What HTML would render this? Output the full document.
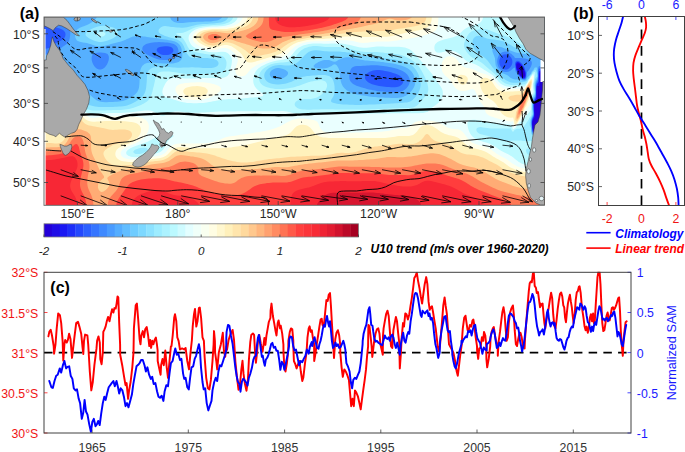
<!DOCTYPE html>
<html><head><meta charset="utf-8"><title>figure</title>
<style>html,body{margin:0;padding:0;background:#fff}svg{display:block}text{font-family:'Liberation Sans', sans-serif}</style></head><body>
<svg width="685" height="452" viewBox="0 0 685 452">
<rect width="685" height="452" fill="#fff"/>
<clipPath id="mc"><rect x="44" y="17" width="500.5" height="188"/></clipPath>
<g clip-path="url(#mc)">
<rect x="44" y="17" width="500.5" height="188" fill="#2400d8"/>
<path fill="#2400d8" d="M43 16L45 16L47 16L49 16L51 16L53 16L55 16L57 16L59 16L61 16L63 16L65 16L67 16L69 16L71 16L73 16L75 16L77 16L79 16L81 16L83 16L85 16L87 16L89 16L91 16L93 16L95 16L97 16L99 16L101 16L103 16L105 16L107 16L109 16L111 16L113 16L115 16L117 16L119 16L121 16L123 16L125 16L127 16L129 16L131 16L133 16L135 16L137 16L139 16L141 16L143 16L145 16L147 16L149 16L151 16L153 16L155 16L157 16L159 16L161 16L163 16L165 16L167 16L169 16L171 16L173 16L175 16L177 16L179 16L181 16L183 16L185 16L187 16L189 16L191 16L193 16L195 16L197 16L199 16L201 16L203 16L205 16L207 16L209 16L211 16L213 16L215 16L217 16L219 16L221 16L223 16L225 16L227 16L229 16L231 16L233 16L235 16L237 16L239 16L241 16L243 16L245 16L247 16L249 16L251 16L253 16L255 16L257 16L259 16L261 16L263 16L265 16L267 16L269 16L271 16L273 16L275 16L277 16L279 16L281 16L283 16L285 16L287 16L289 16L291 16L293 16L295 16L297 16L299 16L301 16L303 16L305 16L307 16L309 16L311 16L313 16L315 16L317 16L319 16L321 16L323 16L325 16L327 16L329 16L331 16L333 16L335 16L337 16L339 16L341 16L343 16L345 16L347 16L349 16L351 16L353 16L355 16L357 16L359 16L361 16L363 16L365 16L367 16L369 16L371 16L373 16L375 16L377 16L379 16L381 16L383 16L385 16L387 16L389 16L391 16L393 16L395 16L397 16L399 16L401 16L403 16L405 16L407 16L409 16L411 16L413 16L415 16L417 16L419 16L421 16L423 16L425 16L427 16L429 16L431 16L433 16L435 16L437 16L439 16L441 16L443 16L445 16L447 16L449 16L451 16L453 16L455 16L457 16L459 16L461 16L463 16L465 16L467 16L469 16L471 16L473 16L475 16L477 16L479 16L481 16L483 16L485 16L487 16L489 16L491 16L493 16L495 16L497 16L499 16L501 16L503 16L505 16L507 16L509 16L511 16L513 16L515 16L517 16L519 16L521 16L523 16L525 16L527 16L529 16L531 16L533 16L535 16L537 16L539 16L541 16L543 16L545 16L545 18L545 20L545 22L545 24L545 26L545 28L545 30L545 32L545 34L545 36L545 38L545 40L545 42L545 44L545 46L545 48L545 50L545 52L545 54L545 56L545 58L545 60L545 62L545 64L545 66L545 68L545 70L545 72L545 74L545 76L545 78L545 80L545 82L545 84L545 86L545 88L545 90L545 92L545 94L545 96L545 98L545 100L545 102L545 104L545 106L545 108L545 110L545 112L545 114L545 116L545 118L545 120L545 122L545 124L545 126L545 128L545 130L545 132L545 134L545 136L545 138L545 140L545 142L545 144L545 146L545 148L545 150L545 152L545 154L545 156L545 158L545 160L545 162L545 164L545 166L545 168L545 170L545 172L545 174L545 176L545 178L545 180L545 182L545 184L545 186L545 188L545 190L545 192L545 194L545 196L545 198L545 200L545 202L545 204L545 206L543 206L541 206L539 206L537 206L535 206L533 206L531 206L529 206L527 206L525 206L523 206L521 206L519 206L517 206L515 206L513 206L511 206L509 206L507 206L505 206L503 206L501 206L499 206L497 206L495 206L493 206L491 206L489 206L487 206L485 206L483 206L481 206L479 206L477 206L475 206L473 206L471 206L469 206L467 206L465 206L463 206L461 206L459 206L457 206L455 206L453 206L451 206L449 206L447 206L445 206L443 206L441 206L439 206L437 206L435 206L433 206L431 206L429 206L427 206L425 206L423 206L421 206L419 206L417 206L415 206L413 206L411 206L409 206L407 206L405 206L403 206L401 206L399 206L397 206L395 206L393 206L391 206L389 206L387 206L385 206L383 206L381 206L379 206L377 206L375 206L373 206L371 206L369 206L367 206L365 206L363 206L361 206L359 206L357 206L355 206L353 206L351 206L349 206L347 206L345 206L343 206L341 206L339 206L337 206L335 206L333 206L331 206L329 206L327 206L325 206L323 206L321 206L319 206L317 206L315 206L313 206L311 206L309 206L307 206L305 206L303 206L301 206L299 206L297 206L295 206L293 206L291 206L289 206L287 206L285 206L283 206L281 206L279 206L277 206L275 206L273 206L271 206L269 206L267 206L265 206L263 206L261 206L259 206L257 206L255 206L253 206L251 206L249 206L247 206L245 206L243 206L241 206L239 206L237 206L235 206L233 206L231 206L229 206L227 206L225 206L223 206L221 206L219 206L217 206L215 206L213 206L211 206L209 206L207 206L205 206L203 206L201 206L199 206L197 206L195 206L193 206L191 206L189 206L187 206L185 206L183 206L181 206L179 206L177 206L175 206L173 206L171 206L169 206L167 206L165 206L163 206L161 206L159 206L157 206L155 206L153 206L151 206L149 206L147 206L145 206L143 206L141 206L139 206L137 206L135 206L133 206L131 206L129 206L127 206L125 206L123 206L121 206L119 206L117 206L115 206L113 206L111 206L109 206L107 206L105 206L103 206L101 206L99 206L97 206L95 206L93 206L91 206L89 206L87 206L85 206L83 206L81 206L79 206L77 206L75 206L73 206L71 206L69 206L67 206L65 206L63 206L61 206L59 206L57 206L55 206L53 206L51 206L49 206L47 206L45 206L43 206L43 204L43 202L43 200L43 198L43 196L43 194L43 192L43 190L43 188L43 186L43 184L43 182L43 180L43 178L43 176L43 174L43 172L43 170L43 168L43 166L43 164L43 162L43 160L43 158L43 156L43 154L43 152L43 150L43 148L43 146L43 144L43 142L43 140L43 138L43 136L43 134L43 132L43 130L43 128L43 126L43 124L43 122L43 120L43 118L43 116L43 114L43 112L43 110L43 108L43 106L43 104L43 102L43 100L43 98L43 96L43 94L43 92L43 90L43 88L43 86L43 84L43 82L43 80L43 78L43 76L43 74L43 72L43 70L43 68L43 66L43 64L43 62L43 60L43 58L43 56L43 54L43 52L43 50L43 48L43 46L43 44L43 42L43 40L43 38L43 36L43 34L43 32L43 30L43 28L43 26L43 24L43 22L43 20L43 18ZM519 64.3L517 66L517.5 68L518.2 70L518.6 72L519 72.7L520.2 74L521 75.2L521.9 76L523 76.7L524 76L524.1 74L523.8 72L523.5 70L523 68.9L522.1 68L521.2 66L521 65.8ZM541 72.9L540.2 74L540 76L540.1 78L540.2 80L540.3 82L540.2 84L540 86L539.3 88L539 88L538.5 88L537 87.9L537 88L536.8 90L536.8 92L536.8 94L537 96L537 96.2L537.7 98L538 100L537.9 102L537.6 104L537 104.8L536.3 104L535 102.8L534.7 104L534.6 106L534.6 108L534.7 110L534.7 112L534.7 114L534.9 116L535 116.6L535.5 118L535.1 120L535 120.2L533 120.7L532.7 122L532.7 124L532.7 126L532.8 128L533 128.8L533.9 130L534.4 132L535 133.6L536.1 132L536.5 130L536.8 128L537 126L537 126L539 125.4L539.3 124L539.4 122L539.4 120L539.4 118L539.3 116L539 114.3L538.8 114L538.3 112L538.2 110L538.5 108L539 107.1L539.6 108L541 109.5L541.5 108L541.5 106L541.5 104L541.4 102L541.4 100L541.4 98L541.2 96L541 95.3L540.3 94L540 92L540.2 90L541 88.3L541.9 90L543 91.1L543.5 90L543.6 88L543.5 86L543.5 84L543.4 82L543.3 80L543.1 78L543 77.4L541.9 76L541.5 74Z"/>
<path fill="#181cf7" d="M43 16L45 16L47 16L49 16L51 16L53 16L55 16L57 16L59 16L61 16L63 16L65 16L67 16L69 16L71 16L73 16L75 16L77 16L79 16L81 16L83 16L85 16L87 16L89 16L91 16L93 16L95 16L97 16L99 16L101 16L103 16L105 16L107 16L109 16L111 16L113 16L115 16L117 16L119 16L121 16L123 16L125 16L127 16L129 16L131 16L133 16L135 16L137 16L139 16L141 16L143 16L145 16L147 16L149 16L151 16L153 16L155 16L157 16L159 16L161 16L163 16L165 16L167 16L169 16L171 16L173 16L175 16L177 16L179 16L181 16L183 16L185 16L187 16L189 16L191 16L193 16L195 16L197 16L199 16L201 16L203 16L205 16L207 16L209 16L211 16L213 16L215 16L217 16L219 16L221 16L223 16L225 16L227 16L229 16L231 16L233 16L235 16L237 16L239 16L241 16L243 16L245 16L247 16L249 16L251 16L253 16L255 16L257 16L259 16L261 16L263 16L265 16L267 16L269 16L271 16L273 16L275 16L277 16L279 16L281 16L283 16L285 16L287 16L289 16L291 16L293 16L295 16L297 16L299 16L301 16L303 16L305 16L307 16L309 16L311 16L313 16L315 16L317 16L319 16L321 16L323 16L325 16L327 16L329 16L331 16L333 16L335 16L337 16L339 16L341 16L343 16L345 16L347 16L349 16L351 16L353 16L355 16L357 16L359 16L361 16L363 16L365 16L367 16L369 16L371 16L373 16L375 16L377 16L379 16L381 16L383 16L385 16L387 16L389 16L391 16L393 16L395 16L397 16L399 16L401 16L403 16L405 16L407 16L409 16L411 16L413 16L415 16L417 16L419 16L421 16L423 16L425 16L427 16L429 16L431 16L433 16L435 16L437 16L439 16L441 16L443 16L445 16L447 16L449 16L451 16L453 16L455 16L457 16L459 16L461 16L463 16L465 16L467 16L469 16L471 16L473 16L475 16L477 16L479 16L481 16L483 16L485 16L487 16L489 16L491 16L493 16L495 16L497 16L499 16L501 16L503 16L505 16L507 16L509 16L511 16L513 16L515 16L517 16L519 16L521 16L523 16L525 16L527 16L529 16L531 16L533 16L535 16L537 16L539 16L541 16L543 16L545 16L545 18L545 20L545 22L545 24L545 26L545 28L545 30L545 32L545 34L545 36L545 38L545 40L545 42L545 44L545 46L545 48L545 50L545 52L545 54L545 56L545 58L545 60L545 62L545 64L545 66L545 68L545 70L545 72L545 74L545 76L545 78L545 80L545 82L545 84L545 86L545 88L545 90L545 92L545 94L545 96L545 98L545 100L545 102L545 104L545 106L545 108L545 110L545 112L545 114L545 116L545 118L545 120L545 122L545 124L545 126L545 128L545 130L545 132L545 134L545 136L545 138L545 140L545 142L545 144L545 146L545 148L545 150L545 152L545 154L545 156L545 158L545 160L545 162L545 164L545 166L545 168L545 170L545 172L545 174L545 176L545 178L545 180L545 182L545 184L545 186L545 188L545 190L545 192L545 194L545 196L545 198L545 200L545 202L545 204L545 206L543 206L541 206L539 206L537 206L535 206L533 206L531 206L529 206L527 206L525 206L523 206L521 206L519 206L517 206L515 206L513 206L511 206L509 206L507 206L505 206L503 206L501 206L499 206L497 206L495 206L493 206L491 206L489 206L487 206L485 206L483 206L481 206L479 206L477 206L475 206L473 206L471 206L469 206L467 206L465 206L463 206L461 206L459 206L457 206L455 206L453 206L451 206L449 206L447 206L445 206L443 206L441 206L439 206L437 206L435 206L433 206L431 206L429 206L427 206L425 206L423 206L421 206L419 206L417 206L415 206L413 206L411 206L409 206L407 206L405 206L403 206L401 206L399 206L397 206L395 206L393 206L391 206L389 206L387 206L385 206L383 206L381 206L379 206L377 206L375 206L373 206L371 206L369 206L367 206L365 206L363 206L361 206L359 206L357 206L355 206L353 206L351 206L349 206L347 206L345 206L343 206L341 206L339 206L337 206L335 206L333 206L331 206L329 206L327 206L325 206L323 206L321 206L319 206L317 206L315 206L313 206L311 206L309 206L307 206L305 206L303 206L301 206L299 206L297 206L295 206L293 206L291 206L289 206L287 206L285 206L283 206L281 206L279 206L277 206L275 206L273 206L271 206L269 206L267 206L265 206L263 206L261 206L259 206L257 206L255 206L253 206L251 206L249 206L247 206L245 206L243 206L241 206L239 206L237 206L235 206L233 206L231 206L229 206L227 206L225 206L223 206L221 206L219 206L217 206L215 206L213 206L211 206L209 206L207 206L205 206L203 206L201 206L199 206L197 206L195 206L193 206L191 206L189 206L187 206L185 206L183 206L181 206L179 206L177 206L175 206L173 206L171 206L169 206L167 206L165 206L163 206L161 206L159 206L157 206L155 206L153 206L151 206L149 206L147 206L145 206L143 206L141 206L139 206L137 206L135 206L133 206L131 206L129 206L127 206L125 206L123 206L121 206L119 206L117 206L115 206L113 206L111 206L109 206L107 206L105 206L103 206L101 206L99 206L97 206L95 206L93 206L91 206L89 206L87 206L85 206L83 206L81 206L79 206L77 206L75 206L73 206L71 206L69 206L67 206L65 206L63 206L61 206L59 206L57 206L55 206L53 206L51 206L49 206L47 206L45 206L43 206L43 204L43 202L43 200L43 198L43 196L43 194L43 192L43 190L43 188L43 186L43 184L43 182L43 180L43 178L43 176L43 174L43 172L43 170L43 168L43 166L43 164L43 162L43 160L43 158L43 156L43 154L43 152L43 150L43 148L43 146L43 144L43 142L43 140L43 138L43 136L43 134L43 132L43 130L43 128L43 126L43 124L43 122L43 120L43 118L43 116L43 114L43 112L43 110L43 108L43 106L43 104L43 102L43 100L43 98L43 96L43 94L43 92L43 90L43 88L43 86L43 84L43 82L43 80L43 78L43 76L43 74L43 72L43 70L43 68L43 66L43 64L43 62L43 60L43 58L43 56L43 54L43 52L43 50L43 48L43 46L43 44L43 42L43 40L43 38L43 36L43 34L43 32L43 30L43 28L43 26L43 24L43 22L43 20L43 18ZM517 63.4L516.7 64L516.4 66L516.7 68L517 69L517.5 70L518.1 72L519 73.6L519.4 74L520.8 76L521 76.2L523 77.6L525 76.2L525.1 76L525.1 74L525 73.6L524.5 72L524 70L523.1 68L523 67.8L521.8 66L521 64.9L519.9 64L519 63.2ZM541 71.6L540.4 72L539.3 74L539.1 76L539.2 78L539.5 80L539.5 82L539.5 84L539.1 86L539 86.1L538.3 86L537 85.7L536.9 86L536.6 88L536.5 90L536.5 92L536.5 94L536.6 96L536.7 98L536.8 100L535 101.3L534.7 102L534.3 104L534.2 106L534.2 108L534.3 110L534.4 112L534.4 114L534.5 116L534.3 118L533 119.4L532.8 120L532.4 122L532.3 124L532.4 126L532.5 128L532.9 130L533 130.2L533.9 132L534.6 134L535 134.7L536 134L537 132.3L537.1 132L537.8 130L539 128L539 128L539.6 126L539.8 124L539.9 122L539.8 120L539.8 118L539.8 116L539.7 114L540.1 112L541 111.3L541.6 110L542 108L542 106L541.9 104L541.8 102L541.7 100L541.7 98L541.6 96L541.5 94L543 92.3L543.2 92L544.1 90L544.1 88L544 86L543.9 84L543.8 82L543.6 80L543.4 78L543 76.2L542.9 76L542.1 74L541.2 72Z"/>
<path fill="#2857ff" d="M43 16L45 16L47 16L49 16L51 16L53 16L55 16L57 16L59 16L61 16L63 16L65 16L67 16L69 16L71 16L73 16L75 16L77 16L79 16L81 16L83 16L85 16L87 16L89 16L91 16L93 16L95 16L97 16L99 16L101 16L103 16L105 16L107 16L109 16L111 16L113 16L115 16L117 16L119 16L121 16L123 16L125 16L127 16L129 16L131 16L133 16L135 16L137 16L139 16L141 16L143 16L145 16L147 16L149 16L151 16L153 16L155 16L157 16L159 16L161 16L163 16L165 16L167 16L169 16L171 16L173 16L175 16L177 16L179 16L181 16L183 16L185 16L187 16L189 16L191 16L193 16L195 16L197 16L199 16L201 16L203 16L205 16L207 16L209 16L211 16L213 16L215 16L217 16L219 16L221 16L223 16L225 16L227 16L229 16L231 16L233 16L235 16L237 16L239 16L241 16L243 16L245 16L247 16L249 16L251 16L253 16L255 16L257 16L259 16L261 16L263 16L265 16L267 16L269 16L271 16L273 16L275 16L277 16L279 16L281 16L283 16L285 16L287 16L289 16L291 16L293 16L295 16L297 16L299 16L301 16L303 16L305 16L307 16L309 16L311 16L313 16L315 16L317 16L319 16L321 16L323 16L325 16L327 16L329 16L331 16L333 16L335 16L337 16L339 16L341 16L343 16L345 16L347 16L349 16L351 16L353 16L355 16L357 16L359 16L361 16L363 16L365 16L367 16L369 16L371 16L373 16L375 16L377 16L379 16L381 16L383 16L385 16L387 16L389 16L391 16L393 16L395 16L397 16L399 16L401 16L403 16L405 16L407 16L409 16L411 16L413 16L415 16L417 16L419 16L421 16L423 16L425 16L427 16L429 16L431 16L433 16L435 16L437 16L439 16L441 16L443 16L445 16L447 16L449 16L451 16L453 16L455 16L457 16L459 16L461 16L463 16L465 16L467 16L469 16L471 16L473 16L475 16L477 16L479 16L481 16L483 16L485 16L487 16L489 16L491 16L493 16L495 16L497 16L499 16L501 16L503 16L505 16L507 16L509 16L511 16L513 16L515 16L517 16L519 16L521 16L523 16L525 16L527 16L529 16L531 16L533 16L535 16L537 16L539 16L541 16L543 16L545 16L545 18L545 20L545 22L545 24L545 26L545 28L545 30L545 32L545 34L545 36L545 38L545 40L545 42L545 44L545 46L545 48L545 50L545 52L545 54L545 56L545 58L545 60L545 62L545 64L545 66L545 68L545 70L545 72L545 74L545 76L545 78L545 80L545 82L545 84L545 86L545 88L545 90L545 92L545 94L545 96L545 98L545 100L545 102L545 104L545 106L545 108L545 110L545 112L545 114L545 116L545 118L545 120L545 122L545 124L545 126L545 128L545 130L545 132L545 134L545 136L545 138L545 140L545 142L545 144L545 146L545 148L545 150L545 152L545 154L545 156L545 158L545 160L545 162L545 164L545 166L545 168L545 170L545 172L545 174L545 176L545 178L545 180L545 182L545 184L545 186L545 188L545 190L545 192L545 194L545 196L545 198L545 200L545 202L545 204L545 206L543 206L541 206L539 206L537 206L535 206L533 206L531 206L529 206L527 206L525 206L523 206L521 206L519 206L517 206L515 206L513 206L511 206L509 206L507 206L505 206L503 206L501 206L499 206L497 206L495 206L493 206L491 206L489 206L487 206L485 206L483 206L481 206L479 206L477 206L475 206L473 206L471 206L469 206L467 206L465 206L463 206L461 206L459 206L457 206L455 206L453 206L451 206L449 206L447 206L445 206L443 206L441 206L439 206L437 206L435 206L433 206L431 206L429 206L427 206L425 206L423 206L421 206L419 206L417 206L415 206L413 206L411 206L409 206L407 206L405 206L403 206L401 206L399 206L397 206L395 206L393 206L391 206L389 206L387 206L385 206L383 206L381 206L379 206L377 206L375 206L373 206L371 206L369 206L367 206L365 206L363 206L361 206L359 206L357 206L355 206L353 206L351 206L349 206L347 206L345 206L343 206L341 206L339 206L337 206L335 206L333 206L331 206L329 206L327 206L325 206L323 206L321 206L319 206L317 206L315 206L313 206L311 206L309 206L307 206L305 206L303 206L301 206L299 206L297 206L295 206L293 206L291 206L289 206L287 206L285 206L283 206L281 206L279 206L277 206L275 206L273 206L271 206L269 206L267 206L265 206L263 206L261 206L259 206L257 206L255 206L253 206L251 206L249 206L247 206L245 206L243 206L241 206L239 206L237 206L235 206L233 206L231 206L229 206L227 206L225 206L223 206L221 206L219 206L217 206L215 206L213 206L211 206L209 206L207 206L205 206L203 206L201 206L199 206L197 206L195 206L193 206L191 206L189 206L187 206L185 206L183 206L181 206L179 206L177 206L175 206L173 206L171 206L169 206L167 206L165 206L163 206L161 206L159 206L157 206L155 206L153 206L151 206L149 206L147 206L145 206L143 206L141 206L139 206L137 206L135 206L133 206L131 206L129 206L127 206L125 206L123 206L121 206L119 206L117 206L115 206L113 206L111 206L109 206L107 206L105 206L103 206L101 206L99 206L97 206L95 206L93 206L91 206L89 206L87 206L85 206L83 206L81 206L79 206L77 206L75 206L73 206L71 206L69 206L67 206L65 206L63 206L61 206L59 206L57 206L55 206L53 206L51 206L49 206L47 206L45 206L43 206L43 204L43 202L43 200L43 198L43 196L43 194L43 192L43 190L43 188L43 186L43 184L43 182L43 180L43 178L43 176L43 174L43 172L43 170L43 168L43 166L43 164L43 162L43 160L43 158L43 156L43 154L43 152L43 150L43 148L43 146L43 144L43 142L43 140L43 138L43 136L43 134L43 132L43 130L43 128L43 126L43 124L43 122L43 120L43 118L43 116L43 114L43 112L43 110L43 108L43 106L43 104L43 102L43 100L43 98L43 96L43 94L43 92L43 90L43 88L43 86L43 84L43 82L43 80L43 78L43 76L43 74L43 72L43 70L43 68L43 66L43 64L43 62L43 60L43 58L43 56L43 54L43 52L43 50L43 48L43 46L43 44L43 42L43 40L43 38L43 36L43 34L43 32L43 30L43 28L43 26L43 24L43 22L43 20L43 18ZM517 61.9L516.9 62L515.8 64L515.9 66L516.1 68L516.7 70L517 70.4L517.7 72L518.6 74L519 74.4L520.2 76L521 76.9L522.5 78L523 78.3L525 78L525 78L525.6 76L525.7 74L525.3 72L525 71.4L524.5 70L523.9 68L523 66.8L522.5 66L521 64L521 64L519 62.3L517.5 62ZM539 71.4L538.9 72L538.7 74L538.7 76L538.6 78L538.7 80L538.6 82L537 83.9L537 84L536.5 86L536.3 88L536.2 90L536.2 92L536.2 94L536.2 96L536 98L535 99.9L535 100L534.2 102L533.8 104L533.8 106L533.9 108L533.9 110L534 112L534.1 114L534 116L533.2 118L533 118.2L532.4 120L532 122L532 124L532.1 126L532.2 128L532.5 130L533 131.4L533.3 132L534.2 134L535 135.6L537 134.4L537.2 134L538 132L539 130L539 130L539.9 128L540.3 126L540.4 124L540.3 122L540.2 120L540.2 118L540.3 116L540.5 114L541 113L541.7 112L542.3 110L542.6 108L542.5 106L542.4 104L542.2 102L542.1 100L542.1 98L542.1 96L542.6 94L543 93.5L544.1 92L544.6 90L544.7 88L544.6 86L544.4 84L544.1 82L543.9 80L543.7 78L543.3 76L543 74.9L542.6 74L541.8 72L541 70.2Z"/>
<path fill="#3d87ff" d="M51.6 16L53 16L55 16L57 16L59 16L61 16L63 16L65 16L67 16L69 16L71 16L73 16L75 16L77 16L79 16L81 16L83 16L85 16L87 16L89 16L91 16L93 16L95 16L97 16L99 16L101 16L103 16L105 16L107 16L109 16L111 16L113 16L115 16L117 16L119 16L121 16L123 16L125 16L127 16L129 16L131 16L133 16L135 16L137 16L139 16L141 16L143 16L145 16L147 16L149 16L151 16L153 16L155 16L157 16L159 16L161 16L163 16L165 16L167 16L169 16L171 16L173 16L175 16L177 16L179 16L181 16L183 16L185 16L187 16L189 16L191 16L193 16L195 16L197 16L199 16L201 16L203 16L205 16L207 16L209 16L211 16L213 16L215 16L217 16L219 16L221 16L223 16L225 16L227 16L229 16L231 16L233 16L235 16L237 16L239 16L241 16L243 16L245 16L247 16L249 16L251 16L253 16L255 16L257 16L259 16L261 16L263 16L265 16L267 16L269 16L271 16L273 16L275 16L277 16L279 16L281 16L283 16L285 16L287 16L289 16L291 16L293 16L295 16L297 16L299 16L301 16L303 16L305 16L307 16L309 16L311 16L313 16L315 16L317 16L319 16L321 16L323 16L325 16L327 16L329 16L331 16L333 16L335 16L337 16L339 16L341 16L343 16L345 16L347 16L349 16L351 16L353 16L355 16L357 16L359 16L361 16L363 16L365 16L367 16L369 16L371 16L373 16L375 16L377 16L379 16L381 16L383 16L385 16L387 16L389 16L391 16L393 16L395 16L397 16L399 16L401 16L403 16L405 16L407 16L409 16L411 16L413 16L415 16L417 16L419 16L421 16L423 16L425 16L427 16L429 16L431 16L433 16L435 16L437 16L439 16L441 16L443 16L445 16L447 16L449 16L451 16L453 16L455 16L457 16L459 16L461 16L463 16L465 16L467 16L469 16L471 16L473 16L475 16L477 16L479 16L481 16L483 16L485 16L487 16L489 16L491 16L493 16L495 16L497 16L499 16L501 16L503 16L505 16L507 16L509 16L511 16L513 16L515 16L517 16L519 16L521 16L523 16L525 16L527 16L529 16L531 16L533 16L535 16L537 16L539 16L541 16L543 16L545 16L545 18L545 20L545 22L545 24L545 26L545 28L545 30L545 32L545 34L545 36L545 38L545 40L545 42L545 44L545 46L545 48L545 50L545 52L545 54L545 56L545 58L545 60L545 62L545 64L545 66L545 68L545 70L545 72L545 74L545 76L545 78L545 80L545 82L545 84L545 85.4L544.8 84L544.5 82L544.3 80L544 78L543.6 76L543.2 74L543 73.6L542.4 72L541.5 70L541 68.7L539 68.6L538.6 70L538.4 72L538.3 74L538.3 76L538.2 78L538 80L537.2 82L537 82.3L536.4 84L536 86L535.9 88L535.9 90L535.9 92L535.9 94L535.8 96L535.4 98L535 98.7L534.3 100L533.7 102L533.4 104L533.4 106L533.5 108L533.6 110L533.7 112L533.8 114L533.6 116L533 117.2L532.6 118L531.9 120L531.7 122L531.7 124L531.8 126L531.9 128L532.2 130L532.7 132L533 132.5L533.7 134L534.7 136L535 136.4L536.8 136L537 135.9L537.9 134L538.8 132L539 131.7L540.2 130L540.8 128L541 126L540.9 124L540.8 122L540.6 120L540.6 118L540.8 116L541 114.9L541.8 114L542.8 112L543 110.9L543.1 110L543.1 108L543.1 106L543 105.4L542.9 104L542.7 102L542.4 100L542.4 98L542.6 96L543 94.8L543.9 94L544.9 92L545 91.7L545 92L545 94L545 96L545 98L545 100L545 102L545 104L545 106L545 108L545 110L545 112L545 114L545 116L545 118L545 120L545 122L545 124L545 126L545 128L545 130L545 132L545 134L545 136L545 138L545 140L545 142L545 144L545 146L545 148L545 150L545 152L545 154L545 156L545 158L545 160L545 162L545 164L545 166L545 168L545 170L545 172L545 174L545 176L545 178L545 180L545 182L545 184L545 186L545 188L545 190L545 192L545 194L545 196L545 198L545 200L545 202L545 204L545 206L543 206L541 206L539 206L537 206L535 206L533 206L531 206L529 206L527 206L525 206L523 206L521 206L519 206L517 206L515 206L513 206L511 206L509 206L507 206L505 206L503 206L501 206L499 206L497 206L495 206L493 206L491 206L489 206L487 206L485 206L483 206L481 206L479 206L477 206L475 206L473 206L471 206L469 206L467 206L465 206L463 206L461 206L459 206L457 206L455 206L453 206L451 206L449 206L447 206L445 206L443 206L441 206L439 206L437 206L435 206L433 206L431 206L429 206L427 206L425 206L423 206L421 206L419 206L417 206L415 206L413 206L411 206L409 206L407 206L405 206L403 206L401 206L399 206L397 206L395 206L393 206L391 206L389 206L387 206L385 206L383 206L381 206L379 206L377 206L375 206L373 206L371 206L369 206L367 206L365 206L363 206L361 206L359 206L357 206L355 206L353 206L351 206L349 206L347 206L345 206L343 206L341 206L339 206L337 206L335 206L333 206L331 206L329 206L327 206L325 206L323 206L321 206L319 206L317 206L315 206L313 206L311 206L309 206L307 206L305 206L303 206L301 206L299 206L297 206L295 206L293 206L291 206L289 206L287 206L285 206L283 206L281 206L279 206L277 206L275 206L273 206L271 206L269 206L267 206L265 206L263 206L261 206L259 206L257 206L255 206L253 206L251 206L249 206L247 206L245 206L243 206L241 206L239 206L237 206L235 206L233 206L231 206L229 206L227 206L225 206L223 206L221 206L219 206L217 206L215 206L213 206L211 206L209 206L207 206L205 206L203 206L201 206L199 206L197 206L195 206L193 206L191 206L189 206L187 206L185 206L183 206L181 206L179 206L177 206L175 206L173 206L171 206L169 206L167 206L165 206L163 206L161 206L159 206L157 206L155 206L153 206L151 206L149 206L147 206L145 206L143 206L141 206L139 206L137 206L135 206L133 206L131 206L129 206L127 206L125 206L123 206L121 206L119 206L117 206L115 206L113 206L111 206L109 206L107 206L105 206L103 206L101 206L99 206L97 206L95 206L93 206L91 206L89 206L87 206L85 206L83 206L81 206L79 206L77 206L75 206L73 206L71 206L69 206L67 206L65 206L63 206L61 206L59 206L57 206L55 206L53 206L51 206L49 206L47 206L45 206L43 206L43 204L43 202L43 200L43 198L43 196L43 194L43 192L43 190L43 188L43 186L43 184L43 182L43 180L43 178L43 176L43 174L43 172L43 170L43 168L43 166L43 164L43 162L43 160L43 158L43 156L43 154L43 152L43 150L43 148L43 146L43 144L43 142L43 140L43 138L43 136L43 134L43 132L43 130L43 128L43 126L43 124L43 122L43 120L43 118L43 116L43 114L43 112L43 110L43 108L43 106L43 104L43 102L43 100L43 98L43 96L43 94L43 92L43 90L43 88L43 86L43 84L43 82L43 80L43 78L43 76L43 74L43 72L43 70L43 68L43 66L43 64L43 62L43 60L43 58L43 56L43 54L43 52L43 50L43 48.8L45 48.7L47 48.5L48.8 48L49 47.9L51 46.8L52.2 46L53 45.3L54.5 44L55 43.6L57 42.4L57.8 42L59 41.5L61 40.6L62.1 40L63 39.4L64.4 38L65 36.8L65.3 36L65.5 34L65 32.2L64.9 32L63.1 30L63 29.9L61 28.9L59 28.3L57.9 28L57 27.7L55 27L53.5 26L53 25.2L52.4 24L52 22L51.8 20L51.7 18ZM159 47.3L157.6 48L157 49.1L156.6 50L157 50.9L157.5 52L159 53.2L160.1 54L161 54.4L163 54.9L165 55.1L167 55.1L169 54.7L170.9 54L171 54L173 52.1L173.1 52L173.4 50L173 48.9L172.4 48L171 47.1L169 46.5L167 46.2L165 46.2L163 46.4L161 46.7ZM371 71.2L369.1 72L369 72.1L367 73.6L366.5 74L365.2 76L365 77.4L364.9 78L365 78.2L365.8 80L367 81.2L367.8 82L369 82.7L371 83.8L371.5 84L373 84.5L375 85.1L377 85.6L379 86L379.1 86L381 86.3L383 86.5L385 86.7L387 86.9L389 87.1L391 87.2L393 87.3L395 87.3L397 87L399 86.4L399.9 86L401 85.3L402.3 84L403 82.5L403.2 82L403.1 80L403 79.6L402.2 78L401 76.8L400.1 76L399 75.3L397 74.3L396.3 74L395 73.5L393 72.9L391 72.3L390 72L389 71.8L387 71.3L385 70.9L383 70.6L381 70.3L379 70.1L377 70.1L375 70.3L373 70.6ZM503 54.8L501.5 56L501 56.5L500.1 58L499.4 60L499.3 62L499.5 64L500.3 66L501 67.1L501.8 68L503 68.9L505 69.6L507 69.4L509 68.4L509.5 68L511 66.2L511.2 66L512.1 64L512.4 62L512.2 60L511.4 58L511 57.4L509.8 56L509 55.3L507 54.4L505 54.2ZM517 60.8L515.4 62L515 64L515.3 66L515.6 68L516 70L517 71.5L517.2 72L517.9 74L519 75.2L519.6 76L521 77.6L521.6 78L523 79L525 78.9L525.7 78L526.1 76L526.2 74L526.2 72L525.3 70L525 69.6L524.6 68L523.7 66L523 65.3L522.4 64L521 62.7L520.1 62L519 61.1Z"/>
<path fill="#56b0ff" d="M59.7 16L61 16L63 16L65 16L67 16L69 16L71 16L73 16L75 16L77 16L79 16L81 16L83 16L85 16L87 16L89 16L91 16L93 16L95 16L97 16L99 16L101 16L103 16L105 16L107 16L109 16L111 16L113 16L115 16L117 16L119 16L121 16L123 16L125 16L127 16L129 16L131 16L133 16L135 16L137 16L139 16L141 16L143 16L145 16L147 16L149 16L151 16L153 16L155 16L157 16L159 16L161 16L163 16L165 16L167 16L169 16L171 16L173 16L175 16L177 16L179 16L181 16L183 16L185 16L187 16L189 16L191 16L193 16L195 16L197 16L199 16L201 16L203 16L205 16L207 16L209 16L211 16L213 16L215 16L217 16L219 16L221 16L223 16L225 16L227 16L229 16L231 16L233 16L235 16L237 16L239 16L241 16L243 16L245 16L247 16L249 16L251 16L253 16L255 16L257 16L259 16L261 16L263 16L265 16L267 16L269 16L271 16L273 16L275 16L277 16L279 16L281 16L283 16L285 16L287 16L289 16L291 16L293 16L295 16L297 16L299 16L301 16L303 16L305 16L307 16L309 16L311 16L313 16L315 16L317 16L319 16L321 16L323 16L325 16L327 16L329 16L331 16L333 16L335 16L337 16L339 16L341 16L343 16L345 16L347 16L349 16L351 16L353 16L355 16L357 16L359 16L361 16L363 16L365 16L367 16L369 16L371 16L373 16L375 16L377 16L379 16L381 16L383 16L385 16L387 16L389 16L391 16L393 16L395 16L397 16L399 16L401 16L403 16L405 16L407 16L409 16L411 16L413 16L415 16L417 16L419 16L421 16L423 16L425 16L427 16L429 16L431 16L433 16L435 16L437 16L439 16L441 16L443 16L445 16L447 16L449 16L451 16L453 16L455 16L457 16L459 16L461 16L463 16L465 16L467 16L469 16L471 16L473 16L475 16L477 16L479 16L481 16L483 16L485 16L487 16L489 16L491 16L493 16L495 16L497 16L499 16L501 16L503 16L505 16L507 16L509 16L511 16L513 16L515 16L517 16L519 16L521 16L523 16L525 16L527 16L529 16L531 16L533 16L535 16L537 16L539 16L541 16L543 16L545 16L545 18L545 20L545 22L545 24L545 26L545 28L545 30L545 32L545 34L545 36L545 38L545 40L545 42L545 44L545 46L545 48L545 50L545 52L545 54L545 56L545 58L545 60L545 62L545 64L545 66L545 68L545 70L545 72L545 74L545 76L545 78L545 80L545 82L545 82.7L544.9 82L544.6 80L544.3 78L544 76L543.7 74L543 72.1L542.9 72L542.2 70L541.5 68L541 67L539 66.1L538.2 68L538 70L537.9 72L537.9 74L537.9 76L537.7 78L537.3 80L537 80.6L536.3 82L535.8 84L535.6 86L535.5 88L535.6 90L535.6 92L535.6 94L535.4 96L535 97.4L534.5 98L533.5 100L533.1 102L533 103.9L533 104L533 105.5L533 106L533.1 108L533.2 110L533.4 112L533.5 114L533.1 116L533 116.3L532.1 118L531.5 120L531.3 122L531.3 124L531.5 126L531.6 128L531.8 130L532.2 132L533 133.5L533.2 134L534.2 136L535 137.3L537 137.1L537.6 136L538.6 134L539 133.1L540.4 132L541 131.1L541.6 130L542 128L542.1 126L542 124L541.7 122L541.1 120L541.2 118L542.6 116L543 115.4L543.3 114L543.6 112L543.7 110L543.7 108L543.6 106L543.5 104L543.1 102L543 101.5L542.8 100L542.8 98L543 96.4L543.3 96L545 94.4L545 96L545 98L545 100L545 102L545 104L545 106L545 108L545 110L545 112L545 114L545 116L545 118L545 120L545 122L545 124L545 126L545 128L545 130L545 132L545 134L545 136L545 138L545 140L545 142L545 144L545 146L545 148L545 150L545 152L545 154L545 156L545 158L545 160L545 162L545 164L545 166L545 168L545 170L545 172L545 174L545 176L545 178L545 180L545 182L545 184L545 186L545 188L545 190L545 192L545 194L545 196L545 198L545 200L545 202L545 204L545 206L543 206L541 206L539 206L537 206L535 206L533 206L531 206L529 206L527 206L525 206L523 206L521 206L519 206L517 206L515 206L513 206L511 206L509 206L507 206L505 206L503 206L501 206L499 206L497 206L495 206L493 206L491 206L489 206L487 206L485 206L483 206L481 206L479 206L477 206L475 206L473 206L471 206L469 206L467 206L465 206L463 206L461 206L459 206L457 206L455 206L453 206L451 206L449 206L447 206L445 206L443 206L441 206L439 206L437 206L435 206L433 206L431 206L429 206L427 206L425 206L423 206L421 206L419 206L417 206L415 206L413 206L411 206L409 206L407 206L405 206L403 206L401 206L399 206L397 206L395 206L393 206L391 206L389 206L387 206L385 206L383 206L381 206L379 206L377 206L375 206L373 206L371 206L369 206L367 206L365 206L363 206L361 206L359 206L357 206L355 206L353 206L351 206L349 206L347 206L345 206L343 206L341 206L339 206L337 206L335 206L333 206L331 206L329 206L327 206L325 206L323 206L321 206L319 206L317 206L315 206L313 206L311 206L309 206L307 206L305 206L303 206L301 206L299 206L297 206L295 206L293 206L291 206L289 206L287 206L285 206L283 206L281 206L279 206L277 206L275 206L273 206L271 206L269 206L267 206L265 206L263 206L261 206L259 206L257 206L255 206L253 206L251 206L249 206L247 206L245 206L243 206L241 206L239 206L237 206L235 206L233 206L231 206L229 206L227 206L225 206L223 206L221 206L219 206L217 206L215 206L213 206L211 206L209 206L207 206L205 206L203 206L201 206L199 206L197 206L195 206L193 206L191 206L189 206L187 206L185 206L183 206L181 206L179 206L177 206L175 206L173 206L171 206L169 206L167 206L165 206L163 206L161 206L159 206L157 206L155 206L153 206L151 206L149 206L147 206L145 206L143 206L141 206L139 206L137 206L135 206L133 206L131 206L129 206L127 206L125 206L123 206L121 206L119 206L117 206L115 206L113 206L111 206L109 206L107 206L105 206L103 206L101 206L99 206L97 206L95 206L93 206L91 206L89 206L87 206L85 206L83 206L81 206L79 206L77 206L75 206L73 206L71 206L69 206L67 206L65 206L63 206L61 206L59 206L57 206L55 206L53 206L51 206L49 206L47 206L45 206L43 206L43 204L43 202L43 200L43 198L43 196L43 194L43 192L43 190L43 188L43 186L43 184L43 182L43 180L43 178L43 176L43 174L43 172L43 170L43 168L43 166L43 164L43 162L43 160L43 158L43 156L43 154L43 152L43 150L43 148L43 146L43 144L43 142L43 140L43 138L43 136L43 134L43 132L43 130L43 128L43 126L43 124L43 122L43 120L43 118L43 116L43 114L43 112L43 110L43 108L43 106L43 104L43 102L43 100L43 98L43 96L43 94L43 92L43 90L43 88L43 86L43 84L43 82L43 80L43 78L43 76L43 74L43 72L43 70L43 68L43 66L43 64L43 62L43 60L43 58L43 56L43 54.7L45 54.6L47 54.6L49 54.4L51 54L51.1 54L53 53.6L55 52.8L56.3 52L57 51.5L58.8 50L59 49.8L61 48.1L61.1 48L63 46.6L63.9 46L65 45.3L66.6 44L67 43.7L68.4 42L69 40.9L69.3 40L69.8 38L70.1 36L70.2 34L70.2 32L70 30L69.6 28L69 26.7L68.5 26L67 24.6L65.9 24L65 23.5L63 22.4L62.4 22L61 20.6L60.6 20L59.9 18ZM95 53.2L93.2 54L93 54.2L91.9 56L91.6 58L91.7 60L92.2 62L93 64L93 64.1L94.2 66L95 67.1L96 68L97 68.8L99 69.5L101 69.5L103 68.8L104 68L105 67.2L105.9 66L107 64.4L107.2 64L108.1 62L108.7 60L108.9 58L108.7 56L107.6 54L107 53.7L105 53L103 52.7L101 52.6L99 52.6L97 52.8ZM147 43.7L146.2 44L145 44.7L143.3 46L143 46.6L142.3 48L142.4 50L143 50.9L143.7 52L145 53.1L146.1 54L147 54.5L149 55.6L149.7 56L151 56.6L153 57.4L154.4 58L155 58.2L157 58.9L159 59.4L161 59.8L163 60L163.3 60L165 60.1L167 60L167.5 60L169 59.9L171 59.5L173 59L175 58L175 58L177 56.1L177.1 56L178 54L178.5 52L178.4 50L177.8 48L177 46.5L176.6 46L175 44.7L173.7 44L173 43.7L171 43.2L169 42.8L167 42.6L165 42.4L163 42.2L161 42.2L159 42.1L157 42.2L155 42.3L153 42.5L151 42.8L149 43.2ZM359 66L358.5 66L357 66L355 66.2L353 66.9L351.7 68L351 69L350.5 70L349.9 72L349.4 74L349.2 76L349.3 78L349.8 80L350.9 82L351 82.1L353 83.9L353.1 84L355 85L357 85.9L357.2 86L359 86.6L361 87.2L363 87.8L363.7 88L365 88.3L367 88.9L369 89.4L371 89.8L372 90L373 90.2L375 90.6L377 90.9L379 91.2L381 91.4L383 91.6L385 91.8L386.7 92L387 92L389 92.2L391 92.4L393 92.5L395 92.6L397 92.5L399 92.2L399.7 92L401 91.6L403 90.8L404.3 90L405 89.5L406.7 88L407 87.6L408.2 86L409 84.5L409.2 84L409.7 82L409.7 80L409.3 78L409 77.4L408.3 76L407 74.3L406.7 74L405 72.6L404.2 72L403 71.3L401 70.3L400.2 70L399 69.5L397 68.8L395 68.2L394.2 68L393 67.7L391 67.3L389 66.9L387 66.5L385 66.2L383.6 66L383 65.9L381 65.7L379 65.5L377 65.3L375 65.2L373 65.2L371 65.2L369 65.4L367 65.5L365 65.7L363 65.8L361 65.9ZM503 51.9L502.7 52L501 52.9L499.8 54L499 55L498.5 56L497.7 58L497.3 60L497.2 62L497.5 64L498.1 66L499 67.9L499.1 68L500.8 70L501 70.1L503 71.4L505 72L506 72L507 72L507 72L509 71.4L511 70.3L511.4 70L513 68.4L513.7 68L515 67.4L515.1 68L515.2 70L515.8 72L517 73.3L517.2 74L519 76L519 76L520.2 78L521 78.5L523 79.6L525 79.8L526.3 78L526.7 76L526.8 74L527 72.1L527.1 72L529 70L529 70L530.2 68L531 66.4L531.2 66L531.8 64L531.8 62L531 60.8L530.2 60L529 59.5L527 58.9L525 58.5L523 58.2L521 58.1L519 58.1L517 58.1L515 58.1L515 58L513.7 56L513 55.5L511.4 54L511 53.7L509 52.5L507.7 52L507 51.8L505 51.6Z"/>
<path fill="#75d3ff" d="M97 16L97 16L99 16L101 16L103 16L105 16L107 16L109 16L111 16L113 16L115 16L117 16L119 16L121 16L123 16L125 16L127 16L129 16L131 16L133 16L135 16L137 16L139 16L141 16L143 16L145 16L147 16L149 16L151 16L153 16L155 16L157 16L159 16L161 16L163 16L165 16L167 16L169 16L170.1 16L170.4 18L171 19.3L171.4 20L173 21.3L174.2 22L175 22.3L177 22.7L179 23L181 23L183 22.9L185 22.7L187 22.5L189 22.3L191 22.2L193 22L193.5 22L195 21.9L197 21.8L199 21.7L201 21.7L203 21.7L205 21.6L207 21.6L209 21.5L211 21.4L213 21.1L215 20.8L217 20.4L218.6 20L219 19.8L221 18.5L221.6 18L222.4 16L223 16L225 16L227 16L229 16L231 16L233 16L235 16L237 16L239 16L241 16L243 16L245 16L247 16L249 16L251 16L253 16L255 16L257 16L259 16L261 16L263 16L265 16L267 16L269 16L271 16L273 16L275 16L277 16L279 16L281 16L283 16L285 16L287 16L289 16L291 16L293 16L295 16L297 16L299 16L301 16L303 16L305 16L307 16L309 16L311 16L313 16L315 16L317 16L319 16L321 16L323 16L325 16L327 16L329 16L331 16L333 16L335 16L337 16L339 16L341 16L343 16L345 16L347 16L349 16L351 16L353 16L355 16L357 16L359 16L361 16L363 16L365 16L367 16L369 16L371 16L373 16L375 16L377 16L379 16L381 16L383 16L385 16L387 16L389 16L391 16L393 16L395 16L397 16L399 16L401 16L403 16L405 16L407 16L409 16L411 16L413 16L415 16L417 16L419 16L421 16L423 16L425 16L427 16L429 16L431 16L433 16L435 16L437 16L439 16L441 16L443 16L445 16L447 16L449 16L451 16L453 16L455 16L457 16L459 16L461 16L463 16L465 16L467 16L469 16L471 16L473 16L475 16L477 16L479 16L481 16L483 16L485 16L487 16L489 16L491 16L493 16L495 16L497 16L499 16L501 16L503 16L505 16L507 16L509 16L511 16L513 16L515 16L517 16L519 16L521 16L523 16L525 16L527 16L529 16L531 16L533 16L535 16L537 16L539 16L541 16L543 16L545 16L545 18L545 20L545 22L545 24L545 26L545 28L545 30L545 32L545 34L545 36L545 38L545 40L545 42L545 44L545 46L545 48L545 50L545 52L545 54L545 55.4L543 55.4L541 55.3L539 55.2L537 55.1L535 54.9L533 54.8L531 54.6L529 54.4L527 54.2L525 54L524.9 54L523 53.8L521 53.5L519 53.1L517 52.7L515 52.2L514.4 52L513 51.6L511 50.8L509 50.1L508.5 50L507 49.2L505 48.4L503.6 48L503 47.7L501 47.1L499 46.7L497 46.7L495 47.1L493.3 48L493 48.5L492.3 50L492.6 52L493 52.9L493.4 54L494.2 56L494.9 58L495 58.4L495.1 60L495.3 62L495.5 64L495.9 66L497 67.6L497.2 68L498.4 70L499 70.6L500.6 72L501 72.4L503 73.4L504.8 74L505 74.2L507 75L508.6 76L509 76.4L510.8 78L511 78.1L513 78.9L515 79.4L517 79.6L519 79.5L521 79.8L521.6 80L523 80.6L525 80.8L526.1 80L527 78L527 78L528.9 76L529 75.9L530.5 74L531 73.4L531.4 72L533 70.3L533.3 70L534.5 68L535 67.4L537 67.4L537.1 68L537.3 70L537.4 72L537.5 74L537.6 76L537.2 78L537 78.9L536.2 80L535.5 82L535.2 84L535.1 86L535.2 88L535.2 90L535.4 92L535.3 94L535 96L535 96.1L533.5 98L533 99.3L532.9 100L532.7 102L532.6 104L532.6 106L532.6 108L532.8 110L533 111.1L533.1 112L533.2 114L533 114.9L532.5 116L531.5 118L531.1 120L531 121.5L530.9 122L531 123.8L531 124L531.2 126L531.3 128L531.4 130L531.6 132L532.5 134L533 134.5L533.7 136L534.9 138L535 138.1L537 138.2L537.2 138L538.2 136L539 134.5L540 134L541 133.3L542.5 132L543 130.4L545 130.5L545 132L545 134L545 136L545 138L545 140L545 142L545 144L545 146L545 148L545 150L545 152L545 154L545 156L545 158L545 160L545 162L545 164L545 166L545 168L545 170L545 172L545 174L545 176L545 178L545 180L545 182L545 184L545 186L545 188L545 190L545 192L545 194L545 196L545 198L545 200L545 202L545 204L545 206L543 206L541 206L539 206L537 206L535 206L533 206L531 206L529 206L527 206L525 206L523 206L521 206L519 206L517 206L515 206L513 206L511 206L509 206L507 206L505 206L503 206L501 206L499 206L497 206L495 206L493 206L491 206L489 206L487 206L485 206L483 206L481 206L479 206L477 206L475 206L473 206L471 206L469 206L467 206L465 206L463 206L461 206L459 206L457 206L455 206L453 206L451 206L449 206L447 206L445 206L443 206L441 206L439 206L437 206L435 206L433 206L431 206L429 206L427 206L425 206L423 206L421 206L419 206L417 206L415 206L413 206L411 206L409 206L407 206L405 206L403 206L401 206L399 206L397 206L395 206L393 206L391 206L389 206L387 206L385 206L383 206L381 206L379 206L377 206L375 206L373 206L371 206L369 206L367 206L365 206L363 206L361 206L359 206L357 206L355 206L353 206L351 206L349 206L347 206L345 206L343 206L341 206L339 206L337 206L335 206L333 206L331 206L329 206L327 206L325 206L323 206L321 206L319 206L317 206L315 206L313 206L311 206L309 206L307 206L305 206L303 206L301 206L299 206L297 206L295 206L293 206L291 206L289 206L287 206L285 206L283 206L281 206L279 206L277 206L275 206L273 206L271 206L269 206L267 206L265 206L263 206L261 206L259 206L257 206L255 206L253 206L251 206L249 206L247 206L245 206L243 206L241 206L239 206L237 206L235 206L233 206L231 206L229 206L227 206L225 206L223 206L221 206L219 206L217 206L215 206L213 206L211 206L209 206L207 206L205 206L203 206L201 206L199 206L197 206L195 206L193 206L191 206L189 206L187 206L185 206L183 206L181 206L179 206L177 206L175 206L173 206L171 206L169 206L167 206L165 206L163 206L161 206L159 206L157 206L155 206L153 206L151 206L149 206L147 206L145 206L143 206L141 206L139 206L137 206L135 206L133 206L131 206L129 206L127 206L125 206L123 206L121 206L119 206L117 206L115 206L113 206L111 206L109 206L107 206L105 206L103 206L101 206L99 206L97 206L95 206L93 206L91 206L89 206L87 206L85 206L83 206L81 206L79 206L77 206L75 206L73 206L71 206L69 206L67 206L65 206L63 206L61 206L59 206L57 206L55 206L53 206L51 206L49 206L47 206L45 206L43 206L43 204L43 202L43 200L43 198L43 196L43 194L43 192L43 190L43 188L43 186L43 184L43 182L43 180L43 178L43 176L43 174L43 172L43 170L43 168L43 166L43 164L43 162L43 160L43 158L43 156L43 154L43 152L43 150L43 148L43 146L43 144L43 142L43 140L43 138L43 136L43 134L43 132L43 130L43 128L43 126L43 124L43 122L43 120L43 118L43 116L43 114L43 112L43 110L43 108L43 106L43 105.1L45 105.1L47 104.9L49 104.7L51 104.3L52.3 104L53 103.7L55 102.8L57 102L57 102L59 100.6L60.5 100L61 99.3L63 98.1L63.6 98L65 96.6L67 96.5L69 97.2L70.6 98L71 98L73 98L73 98L75 96L74.8 94L73 92.5L71 92.3L69 92.5L67 93L65 93.5L63 93.5L61 93.3L59 93.1L57 93L55 92.9L53 92.9L51 92.9L49 92.9L47 92.8L45 92.8L43 92.8L43 92L43 90L43 88L43 86L43 84L43 82L43 81.9L45 81.9L47 81.9L49 81.9L51 81.9L53 82L54.1 82L55 82L57 82.1L59 82.2L61 82.2L63 82.1L63.8 82L65 81.9L67 81.7L69 81.3L71 81.1L73 81.3L74.5 82L75 82.4L76.2 84L77 85.9L77 86L77.5 88L78.9 90L79 90.1L81 90.7L83 91.2L84.9 92L85 92L87 92.9L88.6 94L89 94.2L91 95.8L91.2 96L93 97.5L93.5 98L95 99.1L96.2 100L97 100.4L99 101.2L101 101.8L102 102L103 102.1L105 102.2L107 102.2L109 102.1L111 102L111.5 102L113 101.9L115 101.8L117 101.7L119 101.5L121 101.3L123 100.9L125 100.3L125.8 100L127 99.4L129 98.4L129.7 98L131 97.2L132.9 96L133 95.9L135 94.4L135.5 94L137 92.3L137.3 92L138.3 90L138.9 88L139 87.6L139.2 86L139.4 84L139.5 82L139.6 80L139.6 78L139.7 76L139.8 74L140 72L140.4 70L141 68.3L141.1 68L142.2 66L143 65.2L144.5 64L145 63.7L147 63L149 62.7L151 62.6L153 62.7L155 62.8L157 63L159 63.2L161 63.3L163 63.4L165 63.5L167 63.5L169 63.6L171 63.5L173 63.4L175 63.1L177 62.6L178.6 62L179 61.8L181 60L181 60L182 58L182.3 56L182.3 54L182.2 52L181.8 50L181.3 48L181 47.3L180.4 46L179 44.1L178.9 44L177 42.6L175.9 42L175 41.6L173 41L171 40.6L169 40.2L168 40L167 39.8L165 39.5L163 39.2L161 38.9L159 38.6L157 38.3L155 38.1L154.1 38L153 37.8L151 37.5L149 37.2L147 36.9L145 36.6L143 36.4L141 36.1L139 36L137 36L135 36.2L133 36.6L131 37.3L129.4 38L129 38.2L127 39.1L125.1 40L125 40L123 40.8L121 41.5L119 42L118.9 42L117 42.5L115 43L113 43.5L111 44L111 44L109 44.7L107 45.3L105 45.8L104.1 46L103 46.2L101 46.4L99 46.4L97 46.1L96.5 46L95 45.7L93 45L91 44.3L90.1 44L89 43.7L87 43.1L85 42.7L83 42.4L81 42.1L80.7 42L79 41.6L77 40.5L76.6 40L75.5 38L75.1 36L75.1 34L75.6 32L76.8 30L77 29.8L79 28.3L79.5 28L81 27.3L83 26.5L84.5 26L85 25.8L87 24.9L89 24L89 24L91 22.8L92.4 22L93 21.5L94.9 20L95 19.8L96.4 18ZM273 69.4L272 70L271 71L270.3 72L269.7 74L270.2 76L271 77.1L272.1 78L273 78.5L275 79.2L277 79.4L279 79.3L281 78.9L283 78.2L283.5 78L285 77.1L286.6 76L287 75.4L288 74L287.9 72L287 71.3L285.5 70L285 69.8L283 69L281 68.4L279 68L277 68.1L275 68.5ZM343 58L342.9 58L341 58.8L339 59.7L338.1 60L337 61L335 61.8L333 61.5L331 60.7L329 60.1L328.3 60L327 59.9L325 60L324.7 60L323 60.3L321 60.9L319 61.7L318.4 62L317 62.9L315.1 64L315 64.2L313.4 66L315 68L315 68L317 68.3L319 68.5L321 68.5L323 68.5L325 68.3L327 68L327 68L329 67.2L331 66.3L331.6 66L333 64.8L335 64.2L337 65.5L337.2 66L338.4 68L339 69.5L339.1 70L339.5 72L339.8 74L340 76L340.2 78L340.6 80L341 82L341 82L341.7 84L342.7 86L343 86.4L344.3 88L345 88.8L346.5 90L347 90.4L349 91.6L349.7 92L351 92.6L353 93.4L355 93.9L355.2 94L357 94.4L359 94.8L361 95.2L363 95.5L365 95.8L366.1 96L367 96.1L369 96.4L371 96.7L373 96.9L375 97.1L377 97.2L379 97.4L381 97.5L383 97.6L385 97.7L387 97.8L389 97.8L391 97.9L393 97.9L395 97.9L397 97.9L399 97.7L401 97.4L403 96.9L405 96.1L405.3 96L407 95L408.4 94L409 93.5L410.5 92L411 91.5L412.2 90L413 88.8L413.5 88L414.5 86L415 84.1L415 84L415.2 82L415.1 80L415 79.3L414.7 78L414.1 76L413.1 74L413 73.8L411.8 72L411 71.1L409.9 70L409 69.3L407.1 68L407 68L405 67L403 66.2L402.5 66L401 65.5L399 64.9L397 64.4L395.2 64L395 64L393 63.6L391 63.3L389 63L387 62.7L385 62.4L383 62.1L382 62L381 61.9L379 61.6L377 61.4L375 61.2L373 61L371 60.9L369 60.8L367 60.6L365 60.4L363 60.1L362.4 60L361 59.7L359 59.3L357 58.8L355 58.2L354.2 58L353 57.7L351 57.4L349 57.3L347 57.3L345 57.5ZM542.4 66L543 64.8L545 64.6L545 66L545 68L545 70L545 72L545 74L545 76L545 78L545 80L545 80.7L544.9 80L544.6 78L544.3 76L544.2 74L543.8 72L543 70.6L542.8 70L542.5 68ZM543.6 98L545 96.5L545 98L545 100L545 102L545 104L545 106L545 108L545 110L545 112L545 114L545 116L545 118L545 120L545 122L545 122.7L543 122.9L542.9 122L542.5 120L543 118.8L543.6 118L544 116L544.2 114L544.2 112L544.3 110L544.2 108L544.2 106L544.1 104L543.8 102L543.4 100Z"/>
<path fill="#99eaff" d="M228.4 16L229 16L231 16L233 16L235 16L237 16L239 16L241 16L243 16L245 16L247 16L249 16L251 16L253 16L255 16L257 16L259 16L261 16L263 16L265 16L267 16L269 16L271 16L273 16L275 16L277 16L279 16L281 16L283 16L285 16L287 16L289 16L291 16L293 16L295 16L297 16L299 16L301 16L303 16L305 16L307 16L309 16L311 16L313 16L315 16L317 16L319 16L321 16L323 16L325 16L327 16L329 16L331 16L333 16L335 16L337 16L339 16L341 16L343 16L345 16L347 16L349 16L351 16L353 16L355 16L357 16L359 16L361 16L363 16L365 16L367 16L369 16L371 16L373 16L375 16L377 16L379 16L381 16L383 16L385 16L387 16L389 16L391 16L393 16L395 16L397 16L399 16L401 16L403 16L405 16L407 16L409 16L411 16L413 16L415 16L417 16L419 16L421 16L423 16L425 16L427 16L429 16L431 16L433 16L435 16L437 16L439 16L441 16L443 16L445 16L447 16L449 16L451 16L453 16L455 16L457 16L459 16L461 16L463 16L465 16L467 16L469 16L471 16L473 16L475 16L477 16L479 16L481 16L483 16L485 16L487 16L489 16L491 16L493 16L495 16L497 16L499 16L501 16L503 16L505 16L507 16L509 16L511 16L513 16L515 16L517 16L519 16L521 16L523 16L525 16L527 16L529 16L531 16L533 16L535 16L537 16L539 16L541 16L543 16L545 16L545 18L545 20L545 22L545 24L545 26L545 28L545 30L545 32L545 34L545 36L545 38L545 40L545 42L545 44L545 46L545 48L545 50L545 50.8L543 50.8L541 50.8L539 50.8L537 50.9L535 50.9L533 50.9L531 50.9L529 50.8L527 50.7L525 50.4L523 50.1L522.4 50L521 49.6L519 49L517 48.3L516.3 48L515 47.4L513 46.4L512.3 46L511 45.3L509 44.1L508.8 44L507 43L505 42L505 42L503 41.2L501 40.7L499 40.2L497.6 40L497 39.9L495 39.7L493 39.5L491 39.3L489 38.9L487 38.5L485.6 38L485 37.8L483 37L481 36.2L480.2 36L479 35.8L477 35.9L476.7 36L475 36.9L473.9 38L473 39.5L472.8 40L472.5 42L472.5 44L472.8 46L473 46.5L473.6 48L474.8 50L475 50.3L476.5 52L477 52.4L479 54L479 54L481 55.2L482.2 56L483 56.5L485 58L485 58L487 59.9L487.1 60L488.7 62L489 62.4L490.1 64L491 65.3L491.5 66L493 67.9L493.1 68L494.8 70L495 70.1L496.8 72L497 72.2L498.9 74L499 74.1L501 76L501 76L503 77.9L503.1 78L505 79.6L505.6 80L507 80.8L509 81.8L509.6 82L511 82.4L513 82.7L515 82.8L517 82.8L519 82.6L521 82.3L522.9 82L523 82L525 81.8L527 80.8L527.2 80L529 78.4L529.2 78L529.8 76L531 74.7L531.6 74L532.4 72L533 71.4L534.6 70L535 69.4L535.7 70L536.6 72L537 73.3L537.1 74L537.2 76L537 77L535.7 78L535 79.4L534.9 80L534.7 82L534.5 84L534.4 86L534.6 88L534.8 90L535 90.8L535.1 92L535 93.7L534.9 94L533.6 96L533 96.9L532.7 98L532.4 100L532.2 102L532.2 104L532.1 106L532.1 108L532.2 110L532.4 112L532.6 114L531.8 116L531 118L531 118.2L530.1 120L529.8 122L529.7 124L529.9 126L531 128L531 128L531 130L531.1 132L531.4 134L533 135.5L533.2 136L533.8 138L535 139.1L537 139.2L538.3 138L538.9 136L539 135.7L541 135.6L543 135.3L545 135.4L545 136L545 138L545 140L545 142L545 144L545 146L545 148L545 150L545 152L545 154L545 156L545 158L545 160L545 162L545 164L545 166L545 168L545 170L545 172L545 174L545 176L545 178L545 180L545 182L545 184L545 186L545 188L545 190L545 192L545 194L545 196L545 198L545 200L545 202L545 204L545 206L543 206L541 206L539 206L537 206L535 206L533 206L531 206L529 206L527 206L525 206L523 206L521 206L519 206L517 206L515 206L513 206L511 206L509 206L507 206L505 206L503 206L501 206L499 206L497 206L495 206L493 206L491 206L489 206L487 206L485 206L483 206L481 206L479 206L477 206L475 206L473 206L471 206L469 206L467 206L465 206L463 206L461 206L459 206L457 206L455 206L453 206L451 206L449 206L447 206L445 206L443 206L441 206L439 206L437 206L435 206L433 206L431 206L429 206L427 206L425 206L423 206L421 206L419 206L417 206L415 206L413 206L411 206L409 206L407 206L405 206L403 206L401 206L399 206L397 206L395 206L393 206L391 206L389 206L387 206L385 206L383 206L381 206L379 206L377 206L375 206L373 206L371 206L369 206L367 206L365 206L363 206L361 206L359 206L357 206L355 206L353 206L351 206L349 206L347 206L345 206L343 206L341 206L339 206L337 206L335 206L333 206L331 206L329 206L327 206L325 206L323 206L321 206L319 206L317 206L315 206L313 206L311 206L309 206L307 206L305 206L303 206L301 206L299 206L297 206L295 206L293 206L291 206L289 206L287 206L285 206L283 206L281 206L279 206L277 206L275 206L273 206L271 206L269 206L267 206L265 206L263 206L261 206L259 206L257 206L255 206L253 206L251 206L249 206L247 206L245 206L243 206L241 206L239 206L237 206L235 206L233 206L231 206L229 206L227 206L225 206L223 206L221 206L219 206L217 206L215 206L213 206L211 206L209 206L207 206L205 206L203 206L201 206L199 206L197 206L195 206L193 206L191 206L189 206L187 206L185 206L183 206L181 206L179 206L177 206L175 206L173 206L171 206L169 206L167 206L165 206L163 206L161 206L159 206L157 206L155 206L153 206L151 206L149 206L147 206L145 206L143 206L141 206L139 206L137 206L135 206L133 206L131 206L129 206L127 206L125 206L123 206L121 206L119 206L117 206L115 206L113 206L111 206L109 206L107 206L105 206L103 206L101 206L99 206L97 206L95 206L93 206L91 206L89 206L87 206L85 206L83 206L81 206L79 206L77 206L75 206L73 206L71 206L69 206L67 206L65 206L63 206L61 206L59 206L57 206L55 206L53 206L51 206L49 206L47 206L45 206L43 206L43 204L43 202L43 200L43 198L43 196L43 194L43 192L43 190L43 188L43 186L43 184L43 182L43 180L43 178L43 176L43 174L43 172L43 170L43 168L43 166L43 164L43 162L43 160L43 158L43 156L43 154L43 152L43 150L43 148L43 146L43 144L43 142L43 140L43 138L43 136L43 134L43 132L43 130L43 128L43 126L43 124L43 122L43 120L43 118L43 116L43 114L43 112L43 110L43 108L43.2 108L45 108L47 107.9L49 107.7L51 107.4L53 107L55 106.5L57 106L57.2 106L59 105.5L61 105L63 104.7L65 104.5L67 104.5L69 104.5L71 104.6L73 104.6L75 104.7L77 104.7L79 104.7L81 104.7L83 104.6L85 104.7L87 104.8L89 105.1L91 105.5L92.9 106L93 106L95 106.4L97 106.7L99 106.9L101 107L103 107.1L105 107.1L107 107L109 107L111 106.9L113 106.9L115 106.8L117 106.7L119 106.6L121 106.5L123 106.3L125 106L125 106L127 105.5L129 104.8L131 104L131 104L133 103L134.9 102L135 102L137 100.8L138.3 100L139 99.5L141 98L141.1 98L142.9 96L143 95.9L144.2 94L145 92.2L145.1 92L145.7 90L146.1 88L146.3 86L146.5 84L146.7 82L146.8 80L146.9 78L147 76L147 75.9L147.3 74L147.9 72L149 70.1L149.1 70L151 68.5L152 68L153 67.6L155 67.2L157 67L159 66.8L161 66.8L163 66.8L165 66.9L167 67L169 67.1L171 67.3L173 67.4L175 67.6L177 67.7L179 67.7L181 67.7L183 67.6L185 67.5L187 67.4L189 67.4L191 67.3L193 67.3L195 67.4L197 67.5L199 67.6L201 67.7L203 67.9L204.9 68L205 68L207 68.1L209 68.1L211 68L211.3 68L213 67.7L215 67.2L217 66.3L217.4 66L218.6 64L218.3 62L217 60.5L216.4 60L215 59.4L213 58.8L211 58.4L209 58.2L207.4 58L207 58L205 57.9L203 57.9L201 57.9L199 57.9L197 58L196.4 58L195 58.1L193 58L192.8 58L191 57.6L189 56.2L188.9 56L187.3 54L187 53.7L186.2 52L185.3 50L185 49.4L184.5 48L183.7 46L183 44.7L182.6 44L181.1 42L181 41.9L179 40.5L177.9 40L177 39.6L175 38.9L173 38.3L171.6 38L171 37.8L169 37.2L167 36.6L165.1 36L165 36L163 35L161 34.1L160.7 34L159 32.4L158.6 32L158.6 30L159 29.3L160.1 28L161 27.2L163 26.3L165 26.1L167 26.3L169 26.6L171 26.9L173 27.1L175 27.3L177 27.4L179 27.6L181 27.7L183 27.8L185 27.6L187 27.3L189 26.8L191 26.2L191.8 26L193 25.7L195 25.2L197 24.8L199 24.5L201 24.3L203 24.1L205 24L205 24L207 23.9L209 23.7L211 23.6L213 23.4L215 23.2L217 23L219 22.7L221 22.4L222.5 22L223 21.8L225 20.9L226.4 20L227 19.3L228 18ZM309 51.8L308.6 52L307 53.2L306.1 54L305 55L304 56L303 57L302.1 58L301 59.1L300.2 60L299 61.1L298 62L297 62.8L295 63.9L294.9 64L293 64.8L291 65.2L289 65.4L287 65.5L285 65.4L283 65.3L281 65.1L279 65.1L277 65.3L275 65.6L273.2 66L273 66.1L271 66.9L269 68L269 68L267 69.7L266.7 70L265.3 72L265 72.6L264.4 74L264.2 76L264.6 78L265 78.9L265.6 80L267 81.4L267.8 82L269 82.7L271 83.5L273 84L273.1 84L275 84.3L277 84.4L279 84.4L281 84.3L283 84L283.2 84L285 83.7L287 83.2L289 82.6L290.8 82L291 81.9L293 81L295 80.1L295.2 80L297 79.1L299 78.2L299.4 78L301 77.3L303 76.8L305 76.4L307 76.1L308.4 76L309 75.9L311 75.8L313 75.6L315 75.4L317 75.3L319 75.1L321 75L323 75L325 75.1L327 75.5L328.8 76L329 76.1L331 77.3L331.8 78L333 79.9L333 80L333.7 82L334.2 84L334.5 86L334.6 88L334.7 90L334.6 92L334.3 94L333.6 96L333 97.1L332.4 98L331.1 100L331.3 102L333 102.7L335 103.3L337 103.7L338.6 104L339 104L341 104.2L343 104.4L345 104.5L347 104.6L349 104.7L351 104.8L353 104.8L355 104.9L357 104.9L359 104.9L361 104.9L363 104.8L365 104.8L367 104.7L369 104.6L371 104.6L373 104.5L375 104.4L377 104.3L379 104.2L381 104.1L383 104L383 104L385 103.9L387 103.8L389 103.7L391 103.5L393 103.4L395 103.3L397 103.2L399 103.1L401 103L403 102.8L405 102.6L407 102.4L408.6 102L409 101.9L411 101L412.5 100L413 99.6L414.5 98L415 97.4L416.1 96L417 94.7L417.5 94L418.7 92L419 91.3L419.6 90L420.2 88L420.6 86L420.7 84L420.5 82L420.2 80L419.7 78L419 76.1L419 76L418.2 74L417.2 72L417 71.7L416 70L415 68.7L414.4 68L413 66.6L412.3 66L411 65.1L409.1 64L409 63.9L407 63L405 62.2L404.4 62L403 61.5L401 60.9L399 60.4L397.2 60L397 60L395 59.6L393 59.3L391 59.1L389 58.8L387 58.6L385 58.3L383 58L382.9 58L381 57.7L379 57.4L377 57.1L375 56.9L373 56.7L371 56.5L369 56.4L367 56.2L365.3 56L365 56L363 55.7L361 55.3L359 54.9L357 54.4L355.7 54L355 53.8L353 53.4L351 53L349 52.6L347 52.4L345 52.1L344.1 52L343 51.9L341 51.7L339 51.6L337 51.5L335 51.4L333 51.4L331 51.4L329 51.4L327 51.3L325 51.2L323 51.1L321 50.8L319 50.5L317 50.3L315 50.2L313 50.4L311 51ZM100.3 26L101 25.9L103 25.7L105 25.8L106.7 26L107 26L109 26.4L111 26.9L113 27.5L114.3 28L115 28.4L117 29.8L117.2 30L118.1 32L117.8 34L117 35.2L116.4 36L115 37.1L113.6 38L113 38.3L111 39.2L109 40L109 40L107 40.7L105 41.3L103 41.8L101 41.9L99 41.9L97 41.5L95 40.9L93 40.2L92.6 40L91 39.2L89 38.2L88.6 38L87 36.7L86 36L85.4 34L86.7 32L87 31.8L89 30.4L89.5 30L91 29.3L93 28.3L93.6 28L95 27.4L97 26.7L99 26.2ZM544.8 72L545 70.5L545 72L545 74L545 76L545 78L545 78.8L544.9 78L544.7 76L544.7 74ZM544.3 100L545 98.4L545 100L545 102L545 104L545 106L545 108L545 110L545 112L545 113.8L544.9 112L544.8 110L544.8 108L544.7 106L544.7 104L544.6 102Z"/>
<path fill="#bcf9ff" d="M232.9 18L233 17.2L233.2 16L235 16L237 16L239 16L241 16L243 16L245 16L247 16L249 16L251 16L253 16L255 16L257 16L259 16L261 16L263 16L265 16L267 16L269 16L271 16L273 16L275 16L277 16L279 16L281 16L283 16L285 16L287 16L289 16L291 16L293 16L295 16L297 16L299 16L301 16L303 16L305 16L307 16L309 16L311 16L313 16L315 16L317 16L319 16L321 16L323 16L325 16L327 16L329 16L331 16L333 16L335 16L337 16L339 16L341 16L343 16L345 16L347 16L349 16L351 16L353 16L355 16L357 16L359 16L361 16L363 16L365 16L367 16L369 16L371 16L373 16L375 16L377 16L379 16L381 16L383 16L385 16L387 16L389 16L391 16L393 16L395 16L397 16L399 16L401 16L403 16L405 16L407 16L409 16L411 16L413 16L415 16L417 16L419 16L421 16L423 16L425 16L427 16L429 16L431 16L433 16L435 16L437 16L439 16L441 16L443 16L445 16L447 16L449 16L451 16L453 16L455 16L457 16L459 16L461 16L463 16L465 16L467 16L469 16L471 16L473 16L475 16L477 16L479 16L481 16L483 16L485 16L487 16L489 16L491 16L493 16L495 16L497 16L499 16L501 16L503 16L505 16L507 16L509 16L511 16L513 16L515 16L517 16L519 16L521 16L523 16L525 16L527 16L529 16L531 16L533 16L535 16L537 16L539 16L541 16L543 16L545 16L545 18L545 20L545 22L545 24L545 26L545 28L545 30L545 32L545 34L545 36L545 38L545 40L545 42L545 44L545 45.9L543 46L541 46L540.9 46L539 46L537 46.1L535 46.2L533 46.3L531 46.4L529 46.4L527 46.2L525.6 46L525 45.9L523 45.2L521 44.3L520.4 44L519 43.1L517.3 42L517 41.8L515 40.4L514.3 40L513 39.3L511 38.3L510.3 38L509 37.5L507 36.7L505.1 36L505 36L503 35.3L501 34.6L499 34L498.9 34L497 33.3L495 32.6L493.5 32L493 31.7L491 30.9L489 30.1L488.5 30L487 29.6L485 29.3L483 29.2L481 29.3L479 29.4L477 29.7L475.6 30L475 30.1L473 30.8L471 31.8L470.8 32L469 33.6L468.7 34L467.3 36L467 36.6L466.2 38L465.4 40L465 41L464.6 42L464 44L464 46L464.5 48L465 48.9L465.5 50L466.7 52L467 52.3L468.3 54L469 54.8L470.2 56L471 56.6L473 58L473.1 58L475 59L476.9 60L477 60.1L479 61.1L480.5 62L481 62.3L483 63.7L483.3 64L485 65.5L485.5 66L487 67.3L487.8 68L489 69L490.1 70L491 70.6L492.5 72L493 72.4L494.8 74L495 74.2L496.9 76L497 76.1L498.8 78L499 78.2L500.7 80L501 80.3L503 82L503 82L505 83.2L506.9 84L507 84L509 84.6L511 84.9L513 85.1L515 85.1L517 85L519 84.9L521 84.7L523 84.4L525 84.2L525.1 84L527 82.6L527.3 82L528.1 80L529 79.1L529.8 78L530.6 76L531 75.6L532.2 74L533 72.6L535 72L535 72L535 72L535.3 74L535 74.9L534.9 76L534.6 78L534.3 80L534.1 82L533.6 84L533.6 86L533.8 88L534 90L534.4 92L533.6 94L533 94.9L532.6 96L532.2 98L532 100L531.8 102L531.7 104L531.7 106L531.6 108L531.6 110L531.5 112L531.4 114L531 116L531 116.1L529.3 118L529 119.1L528.4 120L527.1 122L527 122.1L525.7 124L525 125.1L524.2 126L523 127.4L521.8 128L521 128.5L519 128.8L517 128.8L515 129.8L514.6 130L513 131.9L511.4 130L511 128.6L509 128.5L507 128.5L505 128.4L503 128.4L501 128.4L499 128.4L497 128.4L495 128.4L493 128.4L491 128.4L489 128.2L487.3 128L487 128L485 127.7L483 127.4L481 127.1L479 127.2L477 127.9L476.9 128L476.3 130L477 131.7L477.1 132L479 133.5L480 134L481 134.3L483 134.8L485 135.2L487 135.8L487.8 136L489 136.3L491 136.9L493 137.5L494.2 138L495 138.3L497 139L499 139.7L499.9 140L501 140.3L503 140.8L505 141L507 141L509 140.9L511 140.7L513 140.6L515 140.5L517 140.5L519 140.5L521 140.6L523 140.9L525 141.1L527 141.2L529 141.2L531 141.1L533 141.1L535 141.1L537 141.5L539 141.1L541 141L543 141L545 141L545 142L545 144L545 146L545 148L545 150L545 152L545 154L545 156L545 158L545 160L545 162L545 164L545 166L545 168L545 170L545 172L545 174L545 176L545 178L545 180L545 182L545 184L545 186L545 188L545 190L545 192L545 194L545 196L545 198L545 200L545 202L545 204L545 206L543 206L541 206L539 206L537 206L535 206L533 206L531 206L529 206L527 206L525 206L523 206L521 206L519 206L517 206L515 206L513 206L511 206L509 206L507 206L505 206L503 206L501 206L499 206L497 206L495 206L493 206L491 206L489 206L487 206L485 206L483 206L481 206L479 206L477 206L475 206L473 206L471 206L469 206L467 206L465 206L463 206L461 206L459 206L457 206L455 206L453 206L451 206L449 206L447 206L445 206L443 206L441 206L439 206L437 206L435 206L433 206L431 206L429 206L427 206L425 206L423 206L421 206L419 206L417 206L415 206L413 206L411 206L409 206L407 206L405 206L403 206L401 206L399 206L397 206L395 206L393 206L391 206L389 206L387 206L385 206L383 206L381 206L379 206L377 206L375 206L373 206L371 206L369 206L367 206L365 206L363 206L361 206L359 206L357 206L355 206L353 206L351 206L349 206L347 206L345 206L343 206L341 206L339 206L337 206L335 206L333 206L331 206L329 206L327 206L325 206L323 206L321 206L319 206L317 206L315 206L313 206L311 206L309 206L307 206L305 206L303 206L301 206L299 206L297 206L295 206L293 206L291 206L289 206L287 206L285 206L283 206L281 206L279 206L277 206L275 206L273 206L271 206L269 206L267 206L265 206L263 206L261 206L259 206L257 206L255 206L253 206L251 206L249 206L247 206L245 206L243 206L241 206L239 206L237 206L235 206L233 206L231 206L229 206L227 206L225 206L223 206L221 206L219 206L217 206L215 206L213 206L211 206L209 206L207 206L205 206L203 206L201 206L199 206L197 206L195 206L193 206L191 206L189 206L187 206L185 206L183 206L181 206L179 206L177 206L175 206L173 206L171 206L169 206L167 206L165 206L163 206L161 206L159 206L157 206L155 206L153 206L151 206L149 206L147 206L145 206L143 206L141 206L139 206L137 206L135 206L133 206L131 206L129 206L127 206L125 206L123 206L121 206L119 206L117 206L115 206L113 206L111 206L109 206L107 206L105 206L103 206L101 206L99 206L97 206L95 206L93 206L91 206L89 206L87 206L85 206L83 206L81 206L79 206L77 206L75 206L73 206L71 206L69 206L67 206L65 206L63 206L61 206L59 206L57 206L55 206L53 206L51 206L49 206L47 206L45 206L43 206L43 204L43 202L43 200L43 198L43 196L43 194L43 192L43 190L43 188L43 186L43 184L43 182L43 180L43 178L43 176L43 174L43 172L43 170L43 168L43 166L43 164L43 162L43 160L43 158L43 156L43 154L43 152L43 150L43 148L43 146L43 144L43 142L43 140L43 138L43 136L43 134L43 132L43 130L43 128L43 126L43 124L43 122L43 120L43 118L43 116L43 114L43 112L43 110L44 110L45 110L47 109.9L49 109.7L51 109.5L53 109.1L55 108.7L57 108.3L58.5 108L59 107.9L61 107.5L63 107.2L65 107L67 107L69 107L71 107L73 107.1L75 107.2L77 107.4L79 107.6L81 107.9L81.4 108L83 108.3L85 108.7L87 109.3L89 109.8L90.1 110L91 110.2L93 110.4L95 110.5L97 110.5L99 110.5L101 110.4L103 110.4L105 110.4L107 110.3L109 110.2L111 110.2L113 110.1L115 110.1L117 110L117.5 110L119 110L121 109.9L123 109.7L125 109.6L127 109.3L129 108.9L131 108.5L132.7 108L133 107.9L135 107.2L137 106.5L138.3 106L139 105.7L141 104.9L142.8 104L143 103.9L145 102.8L146.2 102L147 101.4L148.6 100L149 99.5L150.1 98L151 96.1L151 96L151.7 94L152.3 92L152.8 90L153 89L153.2 88L153.8 86L154.2 84L154.7 82L155 80.3L155.1 80L155.4 78L155.9 76L156.9 74L157 73.9L159 72.5L160 72L161 71.8L163 71.5L165 71.4L167 71.4L169 71.6L171 71.8L172.7 72L173 72L175 72.3L177 72.6L179 72.9L181 73.2L183 73.5L185 73.8L186.8 74L187 74L189 74.1L191 74.2L193 74.2L195 74.1L196.9 74L197 74L199 73.9L201 73.9L203 73.8L205 73.8L207 73.8L209 73.8L211 73.7L213 73.6L215 73.5L217 73.4L219 73.1L221 72.6L222.5 72L223 71.7L224.7 70L225 69.5L225.7 68L226.3 66L226.5 64L226.5 62L225.9 60L225 58.4L224.7 58L223 56.6L221.7 56L221 55.8L219 55.4L217 55.2L215 55.1L213 54.9L211 54.7L209 54.5L207 54.2L205.8 54L205 53.9L203 53.5L201 53.2L199 52.8L197 52.5L195 52.1L194.5 52L193 51.6L191 50.6L190.2 50L189 48.7L188.5 48L187.3 46L187 45.3L186.4 44L185.3 42L185 41.4L184 40L183 38.5L182.3 38L181 36.7L179.4 36L179 35.6L177 34.5L175.7 34L177 33.2L179 32.9L181 32.9L183 32.7L185 32L185 32L187 31.2L189 30.2L189.4 30L191 29.2L193 28.3L193.8 28L195 27.6L197 27L199 26.5L201 26.2L202.6 26L203 25.9L205 25.7L207 25.5L209 25.4L211 25.2L213 25.1L215 25L217 24.8L219 24.7L221 24.5L223 24.2L224.1 24L225 23.8L227 23.1L229 22.2L229.4 22L231 20.7L231.8 20ZM315 46L315 46L313 46.1L311 46.4L309 46.8L307 47.4L305.2 48L305 48.1L303 49.2L301.8 50L301 50.6L299.5 52L299 52.6L297.9 54L297 55.1L296.3 56L295 57.5L294.6 58L293 59.4L292.2 60L291 60.7L289 61.5L287.2 62L287 62L285 62.3L283 62.5L281 62.6L279 62.7L277 62.9L275 63.3L273 63.7L272.1 64L271 64.3L269 65.2L267.3 66L267 66.2L265 67.4L264.2 68L263 69L261.9 70L261 71.2L260.4 72L259.5 74L259 76L259 76.2L258.9 78L259 78.7L259.2 80L259.9 82L261 83.7L261.3 84L263 85.4L264.1 86L265 86.4L267 87.2L269 87.8L269.9 88L271 88.3L273 88.6L275 88.9L277 89L279 89.1L281 89L283 88.9L285 88.7L287 88.5L289 88.2L290 88L291 87.8L293 87.4L295 86.9L297 86.3L298 86L299 85.7L301 85L303 84.2L303.6 84L305 83.5L307 82.8L309 82.1L309.4 82L311 81.6L313 81.2L315 80.8L317 80.4L319 80.2L321 80.1L323 80.5L325 81.3L325.9 82L327 83.9L327 84L327.1 86L327 86.6L326.6 88L325.5 90L325 90.7L324 92L323 93.1L322.1 94L321 94.9L319.5 96L319 96.3L317 97.4L315.4 98L315 98.1L313 98.6L311 98.9L309 99.1L307 99.1L305 99.1L303 99.2L301 99.4L299 99.9L298.7 100L297 100.8L295.5 102L295 103L294.6 104L295 105.8L295.1 106L297 107.8L297.3 108L299 108.7L301 109.2L303 109.5L305 109.6L307 109.7L309 109.7L311 109.7L313 109.6L315 109.5L317 109.5L319 109.4L321 109.3L323 109.3L325 109.3L327 109.3L329 109.3L331 109.3L333 109.3L335 109.4L337 109.4L339 109.4L341 109.5L343 109.5L345 109.5L347 109.5L349 109.5L351 109.6L353 109.6L355 109.6L357 109.6L359 109.6L361 109.5L363 109.5L365 109.5L367 109.4L369 109.4L371 109.3L373 109.2L375 109.2L377 109.1L379 109L381 108.9L383 108.8L385 108.7L387 108.7L389 108.6L391 108.5L393 108.3L395 108.2L397 108.2L399 108.1L401 108.1L403 108.1L405 108.1L407 108.1L409 108L409.1 108L411 107.8L413 107.4L415 106.7L416.3 106L417 105.5L418.7 104L419 103.6L420.4 102L421 101.3L422.1 100L423 99L423.9 98L425 96.7L425.7 96L427 94.1L427.1 94L427.9 92L428.3 90L428.2 88L427.9 86L427.5 84L427 82.6L426.8 82L426.1 80L425.2 78L425 77.5L424.3 76L423.2 74L423 73.6L422.2 72L421.1 70L421 69.9L419.9 68L419 66.8L418.4 66L417 64.3L416.7 64L415 62.4L414.4 62L413 60.9L411.6 60L411 59.6L409 58.4L408.1 58L407 57.4L405 56.5L403.8 56L403 55.7L401 55L399 54.5L397 54.2L395.8 54L395 53.9L393 53.7L391 53.5L389 53.3L387 53.1L385 52.9L383 52.6L381 52.4L379 52.2L377 52L376.1 52L375 52L373 52L371 52L370.7 52L369 52L367 52L365.8 52L365 52L363 51.8L361 51.5L359 51.1L357 50.7L355 50.2L354.2 50L353 49.7L351 49.2L349 48.8L347 48.4L345.2 48L345 48L343 47.6L341 47.3L339 47.1L337 46.9L335 46.9L333 46.9L331 46.9L329 47L327 47L325 46.9L323 46.7L321 46.5L319 46.3L317 46.1L315 46ZM527 148.4L525.9 150L526.3 152L527 153.5L527.3 154L529 155.3L531 155.7L533 155L535 154.1L535.1 154L535.2 152L535 151.9L533 150.7L532.1 150L531 149.5L529 148.6ZM141 147.9L140.2 148L139 148.3L137 149L135 149.8L134.6 150L133.1 152L135 153.7L135.8 154L137 154.1L139 154.1L140 154L141 153.8L143 153L145 152.2L145.6 152L147 150.7L148.2 150L147 148.4L146.3 148L145 147.8L143 147.8ZM99.5 32L101 31.7L103 31.8L103.7 32L105 33L105.7 34L105 35L104 36L103 36.4L101 36.6L99 36.4L98.1 36L97 34.2L96.9 34L97 33.9L99 32.2ZM545 76L545 75.9L545 76L545 76.1Z"/>
<path fill="#eaffff" d="M237.9 16L239 16L241 16L243 16L245 16L247 16L249 16L251 16L253 16L255 16L257 16L259 16L261 16L263 16L265 16L267 16L269 16L271 16L273 16L275 16L277 16L279 16L281 16L283 16L285 16L287 16L289 16L291 16L293 16L295 16L297 16L299 16L301 16L303 16L305 16L307 16L309 16L311 16L313 16L315 16L317 16L319 16L321 16L323 16L325 16L327 16L329 16L331 16L333 16L335 16L337 16L339 16L341 16L343 16L345 16L347 16L349 16L351 16L353 16L355 16L357 16L359 16L361 16L363 16L365 16L367 16L369 16L371 16L373 16L375 16L377 16L379 16L381 16L383 16L385 16L387 16L389 16L391 16L393 16L395 16L397 16L399 16L401 16L403 16L405 16L407 16L409 16L411 16L413 16L415 16L417 16L419 16L421 16L423 16L425 16L427 16L429 16L431 16L433 16L435 16L437 16L439 16L441 16L443 16L445 16L447 16L449 16L451 16L453 16L455 16L457 16L459 16L461 16L463 16L465 16L467 16L469 16L471 16L473 16L475 16L477 16L479 16L481 16L483 16L483.1 16L483 16.8L482.9 18L482.3 20L481 21.8L480.8 22L479 23.4L477.8 24L477 24.3L475 25L473 25.6L471.5 26L471 26.1L469 26.8L467 27.7L466.4 28L465 28.9L463.5 30L463 30.5L461.4 32L461 32.5L459.4 34L459 34.4L457 35.7L456.5 36L455 36.6L453 37.2L451 37.8L450.2 38L449 38.3L447 38.8L445 39.3L443 39.8L442.5 40L441 40.5L439 41.3L437.6 42L437 42.4L435.4 44L435 44.7L434.5 46L434.3 48L434.7 50L435 50.7L436.1 52L437 52.6L439 52.8L441 52.5L442.8 52L443 51.9L445 51.4L447 51L449 50.8L451 50.9L453 51.1L455 51.6L455.9 52L457 52.5L459 53.8L459.3 54L461 55.6L461.3 56L463 57.8L463.2 58L465 59.8L465.2 60L467 61.2L468.6 62L469 62.1L471 62.8L473 63.5L474.3 64L475 64.3L477 65.2L478.5 66L479 66.3L481 67.7L481.5 68L483 69L484.4 70L485 70.3L487 71.5L487.7 72L489 72.7L491 74L491 74L493 75.5L493.5 76L495 77.5L495.5 78L497 79.8L497.2 80L499 82L499 82.1L501 83.9L501.2 84L503 85.1L505 85.9L505.3 86L507 86.5L509 86.8L511 87L513 87.1L515 87.1L517 87L519 86.9L521 86.7L523 86.6L525 86.3L525.1 86L526.3 84L527 83.5L527.8 82L528.9 80L529 79.9L530.3 78L531 76.5L531.6 76L532.9 74L533 73.8L533.3 74L534 76L533.9 78L533.8 80L533.4 82L533 83.5L532.9 84L532.8 86L533 87.7L533 88L533.2 90L533.4 92L533 93L532.4 94L531.9 96L531.7 98L531.5 100L531.4 102L531.3 104L531.2 106L531.1 108L531 109.6L530.7 110L529.3 112L529 112.3L527.6 114L527 114.8L526 116L525 117.3L524.5 118L523 119.8L522.8 120L521 121.8L520.7 122L519 123L518.7 124L517 125.5L516.6 126L515.4 128L515 128.3L513 129.3L512.5 128L511.9 126L511 124.4L509 124.4L507 124.3L505 124L504.9 124L503 123.8L501 123.5L499 123.2L497 123L495 122.8L493 122.6L491 122.4L489 122.1L488.2 122L487 121.8L485 121.4L483 121L481 120.6L479 120.3L477 120L476.7 120L475 119.8L473 119.7L471 119.9L470.4 120L469 120.5L467.7 122L467.4 124L467.6 126L468 128L468.6 130L469 130.9L469.4 132L470.5 134L471 134.7L472 136L473 137L474.2 138L475 138.6L477 139.7L477.7 140L479 140.5L481 141.1L483 141.7L484 142L485 142.2L487 142.8L489 143.5L490.1 144L491 144.4L493 145.4L494 146L495 146.6L497 148L497 148L499 149.4L499.9 150L501 150.7L503 151.8L503.4 152L505 152.7L507 153.7L507.7 154L509 154.7L511 155.9L511.2 156L513 157.3L513.9 158L515 158.9L516.2 160L517 160.6L518.8 162L519 162.1L521 163.2L522.7 164L523 164.1L525 164.6L527 165L529 165.1L531 165.1L533 165.1L535 164.9L537 164.8L539 164.7L541 164.7L543 164.7L545 164.7L545 166L545 168L545 170L545 172L545 174L545 176L545 178L545 180L545 182L545 184L545 186L545 188L545 190L545 192L545 194L545 196L545 198L545 200L545 202L545 204L545 206L543 206L541 206L539 206L537 206L535 206L533 206L531 206L529 206L527 206L525 206L523 206L521 206L519 206L517 206L515 206L513 206L511 206L509 206L507 206L505 206L503 206L501 206L499 206L497 206L495 206L493 206L491 206L489 206L487 206L485 206L483 206L481 206L479 206L477 206L475 206L473 206L471 206L469 206L467 206L465 206L463 206L461 206L459 206L457 206L455 206L453 206L451 206L449 206L447 206L445 206L443 206L441 206L439 206L437 206L435 206L433 206L431 206L429 206L427 206L425 206L423 206L421 206L419 206L417 206L415 206L413 206L411 206L409 206L407 206L405 206L403 206L401 206L399 206L397 206L395 206L393 206L391 206L389 206L387 206L385 206L383 206L381 206L379 206L377 206L375 206L373 206L371 206L369 206L367 206L365 206L363 206L361 206L359 206L357 206L355 206L353 206L351 206L349 206L347 206L345 206L343 206L341 206L339 206L337 206L335 206L333 206L331 206L329 206L327 206L325 206L323 206L321 206L319 206L317 206L315 206L313 206L311 206L309 206L307 206L305 206L303 206L301 206L299 206L297 206L295 206L293 206L291 206L289 206L287 206L285 206L283 206L281 206L279 206L277 206L275 206L273 206L271 206L269 206L267 206L265 206L263 206L261 206L259 206L257 206L255 206L253 206L251 206L249 206L247 206L245 206L243 206L241 206L239 206L237 206L235 206L233 206L231 206L229 206L227 206L225 206L223 206L221 206L219 206L217 206L215 206L213 206L211 206L209 206L207 206L205 206L203 206L201 206L199 206L197 206L195 206L193 206L191 206L189 206L187 206L185 206L183 206L181 206L179 206L177 206L175 206L173 206L171 206L169 206L167 206L165 206L163 206L161 206L159 206L157 206L155 206L153 206L151 206L149 206L147 206L145 206L143 206L141 206L139 206L137 206L135 206L133 206L131 206L129 206L127 206L125 206L123 206L121 206L119 206L117 206L115 206L113 206L111 206L109 206L107 206L105 206L103 206L101 206L99 206L97 206L95 206L93 206L91 206L89 206L87 206L85 206L83 206L81 206L79 206L77 206L75 206L73 206L71 206L69 206L67 206L65 206L63 206L61 206L59 206L57 206L55 206L53 206L51 206L49 206L47 206L45 206L43 206L43 204L43 202L43 200L43 198L43 196L43 194L43 192L43 190L43 188L43 186L43 184L43 182L43 180L43 178L43 176L43 174L43 172L43 170L43 168L43 166L43 164L43 162L43 160L43 158L43 156L43 154L43 152L43 150L43 148L43 146L43 144L43 142L43 140L43 138L43 136L43 134L43 132L43 130L43 128L43 126L43 124L43 122L43 120L43 118L43 116L43 114L43 112L43 111.8L45 111.8L47 111.7L49 111.6L51 111.3L53 111L55 110.6L57 110.2L57.8 110L59 109.8L61 109.4L63 109.1L65 109L67 108.9L69 108.9L71 108.9L73 109L75 109.2L77 109.5L79 109.8L79.6 110L81 110.4L83 111.1L85 111.9L85.2 112L87 112.8L89 113.5L91 114L91.3 114L93 114.1L95 114L95.2 114L97 113.8L99 113.7L101 113.5L103 113.4L105 113.3L107 113.2L109 113.1L111 113.1L113 113L115 113L117 112.9L119 112.9L121 112.9L123 112.8L125 112.7L127 112.6L129 112.5L131 112.3L133 112.1L133.5 112L135 111.8L137 111.6L139 111.3L141 111L143 110.8L145 110.6L147 110.5L149 110.5L151 110.8L153 111.3L154.5 112L155 112.3L157 113.5L157.9 114L159 114.7L161 115.5L163 115.7L165 115.3L167 114.3L167.5 114L169 113.3L171 112.4L172.5 112L173 111.9L175 111.6L177 111.5L179 111.6L181 111.8L182.8 112L183 112L185 112.3L187 112.5L189 112.6L191 112.7L193 112.8L195 112.8L197 112.7L199 112.7L201 112.6L203 112.6L205 112.5L207 112.3L209 112.2L211 112.1L211.8 112L213 111.9L215 111.8L217 111.7L219 111.6L221 111.6L223 111.5L225 111.4L227 111.4L229 111.4L231 111.4L233 111.4L235 111.4L237 111.3L239 111.3L241 111.3L243 111.3L245 111.3L247 111.3L249 111.3L251 111.3L253 111.3L255 111.3L257 111.3L259 111.3L261 111.3L263 111.3L265 111.3L267 111.3L269 111.3L271 111.3L273 111.3L275 111.3L277 111.2L279 111.2L281 111.1L283 111.1L285 111.3L287 111.6L288.7 112L289 112L291 112.5L293 112.9L295 113.2L297 113.5L299 113.7L301 113.8L303 113.9L304.5 114L305 114L307 114.1L309 114.2L311 114.2L313 114.2L315 114.2L317 114.1L319 114L319 114L321 113.9L323 113.8L325 113.7L327 113.7L329 113.6L331 113.6L333 113.7L335 113.7L337 113.7L339 113.7L341 113.7L343 113.7L345 113.7L347 113.7L349 113.7L351 113.7L353 113.7L355 113.7L357 113.7L359 113.7L361 113.7L363 113.7L365 113.7L367 113.7L369 113.7L371 113.7L373 113.6L375 113.6L377 113.6L379 113.5L381 113.5L383 113.5L385 113.4L387 113.4L389 113.4L391 113.3L393 113.3L395 113.3L397 113.2L399 113.2L401 113.2L403 113.2L405 113.2L407 113.2L409 113.2L411 113.2L413 113.2L415 113.2L417 113.2L419 113.2L421 113.1L423 112.9L425 112.6L427 112.1L427.5 112L429 110.8L429.9 110L431 108.5L431.5 108L433 106.9L434.2 106L435 105.6L437 104.1L437.1 104L439 102.2L439.2 102L440.7 100L441 99.6L441.9 98L442.6 96L442.9 94L442.8 92L442.4 90L441.5 88L441 87.2L440.3 86L439 84.3L438.8 84L437.4 82L437 81.5L436.1 80L435 78.3L434.8 78L433.5 76L433 75.3L432.1 74L431 72.7L430.5 72L429 70.3L428.8 70L427 68L427 68L425.4 66L425 65.6L423.7 64L423 63.3L421.9 62L421 61L420.2 60L419 58.7L418.4 58L417 56.4L416.7 56L415 54.1L414.9 54L413 52L413 52L411 50.3L410.6 50L409 49.1L407 48.2L406.4 48L405 47.6L403 47.2L401 46.9L399 46.8L397 46.7L395 46.7L393 46.7L391 46.8L389 46.8L387 46.7L385 46.7L383 46.6L381 46.6L379 46.5L377 46.6L375 46.7L373 46.9L371 47.2L369 47.5L367 47.7L365 47.8L363 47.8L361 47.6L359 47.2L357 46.8L355 46.3L353.9 46L353 45.8L351 45.3L349 44.8L347 44.4L345 44L344.8 44L343 43.7L341 43.5L339 43.4L337 43.4L335 43.4L333 43.5L331 43.6L329 43.7L327 43.8L325 43.8L323 43.7L321 43.6L319 43.5L317 43.4L315 43.4L313 43.5L311 43.7L309 44L308.8 44L307 44.4L305 45L303 45.6L302 46L301 46.5L299 47.6L298.3 48L297 49.1L295.9 50L295 51.1L294.2 52L293 53.5L292.6 54L291 55.8L290.8 56L289 57.4L288 58L287 58.5L285 59.2L283 59.7L281.3 60L281 60L279 60.3L277 60.6L275 61L273 61.5L271.2 62L271 62.1L269 62.7L267 63.5L265.9 64L265 64.4L263 65.4L261.9 66L261 66.6L259 67.9L258.9 68L257 69.8L256.8 70L255.3 72L255 72.7L254.3 74L253.7 76L253.4 78L253.2 80L253.3 82L253.7 84L254.6 86L255 86.7L256 88L257 89.2L258 90L259 90.9L260.7 92L261 92.3L263 93.9L263.2 94L263 95.9L263 96L261 96.6L259 96.9L257 97.2L255 97.3L253 97.5L251 97.6L249 97.8L247.3 98L247 98L245 98.2L243 98.5L241 98.6L239 98.8L237 98.9L235 99L233 99L231 99L229 99.1L227 99.2L225 99.4L223 99.6L221 99.9L220.3 100L219 100.2L217 100.6L215 101L213 101.3L211 101.7L209 102L209 102L207 102.4L205 102.7L203 102.9L201 103L199 103.1L197 103.2L195 103.2L193 103.2L191 103.1L189 103L187 102.9L185 102.6L183 102.2L182 102L181 101.8L179 101.3L177 100.6L175.3 100L175 99.9L173 99.3L171 98.7L169 98.1L168.4 98L167 97.6L165 96.7L164.1 96L163 94.6L162.7 94L162.3 92L162.6 90L163 88.6L163.2 88L164.1 86L165 84.2L165.1 84L166.4 82L167 81.2L168.2 80L169 79.4L171 78.5L173 78L173.2 78L175 77.9L177 77.8L179 77.9L179.5 78L181 78.1L183 78.3L185 78.5L187 78.6L189 78.6L191 78.6L193 78.5L195 78.4L197 78.3L199 78.2L201 78.2L203 78.1L205 78.1L207 78.1L209 78.1L211 78.1L213 78.1L215 78.1L217 78.1L219 78.1L221 78L221.1 78L223 77.8L225 77.3L227 76.3L227.4 76L229 74L229 74L229.8 72L230.3 70L230.7 68L231 66.7L231.2 66L231.6 64L231.9 62L232 60L231.5 58L231 56.9L230.5 56L229 54.2L228.8 54L227 52.7L225.3 52L225 51.9L223 51.7L221 51.7L219 51.9L218.4 52L217 52.2L215 52.3L213 52.3L211 52.1L209.9 52L209 51.9L207 51.5L205 51L203 50.5L201.4 50L201 49.9L199 49.2L197 48.5L195.7 48L195 47.7L193 46.5L192.4 46L191 44.4L190.7 44L189.6 42L189 40.4L188.8 40L188.5 38L188.8 36L189 35.6L189.8 34L191 32.8L191.7 32L193 31.1L194.6 30L195 29.8L197 29L199 28.3L200.4 28L201 27.9L203 27.5L205 27.2L207 27L209 26.8L211 26.6L213 26.5L215 26.4L217 26.4L219 26.3L221 26.2L223 26L223.1 26L225 25.7L227 25.3L229 24.8L231 24.1L231.3 24L233 23.1L234.7 22L235 21.7L236.6 20L237 19.2L237.5 18ZM163 135.8L161.7 136L161 136.1L159 136.5L157 137L155 137.8L154.6 138L153 138.8L151 140L150.9 140L149 141L147.1 142L147 142L145 142.8L143 143.5L141.6 144L141 144.2L139 144.8L137 145.4L135.5 146L135 146.2L133 147L131 147.9L130.8 148L129 149.2L127.7 150L127 150.9L126.2 152L126.3 154L127 154.7L128.7 156L129 156.1L131 156.7L133 157L135 157.2L137 157.2L139 157.1L141 156.8L143 156.4L144.8 156L145 156L147 155.4L149 154.8L151 154.4L153 154L153.2 154L155 153.6L157 153.2L159 152.6L160.3 152L161 151.5L162.8 150L163 149.8L164.2 148L165 146.5L165.3 146L166.2 144L167 142.4L167.3 142L168.9 140L169 139.8L171 138.1L171.4 138L173 136.5L174.4 136L173 135.4L171 135.1L169 135.1L167 135.3L165 135.5ZM503.7 16L505 16L507 16L509 16L511 16L513 16L515 16L517 16L519 16L521 16L523 16L525 16L527 16L529 16L531 16L532.6 16L532.5 18L532.4 20L532.1 22L531.5 24L531 25.1L530.5 26L529 27.5L528.3 28L527 28.7L525 29.2L523 29.6L521 29.7L519 29.7L517 29.6L515 29.2L513 28.7L511 28L510.9 28L509 26.9L507.8 26L507 25.1L506 24L505 22.2L504.9 22L504.2 20L503.8 18Z"/>
<path fill="#ffffea" d="M242.7 16L243 16L245 16L247 16L249 16L251 16L253 16L255 16L257 16L259 16L261 16L263 16L265 16L267 16L269 16L271 16L273 16L275 16L277 16L279 16L281 16L283 16L285 16L287 16L289 16L291 16L293 16L295 16L297 16L299 16L301 16L303 16L305 16L307 16L309 16L311 16L313 16L315 16L317 16L319 16L321 16L323 16L325 16L327 16L329 16L331 16L333 16L335 16L337 16L339 16L341 16L343 16L345 16L347 16L349 16L351 16L353 16L355 16L357 16L359 16L361 16L363 16L365 16L367 16L369 16L371 16L373 16L375 16L377 16L379 16L381 16L383 16L385 16L387 16L389 16L391 16L393 16L395 16L397 16L399 16L401 16L403 16L405 16L407 16L409 16L411 16L413 16L415 16L417 16L419 16L421 16L423 16L425 16L427 16L429 16L431 16L433 16L435 16L437 16L438.4 16L438.4 18L438.3 20L438.2 22L438 24L437.8 26L437.2 28L437 28.3L436.1 30L435 31L433.6 32L433 32.3L431 33.2L429 33.9L428.6 34L427 34.5L425 35.1L423 35.7L421.5 36L421 36.2L419 36.7L417 37.2L415 37.5L413 37.9L412.3 38L411 38.2L409 38.6L407 38.9L405 39.3L403 39.6L401 39.9L400.4 40L399 40.2L397 40.5L395 40.8L393 41.1L391 41.3L389 41.5L387 41.6L385 41.6L383 41.6L381 41.6L379 41.6L377 41.6L375 41.7L373 41.9L372.1 42L371 42.1L369 42.4L367 42.7L365 42.8L363 42.9L361 42.7L359 42.4L357 42L357 42L355 41.5L353 41.1L351 40.8L349 40.5L347 40.3L345 40.2L343 40.2L341 40.2L339 40.2L337 40.3L335 40.5L333 40.6L331 40.8L329 41L327 41.1L325 41.2L323 41.2L321 41.2L319 41.2L317 41.2L315 41.2L313 41.4L311 41.5L309 41.8L307.7 42L307 42.1L305 42.6L303 43.1L301 43.7L300 44L299 44.4L297 45.4L295.9 46L295 46.6L293.2 48L293 48.2L291.1 50L291 50.1L289.3 52L289 52.3L287.2 54L287 54.1L285 55.5L284 56L283 56.4L281 57.1L279 57.6L277.6 58L277 58.1L275 58.6L273 59.1L271 59.6L269.9 60L269 60.3L267 61L265 61.7L264.2 62L263 62.5L261 63.3L259.3 64L259 64.1L257 65.1L255.2 66L255 66.2L253 67.5L252.2 68L251 69.1L250.1 70L249 71.3L248.4 72L247 73.8L246.7 74L245 75.5L243.7 76L243 76.3L241 76.4L239 76.1L238.8 76L237 74.9L236.3 74L235.5 72L235.4 70L235.6 68L236.2 66L236.9 64L237 63.7L237.6 62L237.8 60L237.5 58L237 57L236.6 56L235.1 54L235 53.9L233.2 52L233 51.9L231 50.2L230.8 50L229 49L227 48.2L225.1 48L225 48L224.8 48L223 48.1L221 48.6L219 49.1L217 49.6L215 49.9L213 50L211 49.9L209 49.6L207 49.1L205 48.4L203.9 48L203 47.6L201 46.8L199.4 46L199 45.8L197 44.6L196.1 44L195 43.1L194 42L193 40.2L192.9 40L192.5 38L192.7 36L193 35.4L193.7 34L195 32.5L195.5 32L197 31.1L199 30.1L199.3 30L201 29.5L203 29L205 28.6L207 28.3L209 28.1L210.2 28L211 27.9L213 27.8L215 27.7L217 27.7L219 27.7L221 27.6L223 27.5L225 27.4L227 27.2L229 26.8L231 26.4L232.4 26L233 25.8L235 25L237 24.1L237.2 24L239 22.8L240 22L241 20.8L241.6 20L242.4 18ZM445 58L445 58L447 56.7L449 56.2L451 56.1L453 56.7L455 57.8L455.3 58L457 59.8L457.2 60L458.6 62L459 62.6L460.1 64L461 65L462.2 66L463 66.5L465 67.4L467 67.9L467.5 68L469 68.3L471 68.7L473 69.3L474.6 70L475 70.2L477 71.3L478.4 72L479 72.3L481 73L483 73.5L484.6 74L485 74.1L487 74.8L489 75.7L489.5 76L491 77L492.3 78L493 78.7L494.1 80L495 81.2L495.7 82L497 83.8L497.2 84L499 85.8L499.2 86L501 87.1L503 87.9L503.2 88L505 88.5L507 88.8L509 89L511 89.1L513 89.1L515 89L517 89L519 88.8L521 88.7L523 88.7L524.1 88L525 87.7L525.8 86L527 84.4L527.3 84L528.3 82L529 80.8L529.6 80L530.8 78L531 77.5L532.8 76L533 75.7L533.1 76L533.3 78L533.2 80L533 80.9L532.8 82L532.3 84L532.2 86L532.1 88L531.5 90L531 91.7L531 92L531 92.4L531.2 94L531.2 96L531.1 98L531 100L531 101.3L530.8 102L530 104L529.1 106L529 106.1L527.7 108L527 108.9L526.1 110L525 111.2L524.7 112L523 113.9L523 114L522.5 116L521 117.6L520.8 118L520.2 120L519 121.2L518.4 122L517.5 124L517 124.4L515.5 126L515 126.8L513.9 126L513.5 124L513.2 122L513 121.2L511 121.4L509 121.3L507 121L505 120.6L503 120.1L502.6 120L501 119.5L499 118.9L497 118.3L495.7 118L495 117.8L493 117.1L491 116.4L490 116L489 115.4L487 114.1L486.9 114L485.5 112L485.1 110L485 109.5L484.6 108L483.6 106L483 105.3L482.1 104L481 102.7L480.5 102L479.2 100L479 99.5L478.2 98L477.4 96L477 94.9L476.6 94L475.7 92L475 90.7L474.3 90L473 89.1L471 89.2L469 89.9L468.7 90L467 90.6L465 91L463 91.1L461 90.9L459 90.4L458.3 90L457 89.3L455.4 88L455 87.6L453.8 86L453 84.7L452.6 84L451.4 82L451 81.3L450 80L449 78.9L448.1 78L447 77.1L445.7 76L445 75.4L443.8 74L443 72.8L442.5 72L441.9 70L441.5 68L441.5 66L441.8 64L442.3 62L443 60.6L443.3 60ZM180.3 84L181 83.8L183 83.4L185 83.1L187 82.9L189 82.8L191 82.6L193 82.5L195 82.4L197 82.3L199 82.2L201 82.3L203 82.3L205 82.5L207 82.8L209 83.1L211 83.4L213 83.9L213.6 84L215 84.4L217 85.2L219 86L219 86L220.9 88L220.8 90L219.2 92L219 92.1L217 93.6L216.6 94L215 94.9L213.1 96L213 96L211 96.9L209 97.8L208.4 98L207 98.4L205 99L203 99.4L201 99.7L199 99.8L197 99.9L195 100L193 99.9L191 99.8L189 99.6L187 99.3L185 98.9L183 98.2L182.5 98L181 97.2L179.2 96L179 95.8L177.2 94L177 93.7L176 92L175.4 90L175.6 88L176.8 86L177 85.8L179 84.5ZM56.7 112L57 111.9L59 111.5L61 111.2L63 110.9L65 110.7L67 110.6L69 110.6L71 110.6L73 110.7L75 111L77 111.3L79 111.9L79.4 112L81 112.7L83 113.8L83.4 114L85 115.1L86.5 116L87 116.3L89 117.2L91 117.7L93 117.8L95 117.7L97 117.4L99 117.2L101 117L103 116.8L105 116.6L107 116.5L109 116.4L111 116.4L113 116.3L115 116.3L117 116.2L119 116.2L121 116.2L123 116.2L125 116.2L127 116.3L129 116.3L131 116.4L133 116.5L135 116.7L137 116.9L139 117.2L141 117.6L142.2 118L143 118.3L145 119.4L145.8 120L147 121.2L147.6 122L148.5 124L148.9 126L148.8 128L148.5 130L147.8 132L147 133.6L146.8 134L145.6 136L145 136.7L143.9 138L143 138.7L141.4 140L141 140.2L139 141.4L138 142L137 142.4L135 143.4L133.7 144L133 144.3L131 145.2L129.2 146L129 146.1L127 147L125 147.9L124.9 148L123 149.3L122.1 150L121 151.7L120.8 152L120.7 154L121 154.8L121.6 156L123 157.2L124.4 158L125 158.2L127 158.8L129 159.2L131 159.4L133 159.6L135 159.6L137 159.5L139 159.3L141 159L143 158.7L145 158.3L146.2 158L147 157.8L149 157.4L151 157L153 156.7L155 156.5L157 156.2L158.1 156L159 155.8L161 155.2L163 154.3L163.6 154L165 152.9L166 152L167 150.8L167.7 150L169 148.3L169.3 148L171 146.3L171.4 146L173 145L175 144.2L176 144L177 143.7L179 143.5L181 143.4L183 143.4L185 143.5L187 143.6L189 143.6L191 143.6L193 143.6L195 143.6L197 143.6L199 143.5L201 143.4L203 143.3L205 143.2L207 143L209 142.8L211 142.5L213 142.1L213.6 142L215 141.6L217 140.9L219 140.1L219.3 140L221 139.2L223 138.3L223.8 138L225 137.5L227 136.9L229 136.5L231 136.2L232.4 136L233 135.9L235 135.7L237 135.4L239 135.1L241 134.8L243 134.5L245 134.2L246.5 134L247 133.9L249 133.6L251 133.3L253 132.9L255 132.6L257 132.3L259 132L259.3 132L261 131.7L263 131.3L265 130.9L267 130.5L269 130.1L269.3 130L271 129.5L273 128.9L275 128.3L276 128L277 127.6L279 126.7L280.6 126L281 125.8L283 124.7L284.3 124L285 123.6L287 122.5L287.8 122L289 121.4L291 120.5L292.2 120L293 119.8L295 119.2L297 118.8L299 118.6L301 118.5L303 118.6L305 118.7L307 118.9L309 119.2L311 119.5L313 119.9L313.5 120L315 120.5L317 121.6L317.5 122L318.6 124L319 125L319.3 126L320.2 128L321 129.2L321.7 130L323 131L324.8 132L325 132.1L327 132.6L329 132.8L331 132.9L333 132.9L335 132.8L337 132.8L339 132.7L341 132.7L343 132.7L345 132.7L347 132.7L349 132.7L351 132.7L353 132.7L355 132.6L357 132.6L359 132.5L361 132.5L363 132.4L365 132.3L367 132.3L369 132.2L371 132.1L373 132.1L374.8 132L375 132L377 131.9L379 131.8L381 131.7L383 131.5L385 131.3L387 131L389 130.7L391 130.3L392.4 130L393 129.8L395 129.2L397 128.7L399 128.4L401 128.1L403 128L403.4 128L405 127.9L407 127.7L409 127L410.6 126L411 125.6L412.5 124L413 123.6L415 122.2L415.4 122L417 121.4L419 120.9L421 120.6L423 120.5L425 120.4L427 120.5L429 120.5L431 120.7L433 121L435 121.4L437 122L437 122L439 122.7L441 123.7L441.5 124L443 124.9L444.9 126L445 126.1L447 127.2L449 128L449 128L451 128.6L453 128.9L455 129.1L457 129.2L459 129.6L459.8 130L461 130.6L462.7 132L463 132.3L464.4 134L465 134.7L465.9 136L467 137.4L467.4 138L469 139.8L469.2 140L471 141.6L471.5 142L473 142.9L475 143.8L475.4 144L477 144.6L479 145.2L481 145.7L482.2 146L483 146.2L485 146.8L487 147.5L488.1 148L489 148.4L491 149.6L491.7 150L493 150.9L494.4 152L495 152.5L497 153.9L497.1 154L499 155.1L500.6 156L501 156.2L503 157.2L504.4 158L505 158.3L507 159.6L507.7 160L509 161L510.4 162L511 162.5L513 163.9L513.2 164L515 165.1L516.6 166L517 166.2L519 167L521 167.7L522.1 168L523 168.2L525 168.6L527 168.8L529 168.9L531 168.9L533 168.8L535 168.7L537 168.7L539 168.6L541 168.6L543 168.6L545 168.6L545 170L545 172L545 174L545 176L545 178L545 180L545 182L545 184L545 186L545 188L545 190L545 192L545 194L545 196L545 198L545 200L545 202L545 204L545 206L543 206L541 206L539 206L537 206L535 206L533 206L531 206L529 206L527 206L525 206L523 206L521 206L519 206L517 206L515 206L513 206L511 206L509 206L507 206L505 206L503 206L501 206L499 206L497 206L495 206L493 206L491 206L489 206L487 206L485 206L483 206L481 206L479 206L477 206L475 206L473 206L471 206L469 206L467 206L465 206L463 206L461 206L459 206L457 206L455 206L453 206L451 206L449 206L447 206L445 206L443 206L441 206L439 206L437 206L435 206L433 206L431 206L429 206L427 206L425 206L423 206L421 206L419 206L417 206L415 206L413 206L411 206L409 206L407 206L405 206L403 206L401 206L399 206L397 206L395 206L393 206L391 206L389 206L387 206L385 206L383 206L381 206L379 206L377 206L375 206L373 206L371 206L369 206L367 206L365 206L363 206L361 206L359 206L357 206L355 206L353 206L351 206L349 206L347 206L345 206L343 206L341 206L339 206L337 206L335 206L333 206L331 206L329 206L327 206L325 206L323 206L321 206L319 206L317 206L315 206L313 206L311 206L309 206L307 206L305 206L303 206L301 206L299 206L297 206L295 206L293 206L291 206L289 206L287 206L285 206L283 206L281 206L279 206L277 206L275 206L273 206L271 206L269 206L267 206L265 206L263 206L261 206L259 206L257 206L255 206L253 206L251 206L249 206L247 206L245 206L243 206L241 206L239 206L237 206L235 206L233 206L231 206L229 206L227 206L225 206L223 206L221 206L219 206L217 206L215 206L213 206L211 206L209 206L207 206L205 206L203 206L201 206L199 206L197 206L195 206L193 206L191 206L189 206L187 206L185 206L183 206L181 206L179 206L177 206L175 206L173 206L171 206L169 206L167 206L165 206L163 206L161 206L159 206L157 206L155 206L153 206L151 206L149 206L147 206L145 206L143 206L141 206L139 206L137 206L135 206L133 206L131 206L129 206L127 206L125 206L123 206L121 206L119 206L117 206L115 206L113 206L111 206L109 206L107 206L105 206L103 206L101 206L99 206L97 206L95 206L93 206L91 206L89 206L87 206L85 206L83 206L81 206L79 206L77 206L75 206L73 206L71 206L69 206L67 206L65 206L63 206L61 206L59 206L57 206L55 206L53 206L51 206L49 206L47 206L45 206L43 206L43 204L43 202L43 200L43 198L43 196L43 194L43 192L43 190L43 188L43 186L43 184L43 182L43 180L43 178L43 176L43 174L43 172L43 170L43 168L43 166L43 164L43 162L43 160L43 158L43 156L43 154L43 152L43 150L43 148L43 146L43 144L43 142L43 140L43 138L43 136L43 134L43 132L43 130L43 128L43 126L43 124L43 122L43 120L43 118L43 116L43 114L43 113.8L45 113.8L47 113.7L49 113.5L51 113.2L53 112.9L55 112.4Z"/>
<path fill="#fff1bc" d="M247.8 16L249 16L251 16L253 16L255 16L257 16L259 16L261 16L263 16L265 16L267 16L269 16L271 16L273 16L275 16L277 16L279 16L281 16L283 16L285 16L287 16L289 16L291 16L293 16L295 16L297 16L299 16L301 16L303 16L305 16L307 16L309 16L311 16L313 16L315 16L317 16L319 16L321 16L323 16L325 16L327 16L329 16L331 16L333 16L335 16L337 16L339 16L341 16L343 16L345 16L347 16L349 16L351 16L353 16L355 16L357 16L359 16L361 16L363 16L365 16L367 16L369 16L371 16L373 16L375 16L377 16L379 16L381 16L383 16L385 16L387 16L389 16L391 16L393 16L395 16L397 16L399 16L401 16L403 16L405 16L407 16L409 16L411 16L413 16L415 16L417 16L419 16L421 16L423 16L425 16L427 16L429 16L431 16L431.9 16L431.8 18L431.6 20L431.2 22L431 22.5L430.4 24L429 26L429 26L427 27.5L426.2 28L425 28.5L423 29.2L421 29.7L419.8 30L419 30.2L417 30.6L415 31L413 31.4L411 31.8L409.9 32L409 32.2L407 32.6L405 33L403 33.5L401 33.9L400.7 34L399 34.4L397 34.9L395 35.4L393 35.8L392.2 36L391 36.2L389 36.5L387 36.7L385 36.8L383 36.8L381 36.8L379 36.7L377 36.7L375 36.7L373 36.7L371 36.8L369 36.9L367 36.9L365 37L363 36.9L361 36.9L359 36.7L357 36.6L355 36.4L353 36.3L351 36.3L349 36.4L347 36.5L345 36.6L343 36.8L341 37L339 37.2L337 37.4L335 37.6L333 37.9L332.3 38L331 38.2L329 38.4L327 38.6L325 38.8L323 38.9L321 39L319 39.1L317 39.1L315 39.2L313 39.4L311 39.6L309 39.8L307.8 40L307 40.1L305 40.5L303 40.9L301 41.4L299 41.9L298.6 42L297 42.6L295 43.4L293.7 44L293 44.4L291 45.7L290.5 46L289 47.2L288 48L287 49L285.8 50L285 50.7L283.4 52L283 52.3L281 53.5L279.9 54L279 54.4L277 55.1L275 55.7L274 56L273 56.3L271 56.8L269 57.4L267.2 58L267 58.1L265 58.7L263 59.3L261 59.9L260.8 60L259 60.5L257 61.1L255 61.7L253.8 62L253 62.2L251 62.5L249 62.5L247.1 62L247 61.9L245.1 60L245 59.8L244 58L243 56.3L242.8 56L241.4 54L241 53.6L239.4 52L239 51.7L237 50.1L236.9 50L235 48.6L234.1 48L233 47.3L231 46.1L230.7 46L229 45.4L227 45L225 45L223 45.3L221 45.8L220.4 46L219 46.5L217 47.1L215 47.5L213 47.7L211 47.6L209 47.2L207 46.6L205.4 46L205 45.8L203 44.8L201.5 44L201 43.7L199 42.4L198.5 42L197 40.4L196.7 40L195.9 38L196 36L197 34L197 34L199 32.3L199.4 32L201 31.3L203 30.6L205 30L205.1 30L207 29.7L209 29.4L211 29.2L213 29.1L215 29L217 29L219 29L221 29.1L223 29.1L225 29L227 28.9L229 28.6L231 28.3L232.5 28L233 27.9L235 27.4L237 26.8L239 26.1L239.3 26L241 25.2L243 24.1L243.2 24L245 22.5L245.5 22L246.9 20L247 19.7L247.6 18ZM458.1 76L459 75.2L461 74.8L463 75L465 75.5L465.9 76L467 77.1L467.6 78L467.8 80L467.3 82L467 82.5L465.5 84L465 84.3L463 84.7L461 84.3L460.4 84L459 82.6L458.6 82L457.8 80L457.5 78ZM483 78L485 77.7L486.8 78L487 78L489 78.9L490.5 80L491 80.4L492.3 82L493 83L493.6 84L494.8 86L495 86.3L496.3 88L497 88.8L498.8 90L499 90.2L501 90.9L503 91.3L505 91.5L507 91.5L509 91.5L511 91.5L513 91.4L515 91.3L517 91.2L519 91.1L521 91.1L523 91.3L523.5 90L525 88.8L525.4 88L526.5 86L527 85.3L527.8 84L528.8 82L529 81.7L530.4 80L531 78.7L532.1 80L532.1 82L531.8 84L531.6 86L531.1 88L531 88.3L530.6 90L530.3 92L530.2 94L529.6 96L529 97.3L528.9 98L528.7 100L527.7 102L527 103L526.8 104L526.3 106L525 107.3L524.7 108L524.3 110L523 111.7L522.9 112L522.2 114L521.1 116L521 116.1L520.1 118L519.1 120L519 120.1L517.7 122L517 123.2L515.8 124L515 125L514.5 124L514.2 122L513.8 120L513.3 118L513 117.4L511 117.8L509 117.6L507 117L505 116.1L504.9 116L503 114.5L502.3 114L501 112.5L500.6 112L499.5 110L499 108.9L498.6 108L497.4 106L497 105.4L496 104L495 102.9L494.1 102L493 101.1L491.5 100L491 99.7L489 98.4L488.5 98L487 97L485.9 96L485 95.2L484.1 94L483 92.5L482.7 92L481.7 90L481 88.4L480.9 88L480.3 86L480 84L480.1 82L480.7 80L481 79.6L483 78ZM185.7 88L187 87.5L189 86.9L191 86.6L193 86.3L195 86.2L197 86.1L199 86.2L201 86.5L203 86.9L205 87.6L205.7 88L207 89.2L207.6 90L207.7 92L207 93.1L206.4 94L205 94.9L203.1 96L203 96L201 96.5L199 96.9L197 97.1L195 97.1L193 97L191 96.8L189 96.5L187.4 96L187 95.8L185 94.6L184.3 94L183.2 92L183.5 90L185 88.5ZM56.6 114L57 113.9L59 113.4L61 113L63 112.7L65 112.4L67 112.3L69 112.2L71 112.3L73 112.5L75 112.8L77 113.3L78.8 114L79 114.1L81 115.4L81.9 116L83 117.1L84.1 118L85 118.9L86.7 120L87 120.2L89 121L91 121.5L93 121.7L95 121.7L97 121.5L99 121.4L101 121.3L103 121.2L105 121.1L107 121.1L109 121L111 121L113 121L115 121L117 121L119 121L121 121.1L123 121.2L125 121.3L127 121.5L129 121.7L131 121.9L131.5 122L133 122.3L135 122.8L137 123.6L137.7 124L139 125L139.9 126L140.8 128L141 129.5L141 130L141 130.4L140.8 132L140.1 134L139 135.9L138.9 136L137.2 138L137 138.2L135 139.8L134.8 140L133 141.2L131.8 142L131 142.4L129 143.4L127.7 144L127 144.3L125 145.1L123 145.8L122.5 146L121 146.7L119 147.7L118.6 148L117 149.5L116.5 150L115.6 152L115.3 154L115.6 156L116.8 158L117 158.2L119 159.8L119.3 160L121 160.7L123 161.3L125 161.6L127 161.8L129 162L130 162L131 162L133 162L133.5 162L135 161.9L137 161.8L139 161.6L141 161.2L143 160.9L145 160.4L146.9 160L147 160L149 159.6L151 159.3L153 159L155 158.8L157 158.5L159 158.3L160.3 158L161 157.8L163 157.2L165 156.3L165.6 156L167 155L168.1 154L169 153L170 152L171 150.9L172 150L173 149.2L175 148.1L175.2 148L177 147.4L179 147.2L181 147.1L183 147.3L185 147.4L187 147.6L189 147.8L191 147.9L193 148L193.6 148L195 148L197 148.1L199 148.1L201 148.2L203 148.2L205 148.2L207 148.2L209 148.2L211 148.2L213 148.2L215 148.2L217 148.2L219 148.2L221 148.2L223 148.1L225 148L225.1 148L227 147.8L229 147.6L231 147.4L233 147.1L235 146.8L237 146.5L239 146.2L239.9 146L241 145.8L243 145.5L245 145.1L247 144.7L249 144.2L250 144L251 143.8L253 143.3L255 142.8L257 142.3L257.8 142L259 141.7L261 141.2L263 140.7L265 140.1L265.3 140L267 139.6L269 139.1L271 138.6L273 138.1L273.4 138L275 137.7L277 137.3L279 136.9L281 136.5L283 136L283 136L285 135.5L287 134.8L288.6 134L289 133.8L291 132.2L291.2 132L293 130L293 130L294.7 128L295 127.7L297 126.1L297.2 126L299 125.2L301 124.8L303 124.7L305 125L307 125.6L307.9 126L309 126.7L310.7 128L311 128.4L312.3 130L313 130.9L313.8 132L315 133.4L315.6 134L317 135.1L318.5 136L319 136.2L321 136.9L323 137.4L325 137.6L327 137.8L329 137.9L331 137.9L333 137.9L335 137.9L337 137.9L339 137.9L341 137.9L343 137.9L345 137.9L347 137.9L349 137.9L351 137.9L353 137.9L355 137.9L357 137.9L359 137.9L361 137.9L363 137.9L365 137.9L367 137.9L369 137.9L371 137.9L373 137.9L375 137.9L377 137.9L379 137.9L381 138L383 138L385 137.9L387 137.8L389 137.6L391 137.3L393 137L395 136.7L397 136.3L399 136.1L400.6 136L401 136L403 135.9L405 136L407 136L409 135.9L411 135.6L413 134.9L414.4 134L415 133.6L416.5 132L417 131.4L418 130L419 128.7L419.6 128L421 126.7L422.3 126L423 125.7L425 125.2L427 125.1L429 125.3L431 125.8L431.7 126L433 126.6L435 127.7L435.5 128L437 129.1L438.3 130L439 130.6L441 132L441 132L443 133.1L445 134L445.1 134L447 134.6L449 135.2L451 135.6L452.8 136L453 136.1L455 136.6L457 137.2L458.5 138L459 138.3L461 139.9L461.1 140L463 141.9L463.1 142L465 143.8L465.2 144L467 145.3L468.1 146L469 146.5L471 147.3L473 148L473.1 148L475 148.6L477 149.1L479 149.6L480.6 150L481 150.1L483 150.8L485 151.5L486 152L487 152.5L489 153.7L489.5 154L491 155L492.4 156L493 156.4L495 157.6L495.6 158L497 158.8L499 159.8L499.3 160L501 160.9L502.8 162L503 162.1L505 163.6L505.6 164L507 165.1L508.3 166L509 166.5L511 167.7L511.6 168L513 168.6L515 169.4L516.6 170L517 170.1L519 170.8L521 171.3L523 171.7L525 171.9L525.6 172L527 172.1L529 172.2L531 172.2L533 172.2L535 172.1L537 172L538.7 172L539 172L541 172L543 171.9L545 171.9L545 172L545 174L545 176L545 178L545 180L545 182L545 184L545 186L545 188L545 190L545 192L545 194L545 196L545 198L545 200L545 202L545 204L545 206L543 206L541 206L539 206L537 206L535 206L533 206L531 206L529 206L527 206L525 206L523 206L521 206L519 206L517 206L515 206L513 206L511 206L509 206L507 206L505 206L503 206L501 206L499 206L497 206L495 206L493 206L491 206L489 206L487 206L485 206L483 206L481 206L479 206L477 206L475 206L473 206L471 206L469 206L467 206L465 206L463 206L461 206L459 206L457 206L455 206L453 206L451 206L449 206L447 206L445 206L443 206L441 206L439 206L437 206L435 206L433 206L431 206L429 206L427 206L425 206L423 206L421 206L419 206L417 206L415 206L413 206L411 206L409 206L407 206L405 206L403 206L401 206L399 206L397 206L395 206L393 206L391 206L389 206L387 206L385 206L383 206L381 206L379 206L377 206L375 206L373 206L371 206L369 206L367 206L365 206L363 206L361 206L359 206L357 206L355 206L353 206L351 206L349 206L347 206L345 206L343 206L341 206L339 206L337 206L335 206L333 206L331 206L329 206L327 206L325 206L323 206L321 206L319 206L317 206L315 206L313 206L311 206L309 206L307 206L305 206L303 206L301 206L299 206L297 206L295 206L293 206L291 206L289 206L287 206L285 206L283 206L281 206L279 206L277 206L275 206L273 206L271 206L269 206L267 206L265 206L263 206L261 206L259 206L257 206L255 206L253 206L251 206L249 206L247 206L245 206L243 206L241 206L239 206L237 206L235 206L233 206L231 206L229 206L227 206L225 206L223 206L221 206L219 206L217 206L215 206L213 206L211 206L209 206L207 206L205 206L203 206L201 206L199 206L197 206L195 206L193 206L191 206L189 206L187 206L185 206L183 206L181 206L179 206L177 206L175 206L173 206L171 206L169 206L167 206L165 206L163 206L161 206L159 206L157 206L155 206L153 206L151 206L149 206L147 206L145 206L143 206L141 206L139 206L137 206L135 206L133 206L131 206L129 206L127 206L125 206L123 206L121 206L119 206L117 206L115 206L113 206L111 206L109 206L107 206L105 206L103 206L101 206L99 206L97 206L95 206L93 206L91 206L89 206L87 206L85 206L83 206L81 206L79 206L77 206L75 206L73 206L71 206L69 206L67 206L65 206L63 206L61 206L59 206L57 206L55 206L53 206L51 206L49 206L47 206L45 206L43 206L43 204L43 202L43 200L43 198L43 196L43 194L43 192L43 190L43 188L43 186L43 184L43 182L43 180L43 178L43 176L43 174L43 172L43 170L43 168L43 166L43 164L43 162L43 160L43 158L43 156L43 154L43 152L43 150L43 148L43 146L43 144L43 142L43 140L43 138L43 136L43 134L43 132L43 130L43 128L43 126L43 124L43 122L43 120L43 118L43 116.4L45 116.3L47 116.1L47.9 116L49 115.9L51 115.5L53 115.1L55 114.5Z"/>
<path fill="#ffd699" d="M252.9 18L253 16.6L253.1 16L255 16L257 16L259 16L261 16L263 16L265 16L267 16L269 16L271 16L273 16L275 16L277 16L279 16L281 16L283 16L285 16L287 16L289 16L291 16L293 16L295 16L297 16L299 16L301 16L303 16L305 16L307 16L309 16L311 16L313 16L315 16L317 16L319 16L321 16L323 16L325 16L327 16L329 16L331 16L333 16L335 16L337 16L339 16L341 16L343 16L345 16L347 16L349 16L351 16L353 16L355 16L357 16L359 16L361 16L363 16L365 16L367 16L369 16L371 16L373 16L375 16L377 16L379 16L381 16L383 16L385 16L387 16L389 16L391 16L393 16L395 16L397 16L399 16L401 16L403 16L405 16L407 16L409 16L411 16L413 16L415 16L417 16L419 16L421 16L423 16L425 16L426.4 16L426.3 18L425.7 20L425 21.4L424.6 22L423 23.4L422.1 24L421 24.5L419 25.2L417 25.8L416.1 26L415 26.2L413 26.6L411 26.9L409 27.3L407 27.6L405 27.9L404.3 28L403 28.2L401 28.5L399 28.8L397 29.1L395 29.5L393 29.9L392.3 30L391 30.2L389 30.5L387 30.8L385 31L383 31.1L381 31.1L379 31.1L377 31.1L375 31.2L373 31.2L371 31.2L369 31.3L367 31.4L365 31.5L363 31.6L361 31.7L359 31.8L357 31.9L355.8 32L355 32.1L353 32.2L351 32.4L349 32.6L347 32.9L345 33.2L343 33.5L341 33.8L339.6 34L339 34.1L337 34.4L335 34.8L333 35.1L331 35.4L329 35.7L327.3 36L327 36L325 36.3L323 36.5L321 36.7L319 36.9L317 37L315 37.2L313 37.4L311 37.6L309 37.8L308 38L307 38.1L305 38.4L303 38.8L301 39.2L299 39.6L297.5 40L297 40.1L295 40.7L293 41.4L291.5 42L291 42.2L289 43.2L287.6 44L287 44.4L285 45.7L284.6 46L283 47.3L282 48L281 48.8L279.1 50L279 50.1L277 51.1L275 52L274.9 52L273 52.6L271 53.2L269 53.7L267.8 54L267 54.2L265 54.6L263 55L261 55.5L259 55.8L257.9 56L257 56.1L255 56.2L253.7 56L253 55.9L251 55L249.7 54L249 53.5L247.4 52L247 51.7L245 50.1L244.9 50L243 48.8L241.7 48L241 47.6L239 46.6L238 46L237 45.5L235 44.5L233.9 44L233 43.6L231 42.9L229 42.4L227 42.2L225 42.3L223 42.7L221 43.3L219.1 44L219 44L217 44.7L215 45.2L213 45.4L211 45.3L209 44.9L207 44.2L206.7 44L205 43.2L203 42L203 42L201 40.4L200.6 40L199.4 38L199.4 36L200.6 34L201 33.7L203 32.5L204 32L205 31.7L207 31.2L209 30.8L211 30.5L213 30.4L215 30.3L217 30.3L219 30.4L221 30.6L223 30.7L225 30.7L227 30.7L229 30.5L231 30.3L232.7 30L233 30L235 29.6L237 29.2L239 28.7L241 28.1L241.5 28L243 27.5L245 26.7L246.4 26L247 25.7L249 24.3L249.4 24L251 22.3L251.2 22L252.3 20ZM530.1 82L531 80.4L531.4 82L531.3 84L531 85.8L530.9 86L530.5 88L530 90L529.7 92L529.2 94L529 94.5L528.5 96L528.1 98L527.5 100L527 100.8L526.5 102L526 104L525 105.8L524.9 106L524.1 108L523.3 110L523 110.4L522.2 112L521.4 114L521 114.8L520.3 116L519.4 118L519 118.7L518 120L517 121.8L515.2 120L515.4 118L515.7 116L515.8 114L516.1 112L517 110.6L517.2 110L517.5 108L517.6 106L518.3 104L519 102.6L519.1 102L519 101.5L517 101.7L515 101.6L513 101.2L511 100.5L510 100L509 99L508.2 98L509 97.1L510.3 96L511 95.8L513 95.4L515 95.1L517 94.8L519 94.7L521 95L521.4 94L523 93.2L523.6 92L524.7 90L525 89.8L526 88L527 86.2L527.1 86L528.4 84L529 82.8ZM487 86L487 85.9L487.1 86L487 86ZM58.5 116L59 115.8L61 115.3L63 114.8L65 114.4L67 114.2L69 114.1L71 114.2L73 114.4L75 114.9L77 115.7L77.6 116L79 117.1L80 118L81 119.3L81.6 120L83 121.9L83.1 122L85 123.7L85.5 124L87 124.7L89 125.4L91 125.8L92.1 126L93 126.2L95 126.5L97 126.9L99 127.3L101 127.7L102.5 128L103 128.1L105 128.6L107 129.1L109 129.5L111 129.7L113 129.9L115 129.8L117 129.7L119 129.5L121 129.4L123 129.4L125 129.5L127 129.9L127.5 130L129 130.5L131 131.7L131.2 132L132.1 134L131.8 136L131 137.4L130.7 138L129 139.5L128.5 140L127 140.8L125 141.7L124.3 142L123 142.4L121 142.9L119 143.3L117 143.7L116.1 144L115 144.3L113 145.1L111.3 146L111 146.2L109 147.4L108 148L107 148.8L105.2 150L105 150.2L103.7 152L103.4 154L104 156L105 158L105 158L106.4 160L107 160.7L108.2 162L109 162.7L111 164L111 164L113 164.8L115 165.2L117 165.4L119 165.4L121 165.4L123 165.4L125 165.3L127 165.2L129 165.1L131 165L133 164.9L135 164.7L137 164.4L139 164.1L139.5 164L141 163.7L143 163.3L145 162.8L147 162.4L148.7 162L149 162L151 161.6L153 161.4L155 161.1L157 160.9L159 160.7L161 160.4L162.5 160L163 159.9L165 159.2L167 158.3L167.5 158L169 156.9L170.1 156L171 155.2L172.3 154L173 153.4L175 152L175 152L177 151.1L179 150.7L181 150.7L183 150.9L185 151.2L187 151.5L189 151.7L191 151.9L192.1 152L193 152.1L195 152.2L197 152.4L199 152.6L201 152.8L203 153L205 153.3L207 153.6L209 154L209.1 154L211 154.5L213 155L215 155.6L216.1 156L217 156.4L219 157.1L221 157.8L221.5 158L223 158.5L225 159.1L227 159.7L227.9 160L229 160.3L231 160.8L233 161.2L235 161.6L237 162L237 162L239 162.2L241 162.4L243 162.4L245 162.5L247 162.4L249 162.3L251 162.1L252.2 162L253 161.9L255 161.5L257 161.1L259 160.7L261 160.4L263 160L263.2 160L265 159.7L267 159.4L269 159.1L271 158.9L273 158.7L275 158.5L277 158.3L279 158.2L280.5 158L281 157.9L283 157.7L285 157.4L287 157.2L289 157L291 156.8L293 156.7L295 156.7L297 156.6L299 156.5L301 156.4L303 156.3L305 156.2L307 156.1L308 156L309 155.9L311 155.8L313 155.8L315 155.7L317 155.7L319 155.7L321 155.7L323 155.6L325 155.4L327 155.1L329 154.8L331 154.4L332.7 154L333 153.9L335 153.4L337 153.1L339 152.9L341 152.8L343 152.8L345 152.9L347 153L349 152.9L351 152.8L353 152.5L355 152.1L355.5 152L357 151.5L359 150.8L361 150.2L361.6 150L363 149.5L365 148.8L367 148.3L368.1 148L369 147.8L371 147.3L373 147L375 146.6L377 146.4L379 146.1L380.1 146L381 145.9L383 145.7L385 145.6L387 145.4L389 145.2L391 144.9L393 144.6L395 144.3L397 144L397.2 144L399 143.8L401 143.7L403 143.8L405 143.9L406.4 144L407 144.1L409 144.2L411 144.1L412.3 144L413 143.9L415 143.5L417 142.8L418.4 142L419 141.7L421 140.1L421.1 140L423 138L423 137.9L424.5 136L425 135.1L426.7 134L427 133.9L427.3 134L429 135.1L429.6 136L431 137.8L431.2 138L433 139.6L433.7 140L435 140.7L437 141.4L439 142L439.2 142L441 142.4L443 142.8L445 143.2L447 143.7L447.8 144L449 144.5L451 145.7L451.5 146L453 147.2L454 148L455 148.8L456.5 150L457 150.3L459 151.6L459.6 152L461 152.7L463 153.5L464.9 154L465 154L467 154.4L469 154.6L471 154.7L473 154.9L475 155.3L477 155.7L478.4 156L479 156.2L481 156.9L483 157.6L483.8 158L485 158.6L487 159.6L487.8 160L489 160.7L491 161.7L491.7 162L493 162.7L495 163.7L495.6 164L497 164.8L499 166L499 166L501 167.5L501.7 168L503 169L504.5 170L505 170.3L507 171.3L508.7 172L509 172.1L511 172.8L513 173.4L515 174L515.1 174L517 174.6L519 175.2L521 175.7L522.5 176L523 176.1L525 176.5L527 176.7L529 176.8L531 176.8L533 176.8L535 176.7L537 176.6L539 176.6L541 176.5L543 176.5L545 176.5L545 178L545 180L545 182L545 184L545 186L545 188L545 190L545 192L545 194L545 196L545 198L545 200L545 202L545 204L545 206L543 206L541 206L539 206L537 206L535 206L533 206L531 206L529 206L527 206L525 206L523 206L521 206L519 206L517 206L515 206L513 206L511 206L509 206L507 206L505 206L503 206L501 206L499 206L497 206L495 206L493 206L491 206L489 206L487 206L485 206L483 206L481 206L479 206L477 206L475 206L473 206L471 206L469 206L467 206L465 206L463 206L461 206L459 206L457 206L455 206L453 206L451 206L449 206L447 206L445 206L443 206L441 206L439 206L437 206L435 206L433 206L431 206L429 206L427 206L425 206L423 206L421 206L419 206L417 206L415 206L413 206L411 206L409 206L407 206L405 206L403 206L401 206L399 206L397 206L395 206L393 206L391 206L389 206L387 206L385 206L383 206L381 206L379 206L377 206L375 206L373 206L371 206L369 206L367 206L365 206L363 206L361 206L359 206L357 206L355 206L353 206L351 206L349 206L347 206L345 206L343 206L341 206L339 206L337 206L335 206L333 206L331 206L329 206L327 206L325 206L323 206L321 206L319 206L317 206L315 206L313 206L311 206L309 206L307 206L305 206L303 206L301 206L299 206L297 206L295 206L293 206L291 206L289 206L287 206L285 206L283 206L281 206L279 206L277 206L275 206L273 206L271 206L269 206L267 206L265 206L263 206L261 206L259 206L257 206L255 206L253 206L251 206L249 206L247 206L245 206L243 206L241 206L239 206L237 206L235 206L233 206L231 206L229 206L227 206L225 206L223 206L221 206L219 206L217 206L215 206L213 206L211 206L209 206L207 206L205 206L203 206L201 206L199 206L197 206L195 206L193 206L191 206L189 206L187 206L185 206L183 206L181 206L179 206L177 206L175 206L173 206L171 206L169 206L167 206L165 206L163 206L161 206L159 206L157 206L155 206L153 206L151 206L149 206L147 206L145 206L143 206L141 206L139 206L137 206L135 206L133 206L131 206L129 206L127 206L125 206L123 206L121 206L119 206L117 206L115 206L113 206L111 206L109 206L107 206L105 206L103 206L101 206L99 206L97 206L95 206L93 206L91 206L89 206L87 206L85 206L83 206L81 206L79 206L77 206L75 206L73 206L71 206L69 206L67 206L65 206L63 206L61 206L59 206L57 206L55 206L53 206L51 206L49 206L47 206L45 206L43 206L43 204L43 202L43 200L43 198L43 196L43 194L43 192L43 190L43 188L43 186L43 184L43 182L43 180L43 178L43 176L43 174L43 172L43 170L43 168L43 166L43 164L43 162L43 160L43 158L43 156L43 154L43 152L43 150L43 148L43 146L43 144L43 142.9L45 142.9L47 143L49 143L51 143.1L53 143.3L55 143.4L57 143.4L59 143.2L61 142.4L61.7 142L63 140.9L63.8 140L65 138.1L65 138L65.8 136L66.4 134L66.7 132L66.2 130L65 128.6L64.3 128L63 127.4L61 126.6L59.2 126L59 125.9L57 125.3L55 124.6L53.4 124L53 123.7L51 122.4L50.4 122L51 120.8L51.2 120L53 119L54.2 118L55 117.7L57 116.7Z"/>
<path fill="#ffac75" d="M258.4 16L259 16L261 16L263 16L265 16L267 16L269 16L271 16L273 16L275 16L277 16L279 16L281 16L283 16L285 16L287 16L289 16L291 16L293 16L295 16L297 16L299 16L301 16L303 16L305 16L307 16L309 16L311 16L313 16L315 16L317 16L319 16L321 16L323 16L325 16L327 16L329 16L331 16L333 16L335 16L337 16L339 16L341 16L343 16L345 16L347 16L349 16L351 16L353 16L355 16L357 16L359 16L361 16L363 16L365 16L367 16L369 16L371 16L373 16L375 16L377 16L379 16L381 16L383 16L385 16L387 16L389 16L391 16L393 16L395 16L397 16L399 16L401 16L403 16L405 16L407 16L409 16L411 16L412.4 16L411.2 18L411 18.1L409 19L407 19.7L405.8 20L405 20.1L403 20.3L401 20.4L399 20.4L397 20.2L395.3 20L395 19.9L393 19.3L391 18.8L389 18.7L387 19.2L385.3 20L385 20.1L383 20.9L381 21.8L380.7 22L379 22.6L377 23.2L375 23.8L374.3 24L373 24.3L371 24.7L369 25.1L367 25.5L365 26L365 26L363 26.4L361 26.9L359 27.3L357 27.7L355.8 28L355 28.1L353 28.5L351 28.8L349 29.2L347 29.5L345 29.8L344.1 30L343 30.2L341 30.5L339 30.9L337 31.3L335 31.7L333.6 32L333 32.1L331 32.5L329 32.9L327 33.3L325 33.6L323 33.9L322.5 34L321 34.2L319 34.4L317 34.7L315 34.9L313 35.2L311 35.4L309 35.7L307 36L306.9 36L305 36.3L303 36.6L301 36.9L299 37.3L297 37.7L295.5 38L295 38.1L293 38.6L291 39.1L289 39.7L288.1 40L287 40.4L285 41.2L283.2 42L283 42.1L281 43.3L279.9 44L279 44.6L277 45.8L276.6 46L275 46.8L273 47.6L271.3 48L271 48.1L269 48.4L267 48.5L265 48.5L263 48.5L261 48.3L259 48L259 48L257 47.6L255 47.1L253 46.4L251.9 46L251 45.7L249 45.1L247 44.4L245.6 44L245 43.8L243 43.3L241 42.7L239 42.1L238.7 42L237 41.4L235 40.7L233 40.1L232.5 40L231 39.5L229 39.2L227 39.2L225 39.5L223.3 40L223 40.1L221 40.7L219 41.6L217.9 42L217 42.3L215 42.8L213 43L211 42.9L209 42.4L208.1 42L207 41.5L205 40.2L204.8 40L203.2 38L203.2 36L204.9 34L205 34L207 33.1L209 32.5L211 32L211.4 32L213 31.9L215 31.8L217 31.9L218.2 32L219 32.1L221 32.5L223 32.8L225 33L227 33.2L229 33.2L231 33L233 32.7L235 32.3L236.2 32L237 31.9L239 31.5L241 31.1L243 30.6L244.8 30L245 30L247 29.3L249 28.5L250.1 28L251 27.5L253 26.3L253.5 26L255 24.6L255.6 24L257 22.1L257 22L257.9 20L258.3 18ZM529 84L529 83.9L529.2 84L530 86L529.8 88L529.5 90L529.1 92L529 92.3L528.4 94L527.9 96L527.4 98L527 99L526.5 100L525.8 102L525.1 104L525 104.3L524.2 106L523.4 108L523 109L522.4 110L521.6 112L521 113.3L520.5 114L519.5 116L519 117.2L517.9 118L517 119.6L516.6 118L516.6 116L517 114L517 113.9L517.5 112L518 110L518.5 108L519 106.6L519.2 106L519.8 104L520.2 102L520.9 100L521 99.9L521.6 98L522.2 96L523 94.9L523.4 94L524.4 92L525 91L525.6 90L526.6 88L527 87.3L528 86ZM64.3 118L65 117.8L67 117.3L69 117L71 117.1L73 117.4L74.4 118L75 118.5L76.4 120L76.8 122L75.6 124L75 124.4L73 124.6L71 124.3L70.2 124L69 123.6L67 122.9L65 122.1L64.6 122L63 120.5L62.5 120L63 119.4ZM76.1 130L77 129.4L79 129.2L81 129.6L82.4 130L83 130.2L85 130.9L87 131.8L87.3 132L89 133.4L89.7 134L90.7 136L91 137.8L91 138L91.2 140L91.2 142L91.2 144L91.1 146L91.1 148L91.3 150L91.7 152L92.3 154L93 155.7L93.1 156L94.1 158L95 159.8L95.1 160L96.1 162L96.9 164L97 164.3L97.8 166L98.7 168L99 168.8L99.7 170L101 172L101 172L102.5 174L103 175L104 176L104 178L103 178.5L101.4 180L101 180.3L99.4 182L99 182.5L98.3 184L97.9 186L98.1 188L98.8 190L99 190.3L101 191.9L103 191.7L105 190.6L105.8 190L107 188.8L107.7 188L109 186L109 186L109.4 184L109.1 182L109 181.7L108 180L107.2 178L109 176.3L109.3 176L111 175.2L113 174.1L113.2 174L115 173.2L117 172.3L117.6 172L119 171.5L121 170.8L123 170.2L123.9 170L125 169.8L127 169.4L129 169.1L131 168.8L133 168.5L135 168.2L135.9 168L137 167.8L139 167.4L141 167L143 166.5L144.5 166L145 165.9L147 165.4L149 165L151 164.6L153 164.2L154.6 164L155 164L157 163.8L159 163.6L161 163.3L163 163L165 162.5L166.3 162L167 161.8L169 160.9L170.4 160L171 159.6L173 158.2L173.3 158L175 156.8L176.5 156L177 155.7L179 155.2L181 155.1L183 155.3L185 155.5L187 155.8L188.4 156L189 156.1L191 156.4L193 156.6L195 156.9L197 157.3L199 157.7L200.1 158L201 158.3L203 159L205 160L205.1 160L207 161.3L208 162L209 162.8L210.6 164L211 164.4L213 165.8L213.4 166L215 166.9L217 167.7L217.8 168L219 168.4L221 168.9L223 169.4L225 169.7L227 169.9L228.7 170L229 170L231 170.1L233 170L234.6 170L235 170L237 169.9L239 169.9L241 169.8L243 169.7L245 169.6L247 169.5L249 169.4L251 169.3L253 169.2L255 169.1L257 169L259 168.8L261 168.6L263 168.4L265 168.2L266.6 168L267 167.9L269 167.7L271 167.4L273 167.2L275 167.1L277 167L279 167.1L281 167.2L283 167.3L285 167.3L287 167.2L289 166.9L291 166.6L293 166.2L293.8 166L295 165.8L297 165.4L299 165L301 164.7L303 164.4L305 164.1L306.1 164L307 163.9L309 163.6L311 163.4L313 163.2L315 163L317 162.8L319 162.6L321 162.4L323 162.3L325 162L325.4 162L327 161.8L329 161.6L331 161.3L333 161L335 160.7L337 160.6L339 160.4L341 160.4L343 160.4L345 160.4L347 160.4L349 160.5L351 160.4L353 160.4L355 160.3L357 160.2L359 160.1L360.9 160L361 160L363 159.9L365 159.7L367 159.6L369 159.5L371 159.3L373 159.2L375 159L377 158.7L379 158.4L381 158.1L381.6 158L383 157.7L385 157.4L387 157.1L389 157L391 156.9L393 157L395 157.1L397 157.2L399 157.3L401 157.3L403 157.2L405 157L407 156.8L409 156.6L411 156.4L413 156.1L413.7 156L415 155.8L417 155.5L419 155.1L421 154.7L423 154.3L424.9 154L425 154L427 153.7L429 153.5L431 153.3L433 153.3L435 153.4L437 153.7L438.3 154L439 154.1L441 154.7L443 155.5L444.2 156L445 156.3L447 157.2L448.6 158L449 158.2L451 159.1L452.6 160L453 160.2L455 161.3L456.2 162L457 162.4L459 163.5L460.2 164L461 164.3L463 165L465 165.6L466.6 166L467 166.1L469 166.5L471 166.9L473 167.3L475 167.8L475.6 168L477 168.4L479 169.1L481 170L481.1 170L483 171L484.7 172L485 172.2L487 173.4L487.8 174L489 174.7L490.9 176L491 176L493 177.2L494.3 178L495 178.4L497 179.4L498.2 180L499 180.4L501 181.2L502.8 182L503 182.1L505 182.8L507 183.5L508.1 184L509 184.3L511 185L513 185.9L513.3 186L515 186.5L517 187.1L519 187.6L520.7 188L521 188.1L523 188.4L525 188.6L527 188.7L529 188.8L531 188.8L533 188.8L535 188.7L537 188.7L539 188.6L541 188.6L543 188.6L545 188.6L545 190L545 192L545 194L545 196L545 198L545 200L545 202L545 204L545 206L543 206L541 206L539 206L537 206L535 206L533 206L531 206L529 206L527 206L525 206L523 206L521 206L519 206L517 206L515 206L513 206L511 206L509 206L507 206L505 206L503 206L501 206L499 206L497 206L495 206L493 206L491 206L489 206L487 206L485 206L483 206L481 206L479 206L477 206L475 206L473 206L471 206L469 206L467 206L465 206L463 206L461 206L459 206L457 206L455 206L453 206L451 206L449 206L447 206L445 206L443 206L441 206L439 206L437 206L435 206L433 206L431 206L429 206L427 206L425 206L423 206L421 206L419 206L417 206L415 206L413 206L411 206L409 206L407 206L405 206L403 206L401 206L399 206L397 206L395 206L393 206L391 206L389 206L387 206L385 206L383 206L381 206L379 206L377 206L375 206L373 206L371 206L369 206L367 206L365 206L363 206L361 206L359 206L357 206L355 206L353 206L351 206L349 206L347 206L345 206L343 206L341 206L339 206L337 206L335 206L333 206L331 206L329 206L327 206L325 206L323 206L321 206L319 206L317 206L315 206L313 206L311 206L309 206L307 206L305 206L303 206L301 206L299 206L297 206L295 206L293 206L291 206L289 206L287 206L285 206L283 206L281 206L279 206L277 206L275 206L273 206L271 206L269 206L267 206L265 206L263 206L261 206L259 206L257 206L255 206L253 206L251 206L249 206L247 206L245 206L243 206L241 206L239 206L237 206L235 206L233 206L231 206L229 206L227 206L225 206L223 206L221 206L219 206L217 206L215 206L213 206L211 206L209 206L207 206L205 206L203 206L201 206L199 206L197 206L195 206L193 206L191 206L189 206L187 206L185 206L183 206L181 206L179 206L177 206L175 206L173 206L171 206L169 206L167 206L165 206L163 206L161 206L159 206L157 206L155 206L153 206L151 206L149 206L147 206L145 206L143 206L141 206L139 206L137 206L135 206L133 206L131 206L129 206L127 206L125 206L123 206L121 206L119 206L117 206L115 206L113 206L111 206L109 206L107 206L105 206L103 206L101 206L99 206L97 206L95 206L93 206L91 206L89 206L87 206L85 206L83 206L81 206L79 206L77 206L75 206L73 206L71 206L69 206L67 206L65 206L63 206L61 206L59 206L57 206L55 206L53 206L51 206L49 206L47 206L45 206L43 206L43 204L43 202L43 200L43 198L43 196L43 194L43 192L43 190L43 188L43 186L43 184L43 182L43 180L43 178L43 176L43 174L43 172L43 170L43 168L43 166L43 164L43 162L43 160L43 158L43 156L43 154L43 152L43 150L43 148L43 147.4L45 147.4L47 147.4L49 147.4L51 147.3L53 147.3L55 147.3L57 147.2L59 147L61 146.5L62.2 146L63 145.6L65 144.2L65.2 144L66.8 142L67 141.7L67.9 140L69 138L69 138L70.1 136L71 134.6L71.5 134L73 132.2L73.3 132L75 130.5Z"/>
<path fill="#ff7856" d="M263.7 16L265 16L267 16L269 16L271 16L273 16L275 16L277 16L279 16L281 16L283 16L285 16L287 16L289 16L291 16L293 16L295 16L297 16L299 16L301 16L303 16L305 16L307 16L309 16L311 16L313 16L315 16L317 16L319 16L321 16L323 16L325 16L327 16L329 16L331 16L333 16L335 16L337 16L339 16L341 16L343 16L345 16L347 16L349 16L351 16L353 16L355 16L357 16L359 16L361 16L360.6 18L359.4 20L359 20.4L357.2 22L357 22.1L355 23.2L353.3 24L353 24.1L351 24.7L349 25.3L347 25.8L346.2 26L345 26.2L343 26.6L341 27L339 27.5L337 27.9L336.8 28L335 28.4L333 28.8L331 29.3L329 29.8L327.9 30L327 30.2L325 30.6L323 31L321 31.3L319 31.7L317.1 32L317 32L315 32.3L313 32.6L311 32.9L309 33.2L307 33.5L305 33.8L303.5 34L303 34.1L301 34.3L299 34.6L297 34.9L295 35.2L293 35.6L291 35.9L290.1 36L289 36.2L287 36.4L285 36.7L283 36.9L281 37.2L279 37.6L277.4 38L277 38.1L275 39L273 40L273 40L271 40.9L269 41.5L267 41.9L266.1 42L265 42.1L263 42.1L262.4 42L261 41.9L259 41.6L257 41.1L255 40.5L253.1 40L253 39.9L251 39.2L249 38.5L247.5 38L247 37.5L245.6 36L247 35L248 34L249 33.6L251 32.4L251.6 32L253 31.3L255 30.1L255.1 30L257 28.9L258.2 28L259 27.4L260.6 26L261 25.5L262.1 24L262.9 22L263 21.8L263.4 20L263.6 18ZM212.6 34L213 34L215 33.9L215.7 34L217 34.3L219 35.2L220.2 36L219.4 38L219 38.3L217 39.4L215.5 40L215 40.1L213 40.3L211 40.1L210.8 40L209 39L207.9 38L208 36L209 35.3L211 34.4ZM528.9 86L529 85.8L529.1 86L529.2 88L529 89.5L528.8 90L527.9 92L527.6 94L527.3 96L527 96.9L526.2 98L525.7 100L525.2 102L525 102.5L523.9 104L523.5 106L523 107.4L522.4 108L521.6 110L521 111.7L520.5 112L519.4 114L519 115L518.5 114L518.5 112L518.9 110L519 109.7L519.8 108L520.2 106L520.6 104L521 102.8L521.6 102L522.1 100L522.6 98L523 97.1L523.8 96L524.3 94L525 92.6L525.6 92L526.4 90L527 88.7L528 88ZM73.5 138L75 136.9L77 136.2L79 136.3L81 137.3L81.7 138L82.9 140L83 140.3L83.6 142L84 144L84.3 146L84.6 148L84.9 150L85 150.5L85.3 152L85.9 154L86.6 156L87 156.9L87.4 158L88.2 160L88.9 162L89 162.7L89.3 164L89.5 166L89.5 168L89.2 170L89 170.8L88.8 172L88.3 174L87.9 176L87.6 178L87.3 180L87.2 182L87.3 184L87.6 186L88.1 188L88.9 190L89 190.3L89.8 192L90.8 194L91 194.5L91.6 196L92.3 198L92.8 200L93 201L93.2 202L93.4 204L93.4 206L93 206L91 206L89 206L87 206L85 206L83 206L81 206L79 206L77 206L75 206L73 206L71 206L69 206L67 206L65 206L63 206L61 206L59 206L57 206L55 206L53 206L51 206L49 206L47 206L45 206L43 206L43 204L43 202L43 200L43 198L43 196L43 194L43 192L43 190L43 188L43 186L43 184L43 182L43 180L43 178L43 176L43 174L43 172L43 170L43 168L43 166L43 164L43 162L43 160L43 158L43 156L43 154L43 152L43 151.3L45 151.3L47 151.3L49 151.2L51 151.1L53 151L55 150.9L57 150.7L59 150.4L61 150L61 150L63 149.3L65 148.3L65.5 148L67 146.8L67.8 146L69 144.4L69.3 144L70.5 142L71 141.1L71.8 140L73 138.4ZM180.5 162L181 161.9L183 161.7L185 161.6L187 161.7L189 162L189.1 162L191 162.5L193 163.1L195 164L195 164L197 165.7L197.3 166L198.3 168L198.4 170L198.2 172L199 174L199 174L201 175.5L201.8 176L203 176.5L205 177.3L206.8 178L207 178.1L209 178.8L211 179.5L212.4 180L213 180.2L215 180.9L217 181.6L218.1 182L219 182.2L221 182.7L223 183.1L225 183.4L227 183.6L229 183.7L231 183.7L233 183.3L235 182.5L235.7 182L237 181L238 180L239 179.4L241 178.2L241.3 178L243 177.4L245 176.8L247 176.3L248.8 176L249 176L251 175.8L253 175.7L255 175.6L257 175.6L259 175.6L261 175.7L263 175.6L265 175.6L267 175.6L269 175.5L271 175.5L273 175.5L275 175.5L277 175.6L279 175.7L281 175.9L283 175.9L285 175.9L287 175.6L289 175.1L291 174.5L292.1 174L293 173.6L295 172.8L297 172L297 172L299 171.4L301 170.9L303 170.6L305 170.3L307 170.1L308.1 170L309 169.9L311 169.7L313 169.6L315 169.4L317 169.2L319 169L321 168.8L323 168.6L325 168.4L327 168.1L327.5 168L329 167.8L331 167.5L333 167.2L335 167L337 166.8L339 166.6L341 166.6L343 166.6L345 166.6L347 166.6L349 166.7L351 166.7L353 166.7L355 166.7L357 166.8L359 166.8L361 166.8L363 166.8L365 166.8L367 166.8L369 166.8L371 166.9L373 166.9L375 166.9L377 167L379 167.1L381 167.2L383 167.3L385 167.4L387 167.5L389 167.6L391 167.6L393 167.6L395 167.6L397 167.5L399 167.5L401 167.4L403 167.2L405 167.1L407 166.9L409 166.7L411 166.4L413 166L413 166L415 165.6L417 165.2L419 164.7L421 164.4L423 164.1L423.7 164L425 163.8L427 163.6L429 163.5L431 163.4L433 163.4L435 163.5L437 163.8L438.3 164L439 164.1L441 164.6L443 165.1L445 165.8L445.5 166L447 166.6L449 167.4L450.6 168L451 168.2L453 169L455 169.8L455.6 170L457 170.5L459 171.1L461 171.8L461.8 172L463 172.4L465 173.1L467 173.8L467.5 174L469 174.7L471 175.7L471.6 176L473 176.8L474.9 178L475 178.1L477 179.3L478.1 180L479 180.5L481 181.7L481.5 182L483 182.8L485 183.8L485.4 184L487 184.8L489 185.8L489.5 186L491 186.7L493 187.7L493.6 188L495 188.6L497 189.5L498.2 190L499 190.3L501 190.9L503 191.6L504.6 192L505 192.1L507 192.6L509 193L511 193.5L513 193.9L513.4 194L515 194.4L517 194.9L519 195.3L521 195.8L521.9 196L523 196.3L525 196.7L527 196.9L529 197.1L531 197.1L533 197L535 196.9L537 196.8L539 196.8L541 196.7L543 196.7L545 196.7L545 198L545 200L545 202L545 204L545 206L543 206L541 206L539 206L537 206L535 206L533 206L531 206L529 206L527 206L525 206L523 206L521 206L519 206L517 206L515 206L513 206L511 206L509 206L507 206L505 206L503 206L501 206L499 206L497 206L495 206L493 206L491 206L489 206L487 206L485 206L483 206L481 206L479 206L477 206L475 206L473 206L471 206L469 206L467 206L465 206L463 206L461 206L459 206L457 206L455 206L453 206L451 206L449 206L447 206L445 206L443 206L441 206L439 206L437 206L435 206L433 206L431 206L429 206L427 206L425 206L423 206L421 206L419 206L417 206L415 206L413 206L411 206L409 206L407 206L405 206L403 206L401 206L399 206L397 206L395 206L393 206L391 206L389 206L387 206L385 206L383 206L381 206L379 206L377 206L375 206L373 206L371 206L369 206L367 206L365 206L363 206L361 206L359 206L357 206L355 206L353 206L351 206L349 206L347 206L345 206L343 206L341 206L339 206L337 206L335 206L333 206L331 206L329 206L327 206L325 206L323 206L321 206L319 206L317 206L315 206L313 206L311 206L309 206L307 206L305 206L303 206L301 206L299 206L297 206L295 206L293 206L291 206L289 206L287 206L285 206L283 206L281 206L279 206L277 206L275 206L273 206L271 206L269 206L267 206L265 206L263 206L261 206L259 206L257 206L255 206L253 206L251 206L249 206L247 206L245 206L243 206L241 206L239 206L237 206L235 206L233 206L231 206L229 206L227 206L225 206L223 206L221 206L219 206L217 206L215 206L213 206L211 206L209 206L207 206L205 206L203 206L201 206L199 206L197 206L195 206L193 206L191 206L189 206L187 206L185 206L183 206L181 206L179 206L177 206L175 206L173 206L171 206L169 206L167 206L165 206L163 206L161 206L159 206L157 206L155 206L153 206L151 206L149 206L147 206L145 206L143 206L141 206L139 206L137 206L135 206L133 206L131 206L129 206L127 206L125 206L123 206L121 206L119 206L117 206L115 206L113 206L111 206L109 206L107.7 206L107.8 204L108.1 202L108.8 200L109 199.5L109.8 198L111 196.4L111.3 196L113 194.2L113.2 194L115 192.1L115.1 192L116.7 190L117 189.5L117.9 188L118.8 186L119 185.3L119.5 184L120.1 182L120.9 180L121 179.8L122.3 178L123 177.4L125 176L125.1 176L127 175.2L129 174.5L131 174L131.2 174L133 173.7L135 173.3L137 172.9L139 172.5L141 172L141 172L143 171.5L145 171L147 170.4L148.2 170L149 169.8L151 169.4L153 169L155 168.7L157 168.4L159 168.2L161 168L161 168L163 167.8L165 167.6L167 167.3L169 166.9L171 166.3L171.7 166L173 165.5L175 164.5L175.8 164L177 163.4L179 162.5Z"/>
<path fill="#ff3d3d" d="M268.9 16L269 16L271 16L273 16L275 16L277 16L279 16L281 16L283 16L285 16L287 16L289 16L291 16L293 16L295 16L297 16L299 16L301 16L303 16L305 16L307 16L309 16L311 16L313 16L315 16L317 16L319 16L321 16L323 16L325 16L327 16L329 16L331 16L333 16L335 16L337 16L339 16L341 16L343 16L345 16L347 16L348.5 16L347.8 18L347 18.8L345.6 20L345 20.3L343 21.2L341.1 22L341 22L339 22.7L337 23.4L335.4 24L335 24.1L333 24.7L331 25.4L329 26L329 26L327 26.5L325 27L323 27.5L321 27.9L320.6 28L319 28.3L317 28.7L315 29L313 29.4L311 29.8L309.6 30L309 30.1L307 30.4L305 30.6L303 30.9L301 31.2L299 31.4L297 31.6L295 31.8L293 32L293 32L291 32.1L289 32.1L287 32.1L285.3 32L285 32L283 31.7L281 31.4L279 31.1L277 30.7L275 30.3L273.3 30L273 29.9L271 29.2L269.8 28L269.2 26L269 24L269 23.2L269 22L268.9 20L268.9 18ZM73.1 146L75 144.3L77 144L78.4 146L79 147.6L79.1 148L79.5 150L80.1 152L80.7 154L81 154.9L81.4 156L82 158L82.7 160L83 161.3L83.2 162L83.4 164L83.4 166L83.1 168L83 168.6L82.7 170L82.1 172L81.6 174L81.1 176L81 176.4L80.7 178L80.3 180L80.1 182L80 184L80.1 186L80.5 188L81 189.4L81.2 190L82 192L83 193.8L83.1 194L84.1 196L84.9 198L85 198.2L85.6 200L86 202L86.2 204L86.3 206L85 206L83 206L81 206L79 206L77 206L75 206L73 206L71 206L69 206L67 206L65 206L63 206L61 206L59 206L57 206L55 206L53 206L51 206L49 206L47 206L45 206L43 206L43 204L43 202L43 200L43 198L43 196L43 194L43 192L43 190L43 188L43 186L43 184L43 182L43 180L43 178L43 176L43 174L43 172L43 170L43 168L43 166L43 164L43 162L43 160L43 158L43 156L43 155.5L45 155.5L47 155.4L49 155.3L51 155.2L53 155L55 154.8L57 154.5L59 154.2L60 154L61 153.8L63 153.3L65 152.6L66.2 152L67 151.6L69 150.2L69.3 150L71 148.3L71.4 148L73 146.1ZM420.5 172L421 171.8L423 171.4L425 171.1L427 170.9L429 170.9L431 171.1L433 171.4L435 171.8L435.8 172L437 172.3L439 172.9L441 173.5L442.6 174L443 174.1L445 174.8L447 175.5L448.6 176L449 176.1L451 176.7L453 177.3L455 177.9L455.4 178L457 178.5L459 179.1L461 179.9L461.2 180L463 180.9L465 182L465 182L467 183.3L468.1 184L469 184.6L471 185.9L471.1 186L473 187.1L474.8 188L475 188.1L477 189L479 189.9L479.2 190L481 190.7L483 191.5L484.3 192L485 192.3L487 193.1L489 193.8L489.4 194L491 194.7L493 195.5L494.4 196L495 196.3L497 197.1L499 197.8L499.5 198L501 198.6L503 199.4L504.6 200L505 200.2L507 201.2L508.7 202L509 202.3L510.8 204L511 204.6L511.4 206L511 206L509 206L507 206L505 206L503 206L501 206L499 206L497 206L495 206L493 206L491 206L489 206L487 206L485 206L483 206L481 206L479 206L477 206L475 206L473 206L471 206L469 206L467 206L465 206L463 206L461 206L459 206L457 206L455 206L453 206L451 206L449 206L447 206L445 206L443 206L441 206L439 206L437 206L435 206L433 206L431 206L429 206L427 206L425 206L423 206L421 206L419 206L417 206L415 206L413 206L411 206L409 206L407 206L405 206L403 206L401 206L399 206L397 206L395 206L393 206L391 206L389 206L387 206L385 206L383 206L381 206L379 206L377 206L375 206L373 206L371 206L369 206L367 206L365 206L363 206L361 206L359 206L357 206L355 206L353 206L351 206L349 206L347 206L345 206L343 206L341 206L339 206L337 206L335 206L333 206L331 206L329 206L327 206L325 206L323 206L321 206L319 206L317 206L315 206L313 206L311 206L309 206L307 206L305 206L303 206L301 206L299 206L297 206L295 206L293 206L291 206L289 206L287 206L285 206L283 206L281 206L279 206L277 206L275 206L273 206L271 206L269 206L267 206L265 206L263 206L261 206L259 206L257 206L255 206L253 206L251 206L249 206L247 206L245 206L243 206L241 206L239 206L237 206L235 206L233 206L231 206L229 206L227 206L225 206L223 206L221 206L219 206L217 206L215 206L213 206L211 206L209 206L207 206L205 206L203 206L201 206L199 206L197 206L195 206L193 206L191 206L189 206L187 206L185 206L183 206L181 206L179 206L177 206L175 206L173 206L171 206L169 206L167 206L165 206L163 206L161 206L159 206L157 206L155 206L153 206L151 206L149 206L147 206L145 206L143 206L141 206L139 206L137 206L135 206L133 206L131 206L129 206L127 206L125 206L123 206L121 206L119 206L117 206L116.3 206L116.4 204L116.9 202L117 201.8L117.8 200L119 198L119 197.9L120.4 196L121 195.2L121.9 194L123 192.5L123.3 192L124.7 190L125 189.5L126.1 188L127 186.7L127.6 186L129 184.4L129.5 184L131 182.9L132.8 182L133 181.9L135 181.2L137 180.6L139 180L139.2 180L141 179.6L143 179.3L145 179L147 178.7L149 178.5L151 178.4L153 178.2L155 178.2L157 178.2L159 178.3L161 178.4L163 178.7L165 179L167 179.4L169 179.9L169.4 180L171 180.4L173 180.9L175 181.4L177 181.8L177.8 182L179 182.2L181 182.6L183 183L185 183.4L187 183.9L187.5 184L189 184.4L191 185L193 185.6L194.1 186L195 186.3L197 187.1L199 187.9L199.1 188L201 188.8L203 189.6L204 190L205 190.4L207 191.1L209 191.7L209.9 192L211 192.3L213 192.8L215 193.2L217 193.6L219 194L219.2 194L221 194.3L223 194.7L225 194.9L227 195.2L229 195.3L231 195.5L233 195.5L235 195.4L237 195.2L239 194.8L241 194.3L241.7 194L243 193.5L245 192.5L245.9 192L247 191.3L248.8 190L249 189.9L251 188.4L251.6 188L253 187.1L255 186L255.1 186L257 185.2L259 184.6L261 184.1L261.6 184L263 183.7L265 183.4L267 183.1L269 182.9L271 182.7L273 182.5L275 182.5L277 182.4L279 182.5L281 182.6L283 182.6L285 182.6L287 182.4L289 182.1L289.7 182L291 181.7L293 181.1L295 180.3L295.8 180L297 179.5L299 178.7L301 178L301.1 178L303 177.5L305 177.2L307 177L309 176.8L311 176.7L313 176.5L315 176.2L317 176L317 176L319 175.8L321 175.5L323 175.3L325 175L327 174.7L329 174.4L331 174.1L331.4 174L333 173.8L335 173.5L337 173.3L339 173.1L341 173L343 173L345 173.1L347 173.1L349 173.1L351 173.2L353 173.2L355 173.2L357 173.2L359 173.2L361 173.2L363 173.2L365 173.2L367 173.2L369 173.2L371 173.2L373 173.2L375 173.3L377 173.5L379 173.7L381 174L381.2 174L383 174.3L385 174.6L387 174.8L389 175L391 175L393 175L395 175L397 174.9L399 174.9L401 174.9L403 175L405 175.1L407 175.2L409 175.2L411 175L413 174.6L415 174L415 174L417 173.3L419 172.5Z"/>
<path fill="#f72735" d="M275 16L277 16L279 16L281 16L283 16L285 16L287 16L289 16L291 16L293 16L295 16L297 16L299 16L301 16L303 16L305 16L307 16L309 16L311 16L313 16L315 16L317 16L319 16L321 16L323 16L325 16L327 16L329 16L329.9 16L329.3 18L329 18.3L327.4 20L327 20.2L325 21.3L323.5 22L323 22.2L321 22.8L319 23.4L317 24L317 24L315 24.4L313 24.8L311 25.2L309 25.6L307 26L306.7 26L305 26.2L303 26.5L301 26.7L299 26.9L297 27.1L295 27.2L293 27.3L291 27.3L289 27.2L287 26.9L285 26.6L283 26.1L282.8 26L281 25.3L279 24.3L278.5 24L277 22.6L276.6 22L275.6 20L275.2 18ZM62.5 158L63 157.9L65 157.5L67 157.1L69 156.6L71 156.2L73 156.3L75 157.6L75.3 158L76.6 160L77 161L77.3 162L77.5 164L77.5 166L77.1 168L77 168.3L76.3 170L75.4 172L75 173L74.4 174L73.5 176L73 177L72.5 178L71.6 180L71 181.5L70.8 182L70.3 184L70.1 186L70.4 188L71 189.7L71.1 190L72.1 192L73 193.3L73.4 194L74.7 196L75 196.6L75.7 198L76.5 200L77 201.9L77 202L77.3 204L77.4 206L77 206L75 206L73 206L71 206L69 206L67 206L65 206L63 206L61 206L59 206L57 206L55 206L53 206L51 206L49 206L47 206L45 206L43 206L43 204L43 202L43 200L43 198L43 196L43 194L43 192L43 190L43 188L43 186L43 184L43 182L43 180L43 178L43 176L43 174L43 172L43 170L43 168L43 166L43 164L43 162L43 160.3L45 160.3L47 160.2L49 160.1L49.8 160L51 159.9L53 159.7L55 159.4L57 159L59 158.7L61 158.3ZM325.9 182L327 181.8L329 181.6L331 181.5L333 181.4L335 181.3L337 181.2L339 181.2L341 181.1L343 181.1L345 181.1L347 181.2L349 181.2L351 181.2L353 181.2L355 181.2L357 181.2L359 181.2L361 181.2L363 181.1L365 181.1L367 181L369 180.9L371 180.9L373 181L375 181.1L377 181.4L379 181.8L380 182L381 182.2L383 182.7L385 183.2L387 183.7L388.5 184L389 184.1L391 184.5L393 184.9L395 185.3L397 185.7L398.9 186L399 186L401 186.2L403 186.4L405 186.5L407 186.6L409 186.5L411 186.4L413 186.1L413.3 186L415 185.6L417 184.9L418.9 184L419 183.9L421 182.8L422.5 182L423 181.8L425 181L427 180.7L429 180.7L431 181L433 181.5L435 182L435.1 182L437 182.5L439 183L441 183.5L442.8 184L443 184L445 184.6L447 185.2L449 185.8L449.5 186L451 186.6L453 187.4L454.2 188L455 188.4L457 189.5L457.9 190L459 190.7L461 191.8L461.4 192L463 192.9L465 193.9L465.3 194L467 194.8L469 195.6L470.2 196L471 196.3L473 197.1L475 197.9L475.3 198L477 198.9L479 200L479 200L481 201.8L481.2 202L482.4 204L482.8 206L481 206L479 206L477 206L475 206L473 206L471 206L469 206L467 206L465 206L463 206L461 206L459 206L457 206L455 206L453 206L451 206L449 206L447 206L445 206L443 206L441 206L439 206L437 206L435 206L433 206L431 206L429 206L427 206L425 206L423 206L421 206L419 206L417 206L415 206L413 206L411 206L409 206L407 206L405 206L403 206L401 206L399 206L397 206L395 206L393 206L391 206L389 206L387 206L385 206L383 206L381 206L379 206L377 206L375 206L373 206L371 206L369 206L367 206L365 206L363 206L361 206L359 206L357 206L355 206L353 206L351 206L349 206L347 206L345 206L343 206L341 206L339 206L337 206L335 206L333 206L331 206L329 206L327 206L325 206L323 206L321 206L319 206L317 206L315 206L313 206L311 206L309 206L307 206L305 206L303 206L301 206L299 206L297 206L295 206L293 206L291 206L290.3 206L290.4 204L290.5 202L290.7 200L291 198L291 198L291.5 196L292.4 194L293 193.3L294.3 192L295 191.6L297 190.5L298.3 190L299 189.8L301 189.2L303 188.7L305 188.2L306.2 188L307 187.8L309 187.4L311 186.8L313 186.1L313.2 186L315 185.3L317 184.5L318.2 184L319 183.7L321 183.1L323 182.6L325 182.1ZM147.1 192L149 191.6L151 191.1L153 190.8L155 190.5L157 190.4L159 190.5L161 190.8L163 191.3L165 191.8L165.6 192L167 192.6L169 193.5L170.5 194L171 194.2L173 194.8L175 195.2L177 195.5L179 195.7L181 195.8L183 196L183.3 196L185 196.3L187 196.8L189 197.4L190.7 198L191 198.1L193 199.2L194.4 200L195 200.4L197 201.9L197.1 202L198.7 204L199 204.9L199.3 206L199 206L197 206L195 206L193 206L191 206L189 206L187 206L185 206L183 206L181 206L179 206L177 206L175 206L173 206L171 206L169 206L167 206L165 206L163 206L161 206L159 206L157 206L155 206L153 206L151 206L149 206L147 206L145 206L143 206L141 206L139 206L137 206L135 206L133 206L131.7 206L131.9 204L132.4 202L133 200.8L133.4 200L135 198.1L135.1 198L137 196.4L137.6 196L139 195.2L141 194.1L141.3 194L143 193.4L145 192.7L147 192Z"/>
<path fill="#d8152f" d="M327.1 194L329 193.4L331 193L333 192.8L335 192.7L337 192.7L339 192.6L341 192.6L343 192.6L345 192.6L347 192.6L349 192.6L351 192.7L353 192.7L355 192.7L357 192.7L359 192.7L361 192.7L363 192.6L365 192.6L367 192.6L369 192.5L371 192.5L373 192.6L375 192.7L377 192.9L379 193.1L381 193.4L383 193.6L385 193.9L385.9 194L387 194.1L389 194.4L391 194.6L393 194.7L395 194.9L397 195.1L399 195.2L401 195.4L403 195.7L405 195.9L405.4 196L407 196.3L409 196.7L411 197.2L413 197.8L413.8 198L415 198.5L417 199.6L417.8 200L419 201.2L419.8 202L420.8 204L421 205.5L421.1 206L421 206L419 206L417 206L415 206L413 206L411 206L409 206L407 206L405 206L403 206L401 206L399 206L397 206L395 206L393 206L391 206L389 206L387 206L385 206L383 206L381 206L379 206L377 206L375 206L373 206L371 206L369 206L367 206L365 206L363 206L361 206L359 206L357 206L355 206L353 206L351 206L349 206L347 206L345 206L343 206L341 206L339 206L337 206L335 206L333 206L331 206L329 206L327 206L325 206L323 206L321 206L319 206L317 206L316.7 206L317 205L317.2 204L318.4 202L319 201.4L320.2 200L321 199.2L322.1 198L323 197.1L324.2 196L325 195.4L327 194.1Z"/>
<rect x="44" y="29" width="1.5" height="31" fill="#fff"/>
<rect x="44" y="132.5" width="1.6" height="73" fill="#fff"/>
<rect x="540.5" y="60" width="4" height="22" fill="#fff"/>
<polygon points="500,17 503.3,22.6 507.2,27.3 510.6,29.3 514.5,28 511,21.5 508,17" fill="#f2ffff"/>
<polygon points="44,17 63.2,17 67.1,20.5 69.4,23.6 73.3,29 77.2,33.7 79.5,36 76.4,35.2 71,31.4 66.3,28.3 61.7,25.9 58.6,25.2 55.5,27.5 53.2,30.6 49.3,28.3 46.2,26.7 44,26" fill="#a9a9a9" stroke="#303030" stroke-width="0.5" stroke-linejoin="round"/>
<polygon points="44,60 46.2,60 46.5,56 48.5,52 50.8,45 51.6,40 52.4,36.8 53.9,41.4 56.3,46.1 59.4,49.9 61.7,54.6 63.2,58.5 65.6,61.6 68.7,65.4 73.3,70.1 77.2,75.5 81,79.6 84.9,84.3 88,90.5 89.6,96.7 88.8,102.9 86.5,109.1 83.4,114.5 81,119.9 78.7,124.6 77.2,129.2 75,132 71.4,133.3 67.9,135.1 65.2,137.3 61.7,135.1 59.5,133.3 58.2,134.2 55.9,136.8 53.7,135.5 49.3,134.2 45.3,132 44,131.5" fill="#a9a9a9" stroke="#303030" stroke-width="0.5" stroke-linejoin="round"/>
<polygon points="59.9,144.4 61.7,144.8 64.4,146.1 67,146.1 69.2,144.8 71.4,144.4 71.9,147 71,150.1 69.7,152.3 67.9,154.1 65.7,155.4 63.9,154.5 62.6,152.3 61.3,149.2 60.4,146.6" fill="#a9a9a9" stroke="#303030" stroke-width="0.5" stroke-linejoin="round"/>
<polygon points="153.2,120 155.8,122 158.5,123.3 160.5,126.6 161.8,129.3 163.8,128.6 165.8,131.9 168.5,133.2 171.1,131.2 173.1,132.6 171.8,135.9 169.1,138.6 166.5,140.5 165.1,143.9 163.1,146.5 161.2,147.2 159.8,144.5 160.5,141.9 158.5,139.9 157.2,137.9 159.2,135.9 159.8,133.2 158.5,129.9 156.5,126.6 154.5,123.3" fill="#a9a9a9" stroke="#303030" stroke-width="0.5" stroke-linejoin="round"/>
<polygon points="151.9,143.9 154.5,145.2 157.2,145.2 159.2,147.2 157.8,149.8 155.8,152.5 153.2,155.1 151.2,157.8 148.5,160.5 146.6,163.1 143.9,165.1 141.2,166.4 137.9,167.1 134.6,166.4 132.6,165.1 133.3,162.4 135.9,159.8 139.2,157.1 142.6,155.1 145.9,152.5 148.5,149.8 150.5,147.2" fill="#a9a9a9" stroke="#303030" stroke-width="0.5" stroke-linejoin="round"/>
<polygon points="507.9,17 510.6,21.3 513.9,26.6 515.9,31.9 519.2,37.9 523.2,43.9 525.8,49.2 529.8,53.2 534.5,55.8 539.1,58.5 543.1,60.4 544.5,62.4 544.5,17" fill="#a9a9a9" stroke="#303030" stroke-width="0.5" stroke-linejoin="round"/>
<polygon points="544.5,81.5 542.8,81.5 542.5,90 541.8,97 541,105 540,115 538,122 535,125 533.5,132.3 532.3,139.5 531.4,146.8 529.6,154 528.1,161.3 526.3,168.6 525.6,175.8 526.3,183.1 528.1,190.3 530.5,197.6 535.9,203 540.4,205 544.5,205" fill="#a9a9a9" stroke="#303030" stroke-width="0.5" stroke-linejoin="round"/>
<ellipse cx="77.2" cy="19" rx="3.2" ry="2" transform="rotate(-10 77.2 19)" fill="#a9a9a9" stroke="#303030" stroke-width="0.5"/>
<ellipse cx="94.2" cy="20.8" rx="3.5" ry="0.9" transform="rotate(35 94.2 20.8)" fill="#a9a9a9" stroke="#303030" stroke-width="0.5"/>
<ellipse cx="111" cy="31" rx="1.8" ry="1.1" transform="rotate(-10 111 31)" fill="#a9a9a9" stroke="#303030" stroke-width="0.5"/>
<ellipse cx="129.6" cy="72.4" rx="5.2" ry="1.2" transform="rotate(35 129.6 72.4)" fill="#a9a9a9" stroke="#303030" stroke-width="0.5"/>
<ellipse cx="170" cy="60" rx="1.6" ry="1.2" transform="rotate(0 170 60)" fill="#a9a9a9" stroke="#303030" stroke-width="0.5"/>
<ellipse cx="173.5" cy="57.8" rx="1.2" ry="0.8" transform="rotate(0 173.5 57.8)" fill="#a9a9a9" stroke="#303030" stroke-width="0.5"/>
<line x1="97.4" y1="21.6" x2="101" y2="23.8" stroke="#222" stroke-width="0.8"/>
<line x1="105.4" y1="25.2" x2="109.8" y2="28.1" stroke="#222" stroke-width="0.8"/>
<line x1="113.5" y1="29.6" x2="116.4" y2="34" stroke="#222" stroke-width="0.8"/>
<line x1="132" y1="49.5" x2="134.2" y2="53.5" stroke="#222" stroke-width="0.8"/>
<line x1="131.5" y1="53" x2="135" y2="50.5" stroke="#222" stroke-width="0.8"/>
<line x1="174" y1="54" x2="177" y2="56.5" stroke="#222" stroke-width="0.8"/>
<line x1="174.5" y1="56.8" x2="177" y2="53.5" stroke="#222" stroke-width="0.8"/>
<ellipse cx="534.2" cy="150" rx="1.6" ry="2.2" fill="#e6f4f7" stroke="#333" stroke-width="0.5"/>
<ellipse cx="530.5" cy="159.5" rx="1" ry="1.8" fill="#e6f4f7" stroke="#333" stroke-width="0.5"/>
<ellipse cx="528.6" cy="171.3" rx="1.7" ry="2.4" fill="#e6f4f7" stroke="#333" stroke-width="0.5"/>
<ellipse cx="529.1" cy="185.7" rx="1.3" ry="2.4" fill="#e6f4f7" stroke="#333" stroke-width="0.5"/>
<ellipse cx="541.5" cy="198.5" rx="2.4" ry="2.2" fill="#e6f4f7" stroke="#333" stroke-width="0.5"/>
<ellipse cx="536.5" cy="200.5" rx="1.2" ry="1" fill="#e6f4f7" stroke="#333" stroke-width="0.5"/>
<path d="M75.4 31.6C76.7 31.6 80.6 31.7 83.4 31.6C86.2 31.6 89 31.4 92.2 31.3C95.4 31.2 99.2 31 102.4 30.9C105.6 30.8 108.3 30.6 111.2 30.4C114.1 30.2 117 30.1 119.9 29.8C122.8 29.5 125.8 29 128.7 28.4C131.6 27.8 134.8 26.8 137.4 26.1C140 25.4 141.7 25.2 144 24.3C146.3 23.4 148.7 22.2 151 21C153.3 19.8 156.8 17.7 158 17" fill="none" stroke="#000" stroke-width="1.0" stroke-dasharray="3.6,2.4"/>
<path d="M52.8 31.6C53.5 32.1 55.4 33.3 57.1 34.5C58.8 35.7 61 37.3 63 38.9C65 40.5 67 42.4 68.8 44C70.6 45.6 72.2 47.4 73.9 48.4C75.6 49.4 76.9 49.8 79 49.8C81.1 49.8 83.6 48.8 86.3 48.4C89 48 91.9 47.9 95.1 47.7C98.3 47.5 101.9 47.3 105.3 47.2C108.7 47.1 112.1 47.1 115.5 47.2C118.9 47.3 122.6 47.6 125.8 47.7C129 47.9 131.8 47.5 134.5 48.1C137.2 48.7 139.4 49.5 141.7 51.3C143.9 53 145.9 56.4 148 58.6C150.1 60.9 151.8 63.4 154.2 64.8C156.6 66.2 160.2 67 162.5 66.9C164.8 66.9 166.4 66 168 64.5C169.6 63 170.7 59.7 172 58C173.3 56.3 174 55.5 176 54.5C178 53.5 180.7 52.5 184 51.8C187.3 51 192 50.5 196 50C200 49.5 204.7 49.2 208 48.6C211.3 48 213.3 47.9 216 46.5C218.7 45.1 221.3 42.2 224 40C226.7 37.8 229.3 35.2 232 33C234.7 30.8 237.3 29 240 27C242.7 25 246 22.7 248 21C250 19.3 251.3 17.7 252 17" fill="none" stroke="#000" stroke-width="1.0" stroke-dasharray="3.6,2.4"/>
<path d="M55 36C55.5 36.7 57.3 38.5 57.9 40C58.5 41.5 58.1 43 58.6 45C59.1 47 59.9 49.8 61 52C62.1 54.2 63.7 56.3 65 58C66.3 59.7 67.4 61 68.8 62.3C70.2 63.5 71.7 64.1 73.2 65.5C74.7 66.9 76.3 69.1 77.8 70.9C79.3 72.7 80.3 75.3 82.3 76.4C84.3 77.5 86.9 77.3 89.6 77.3C92.3 77.3 95.7 76.7 98.7 76.4C101.8 76.1 104.9 75.8 107.9 75.5C111 75.2 114 74.9 117 74.6C120 74.3 123.1 74 126.1 73.7C129.1 73.5 132.1 73.2 135.2 73.1C138.2 73 141.3 72.8 144.4 73.1C147.5 73.3 150.8 73.9 153.5 74.6C156.2 75.3 158.4 76.7 160.8 77.3C163.2 77.9 165.5 78.5 168 78.3C170.5 78.1 173 76.5 176 76C179 75.5 182.7 75.2 186 75C189.3 74.8 192.7 74.7 196 74.6C199.3 74.5 202.7 74.6 206 74.4C209.3 74.2 212.7 74 216 73.4C219.3 72.8 223 71.7 226 71C229 70.3 231.7 69.9 234 69.4C236.3 68.9 238.3 69.1 240 68C241.7 66.9 242.7 64.8 244 63C245.3 61.2 246.5 59 248 57C249.5 55 251.3 52.8 253 51C254.7 49.2 256.2 47 258 46C259.8 45 261.7 44.8 264 45C266.3 45.2 269.3 46.2 272 47C274.7 47.8 277.8 48.8 280 50C282.2 51.2 283.7 52.5 285 54C286.3 55.5 286.8 57.5 288 59C289.2 60.5 290.3 61.7 292 63C293.7 64.3 295.7 66.1 298 67C300.3 67.9 303 68.2 306 68.6C309 69 312.7 69.1 316 69.4C319.3 69.7 322.7 70.2 326 70.6C329.3 71 332.7 71.6 336 72C339.3 72.4 342.7 72.7 346 73C349.3 73.3 352.7 73.7 356 74C359.3 74.3 362.7 74.6 366 75C369.3 75.4 372.7 75.9 376 76.4C379.3 76.9 382.7 77.5 386 78C389.3 78.5 392.7 79 396 79.4C399.3 79.8 402.7 80.3 406 80.6C409.3 80.9 412.7 81.3 416 81.4C419.3 81.5 422.7 81 426 81C429.3 81 432.7 81.2 436 81.4C439.3 81.6 442.7 81.8 446 82C449.3 82.2 452.7 82.4 456 82.6C459.3 82.8 462.7 82.9 466 83C469.3 83.1 472.7 83.2 476 83C479.3 82.8 483 82.7 486 82C489 81.3 491.7 80.3 494 79C496.3 77.7 498.3 76 500 74C501.7 72 502.8 69.3 504 67C505.2 64.7 506.3 62.3 507 60C507.7 57.7 508 55.3 508 53C508 50.7 507.7 48.2 507 46C506.3 43.8 505.5 41.5 504 40C502.5 38.5 500 37.7 498 37C496 36.3 494 36.8 492 36C490 35.2 488.3 33.7 486 32C483.7 30.3 480.7 27.8 478 26C475.3 24.2 472.7 22.5 470 21C467.3 19.5 463.3 17.7 462 17" fill="none" stroke="#000" stroke-width="1.0" stroke-dasharray="3.6,2.4"/>
<path d="M89.6 90.1C90.8 90.5 94.2 91.8 96.9 92.5C99.6 93.2 103 93.7 106 94.3C109 94.9 112.2 95.5 115.2 95.9C118.2 96.4 121 96.8 124.3 97C127.6 97.2 131.5 97.3 135.2 97.4C138.8 97.5 142.5 97.5 146.2 97.4C149.8 97.3 153.1 97.1 157.1 97C161.1 96.9 166.2 97.1 170 97C173.8 96.9 176.7 96.7 180 96.6C183.3 96.5 186.7 96.4 190 96.2C193.3 96 196.3 95.8 200 95.6C203.7 95.4 208 95.2 212 95C216 94.8 220 94.7 224 94.6C228 94.5 232 94.3 236 94.2C240 94.1 244 93.9 248 93.8C252 93.7 256 93.6 260 93.4C264 93.2 268 92.9 272 92.6C276 92.3 280.3 91.9 284 91.6C287.7 91.3 291 91.2 294 91C297 90.8 298.7 90.6 302 90.6C305.3 90.6 310 90.8 314 91C318 91.2 322 91.7 326 92C330 92.3 334 92.4 338 92.6C342 92.8 346 92.9 350 93C354 93.1 358 93 362 93C366 93 370 93.2 374 93.2C378 93.2 382 93.1 386 93C390 92.9 394 92.5 398 92.6C402 92.7 406.3 93.1 410 93.4C413.7 93.7 416.7 94.3 420 94.6C423.3 94.9 426.7 95.2 430 95.4C433.3 95.6 436.7 95.8 440 96C443.3 96.2 446.7 96.3 450 96.4C453.3 96.5 456.7 96.6 460 96.6C463.3 96.6 466.7 96.5 470 96.4C473.3 96.3 476.7 96.2 480 96C483.3 95.8 487 95.3 490 95C493 94.7 495.7 94.8 498 94C500.3 93.2 501.8 91.5 504 90.5C506.2 89.5 508.7 88.8 511 88C513.3 87.2 516.5 86.8 518 86C519.5 85.2 520 84.8 520 83C520 81.2 518.2 77.3 518 75C517.8 72.7 518 70.7 519 69C520 67.3 522.3 66.3 524 65C525.7 63.7 528 62.3 529 61C530 59.7 530.5 58.3 530 57C529.5 55.7 527.7 54.7 526 53C524.3 51.3 522 49 520 47C518 45 516 43 514 41C512 39 510 37 508 35C506 33 504 31 502 29C500 27 497.8 25 496 23C494.2 21 491.8 18 491 17" fill="none" stroke="#000" stroke-width="1.0" stroke-dasharray="3.6,2.4"/>
<path d="M410 22C411.7 22.2 416.7 22.9 420 23.4C423.3 23.9 426.7 24.6 430 25C433.3 25.4 437 25.5 440 26C443 26.5 445.3 27 448 28C450.7 29 453.7 30.7 456 32C458.3 33.3 460 34.5 462 36C464 37.5 466 39.5 468 41C470 42.5 472.3 43.8 474 45C475.7 46.2 477.2 46.8 478 48C478.8 49.2 479 50.7 479 52C479 53.3 478.8 54.7 478 56C477.2 57.3 475.7 58.8 474 60C472.3 61.2 470.3 62.2 468 63C465.7 63.8 463 64.2 460 64.6C457 65 453.3 65.3 450 65.4C446.7 65.5 443.3 65.5 440 65.4C436.7 65.3 433.3 65.2 430 65C426.7 64.8 422.7 64.6 420 64.4C417.3 64.2 417 64.3 414 64C411 63.7 406 63 402 62.4C398 61.8 393.7 61.1 390 60.4C386.3 59.7 383.3 59.1 380 58.4C376.7 57.7 373 57 370 56.4C367 55.8 364.7 55.3 362 54.6C359.3 53.9 356.3 52.9 354 52C351.7 51.1 350 50 348 49C346 48 343.8 47.2 342 46C340.2 44.8 338.2 43.5 337 42C335.8 40.5 335.3 38.7 335 37C334.7 35.3 334.7 33.5 335 32C335.3 30.5 335.8 29 337 28C338.2 27 339.8 26.7 342 26C344.2 25.3 347 24.6 350 24C353 23.4 356.7 22.7 360 22.4C363.3 22.1 366.3 22.1 370 22C373.7 21.9 378 22 382 22C386 22 389.3 22 394 22C398.7 22 407.3 22 410 22" fill="none" stroke="#000" stroke-width="1.0" stroke-dasharray="3.6,2.4"/>
<path d="M65 137C66.5 136.8 71.2 136.2 74 136C76.8 135.8 79.7 135.5 82 136C84.3 136.5 86 137.7 88 139C90 140.3 91.7 143 94 144C96.3 145 99.3 145 102 145C104.7 145 107.3 144.4 110 144C112.7 143.6 115.3 142.9 118 142.6C120.7 142.3 123.5 142.3 126 142C128.5 141.7 130.7 141.7 133 141C135.3 140.3 137.7 138.9 140 138C142.3 137.1 144.8 135.9 147 135.4C149.2 134.9 151.3 134.4 153 135C154.7 135.6 155.5 137.7 157 139C158.5 140.3 160.2 142 162 143C163.8 144 165.8 144 168 145C170.2 146 172.7 147.9 175 149C177.3 150.1 179.6 151.3 181.8 151.3C184.1 151.3 185.9 149.8 188.5 149C191.1 148.2 194.2 147.6 197.6 146.8C201 146.1 205.2 145.3 208.9 144.5C212.6 143.7 216.2 142.8 220 142.2C223.8 141.6 227.6 141.1 231.4 140.7C235.2 140.3 238.9 140.2 242.7 140C246.5 139.8 250.2 139.5 254 139.3C257.8 139.1 261.5 139.2 265.3 138.9C269.1 138.6 272.8 138.1 276.6 137.7C280.4 137.3 284.2 136.7 287.9 136.6C291.6 136.5 295.9 137.1 299 137C302.1 136.9 303.2 136.5 306.5 136C309.8 135.5 314.9 134.5 319 133.9C323.1 133.3 327.2 132.8 331.4 132.4C335.5 132 339.7 131.8 343.9 131.4C348.1 131 352.2 130.3 356.4 130C360.5 129.7 364.6 129.6 368.8 129.3C373 129 377.1 128.7 381.3 128.3C385.5 128 389.6 127.6 393.8 127.2C398 126.8 402.1 126.5 406.3 126C410.5 125.5 414.8 124.9 419 124.5C423.2 124.1 427.3 123.8 431.5 123.5C435.7 123.2 439.9 122.8 444 122.4C448.1 122.1 452.2 121.6 456.4 121.4C460.5 121.2 464.7 121 468.9 121C473.1 121 477.2 121.1 481.4 121.4C485.5 121.7 490.4 122.5 493.8 123C497.2 123.5 499.2 124 502 124.5C504.8 125 508.1 125.9 510.5 126C513 126.1 514.8 125.2 516.7 125C518.6 124.8 521.1 124.6 522 124.5" fill="none" stroke="#000" stroke-width="0.9"/>
<path d="M522 111C522.1 112.2 522.5 115.8 522.5 118C522.5 120.2 521.8 122.5 522 124.5C522.2 126.5 523.3 127.4 524 129.7C524.7 131.9 525.3 135.4 526 138C526.7 140.6 527.3 143.4 528 145.3C528.7 147.2 529.8 148.8 530.2 149.5" fill="none" stroke="#000" stroke-width="0.9"/>
<path d="M46 150C47.3 150.1 51.5 150.4 54 150.6C56.5 150.8 59.8 150.9 61 151" fill="none" stroke="#000" stroke-width="0.9"/>
<path d="M71 151C72.2 151.7 75.5 153.7 78 155C80.5 156.3 83 157.8 86 159C89 160.2 92.7 161.1 96 162C99.3 162.9 102.7 163.9 106 164.6C109.3 165.3 112.7 165.6 116 166C119.3 166.4 123 166.7 126 167C129 167.3 131 167.7 134 168C137 168.3 141 168.4 144 168.6C147 168.8 149.3 169.1 152 169.4C154.7 169.7 157.3 170.3 160 170.6C162.7 170.9 165.5 171 168 171C170.5 171 171.9 170.8 175 170.5C178.1 170.2 182.5 169.7 186.3 169.3C190.1 168.9 193.8 168.4 197.6 168.2C201.4 167.9 205.2 168 208.9 167.8C212.6 167.6 216.2 167.2 220 167C223.8 166.8 227.6 166.5 231.4 166.4C235.2 166.3 238.9 166.6 242.7 166.4C246.5 166.2 250.2 165.9 254 165.5C257.8 165.1 261.5 164.5 265.3 164C269.1 163.5 272.8 163 276.6 162.6C280.4 162.2 284.2 162 287.9 161.8C291.6 161.6 295.9 161.5 299 161.3C302.1 161.1 303.2 160.8 306.5 160.5C309.8 160.2 314.9 159.6 319 159.2C323.1 158.8 327.2 158.3 331.4 157.8C335.5 157.3 339.7 156.8 343.9 156.3C348.1 155.8 352.2 155.3 356.4 154.7C360.5 154.1 364.6 153.2 368.8 152.6C373 152 377.1 151.6 381.3 150.9C385.5 150.2 390.4 149.1 393.8 148.4C397.2 147.7 399.2 147.2 402 146.8C404.8 146.4 407.6 146 410.4 145.9C413.2 145.8 416.2 146.1 419 146C421.8 145.9 424.5 145.6 427.3 145.3C430.1 145 432.8 144.7 435.6 144.3C438.4 144 441.2 143.5 444 143.2C446.8 142.8 449.5 142.6 452.3 142.2C455.1 141.8 457.5 141.4 460.6 141C463.7 140.6 467.5 140.3 471 140C474.5 139.7 477.9 139.3 481.4 139C484.9 138.7 488.4 137.8 491.8 138C495.2 138.2 498.9 139.3 502 140C505.1 140.7 508.1 141.3 510.5 142.2C513 143.1 515 143.9 516.7 145.3C518.4 146.7 519.7 148.2 520.9 150.5C522.1 152.8 523.2 156.1 524 158.8C524.8 161.6 525.1 164.9 525.4 167C525.7 169.1 525.9 170.6 526 171.3" fill="none" stroke="#000" stroke-width="0.9"/>
<path d="M46 170C47.7 170.5 52.7 172 56 173C59.3 174 62.7 175.2 66 176C69.3 176.8 72.7 177.3 76 178C79.3 178.7 82.7 179.3 86 180C89.3 180.7 92.7 181.3 96 182C99.3 182.7 102.7 183.3 106 184C109.3 184.7 112.7 185.4 116 186C119.3 186.6 122.7 187 126 187.4C129.3 187.8 132.7 188.2 136 188.6C139.3 189 142.7 189.3 146 189.6C149.3 189.9 152.3 190.4 156 190.6C159.7 190.8 164.8 191.1 168 191C171.2 190.9 171.9 190.5 175 190.3C178.1 190.1 182.5 189.7 186.3 189.7C190.1 189.7 193.8 189.9 197.6 190.3C201.4 190.7 205.2 191.3 208.9 192C212.6 192.7 216.2 193.6 220 194.2C223.8 194.8 227.6 195.1 231.4 195.3C235.2 195.6 238.9 195.4 242.7 195.7C246.5 196 250.2 196.6 254 197C257.8 197.4 263 197.3 265.3 198C267.6 198.7 267.5 199.8 268 201C268.5 202.2 268.4 204.3 268.5 205" fill="none" stroke="#000" stroke-width="0.9"/>
<path d="M337.7 205C337.7 203 336.3 195.3 337.7 193C339.1 190.7 342.9 191.3 346 191C349.1 190.7 352.9 191.2 356.4 191C359.9 190.8 363.3 189.9 366.8 189.6C370.3 189.3 374.1 189.4 377.2 189C380.3 188.6 382.7 188 385.5 186.9C388.3 185.8 391.1 183.8 393.8 182.7C396.6 181.6 399.2 181.2 402 180.6C404.8 180 407.6 179.5 410.4 179.2C413.2 178.9 416.2 179 419 178.6C421.8 178.2 424.5 177.2 427.3 176.5C430.1 175.8 432.8 175 435.6 174.4C438.4 173.8 441.2 173.5 444 173C446.8 172.5 449.5 171.7 452.3 171.3C455.1 171 457.5 170.9 460.6 170.9C463.7 170.9 467.5 171.4 471 171.3C474.5 171.2 477.9 170.3 481.4 170.3C484.9 170.3 488.4 170.6 491.8 171.3C495.2 172 498.9 173.4 502 174.4C505.1 175.4 508.1 176.3 510.5 177.5C513 178.7 514.6 180 516.7 181.7C518.8 183.4 521.3 185.8 523 187.9C524.7 190 525.8 192.1 527 194.2C528.2 196.3 529.7 199.4 530.2 200.4" fill="none" stroke="#000" stroke-width="0.9"/>
<path d="M81.4 114.7C83.1 114.7 87.9 114.3 91.4 114.4C94.9 114.5 99.4 114.6 102.4 115.1C105.5 115.6 107.6 116.9 109.7 117.5C111.8 118.1 113.1 119 115.2 118.8C117.3 118.6 120.1 117.2 122.5 116.6C124.9 116 127.1 115.4 129.8 115.1C132.5 114.8 135.6 114.8 138.9 114.7C142.2 114.6 146.2 114.4 149.8 114.2C153.5 114 156.6 113.7 160.8 113.6C165 113.5 170.4 113.5 175 113.6C179.6 113.7 184 113.7 188.5 114C193 114.3 197.5 114.9 202 115.2C206.5 115.5 211.1 115.7 215.6 115.8C220.1 115.9 224.5 115.7 229 115.6C233.5 115.5 238.2 115.3 242.7 115.2C247.2 115.1 251.4 115 256 115C260.6 115 265.5 115.2 270 115.2C274.5 115.2 278.5 115.3 283 115.2C287.5 115.1 292.2 114.9 297 114.7C301.8 114.5 306.5 114.2 312 114C317.5 113.8 322.7 113.7 330 113.4C337.3 113.1 347 112.8 356 112.4C365 112 374.7 111.4 384 111C393.3 110.6 402.7 110.1 412 109.8C421.3 109.5 430.6 109.2 440 109C449.4 108.8 460.8 108.7 468.5 108.6C476.2 108.5 481.3 108.2 486 108.3C490.7 108.4 492.8 108.7 496.6 109C500.4 109.3 505.9 110.2 509 109.9C512.1 109.6 513.1 108.5 515.2 107.2C517.3 105.9 519.6 104 521.4 101.9C523.2 99.8 525.1 96 525.8 94.8" fill="none" stroke="#000" stroke-width="2.3" stroke-linejoin="round" stroke-linecap="round"/>
<path d="M525.8 94.8C526.2 93.7 527.4 88.4 528.1 88.4C528.8 88.4 529.3 92.5 530.2 94.8C531.1 97.1 531.9 101.5 533.4 102.4C534.9 103.3 537.7 100.7 539.1 100.1C540.5 99.5 541.5 99.2 542 99" fill="none" stroke="#000" stroke-width="2.3" stroke-linejoin="round" stroke-linecap="round"/>
<path d="M500 17C500.6 17.9 502.1 20.9 503.3 22.6C504.5 24.3 506 26.2 507.2 27.3C508.4 28.4 509.5 29.3 510.6 29.3C511.7 29.3 513.2 28.1 513.9 27.5C514.6 26.9 514.8 26.2 515 26" fill="none" stroke="#000" stroke-width="2.3" stroke-linejoin="round" stroke-linecap="round"/>
<path d="M100.8 37.1L94.3 32M96.9 33L94.3 32L95.8 34.3" stroke="#000" stroke-width="0.8" fill="#000" stroke-linejoin="miter"/>
<path d="M120.9 37.1L115 33.4M117.2 34L115 33.4L116.5 35.2" stroke="#000" stroke-width="0.8" fill="#000" stroke-linejoin="miter"/>
<path d="M141 37.1L135.1 34.9M137.2 35L135.1 34.9L136.7 36.2" stroke="#000" stroke-width="0.8" fill="#000" stroke-linejoin="miter"/>
<path d="M161.1 37.1L155.1 36.1M157.1 35.8L155.1 36.1L156.9 37.1" stroke="#000" stroke-width="0.8" fill="#000" stroke-linejoin="miter"/>
<path d="M181.2 37.1L175 36.7M176.9 36.2L175 36.7L176.9 37.5" stroke="#000" stroke-width="0.8" fill="#000" stroke-linejoin="miter"/>
<path d="M201.2 37.1L193.9 37.1M196.2 36.4L193.9 37.1L196.2 37.9" stroke="#000" stroke-width="0.8" fill="#000" stroke-linejoin="miter"/>
<path d="M221.3 37.1L214 37.1M216.3 36.4L214 37.1L216.3 37.9" stroke="#000" stroke-width="0.8" fill="#000" stroke-linejoin="miter"/>
<path d="M241.4 37.1L233.1 37.1M235.7 36.3L233.1 37.1L235.7 38" stroke="#000" stroke-width="0.8" fill="#000" stroke-linejoin="miter"/>
<path d="M261.5 37.1L253.2 37.5M255.7 36.6L253.2 37.5L255.8 38.3" stroke="#000" stroke-width="0.8" fill="#000" stroke-linejoin="miter"/>
<path d="M281.6 37.1L273.3 37.1M275.9 36.3L273.3 37.1L275.9 38" stroke="#000" stroke-width="0.8" fill="#000" stroke-linejoin="miter"/>
<path d="M301.6 37.1L292.2 37.1M295.2 36.2L292.2 37.1L295.2 38.1" stroke="#000" stroke-width="0.8" fill="#000" stroke-linejoin="miter"/>
<path d="M321.7 37.1L310.7 36.6M314.2 35.7L310.7 36.6L314.1 37.9" stroke="#000" stroke-width="0.8" fill="none" stroke-linejoin="miter"/>
<path d="M341.8 37.1L330.4 34.6M334.2 34.3L330.4 34.6L333.7 36.6" stroke="#000" stroke-width="0.8" fill="none" stroke-linejoin="miter"/>
<path d="M361.9 37.1L346.3 32.9M351.6 32.7L346.3 32.9L350.8 35.9" stroke="#000" stroke-width="0.8" fill="none" stroke-linejoin="miter"/>
<path d="M382 37.1L366.4 30.9M371.9 31.3L366.4 30.9L370.6 34.5" stroke="#000" stroke-width="0.8" fill="none" stroke-linejoin="miter"/>
<path d="M402.1 37.1L385.5 30.2M391.4 30.7L385.5 30.2L390 34.1" stroke="#000" stroke-width="0.8" fill="none" stroke-linejoin="miter"/>
<path d="M422.1 37.1L405.5 29.8M411.5 30.4L405.5 29.8L410 33.8" stroke="#000" stroke-width="0.8" fill="none" stroke-linejoin="miter"/>
<path d="M442.2 37.1L423.5 28.8M430.2 29.5L423.5 28.8L428.5 33.4" stroke="#000" stroke-width="0.8" fill="none" stroke-linejoin="miter"/>
<path d="M462.3 37.1L443.6 26.7M450.5 28.1L443.6 26.7L448.4 31.9" stroke="#000" stroke-width="0.8" fill="none" stroke-linejoin="miter"/>
<path d="M482.4 37.1L468.9 23.6M474.5 26.5L468.9 23.6L471.7 29.3" stroke="#000" stroke-width="0.8" fill="none" stroke-linejoin="miter"/>
<path d="M502.5 37.1L494.2 21.5M498.4 25.6L494.2 21.5L495.2 27.3" stroke="#000" stroke-width="0.8" fill="none" stroke-linejoin="miter"/>
<path d="M80.7 57.5L70.4 50.2M74.4 51.5L70.4 50.2L72.9 53.6" stroke="#000" stroke-width="0.8" fill="none" stroke-linejoin="miter"/>
<path d="M100.8 57.5L89.9 51M94 52L89.9 51L92.7 54.2" stroke="#000" stroke-width="0.8" fill="none" stroke-linejoin="miter"/>
<path d="M120.9 57.5L110.7 52.4M114.4 53L110.7 52.4L113.4 55.1" stroke="#000" stroke-width="0.8" fill="none" stroke-linejoin="miter"/>
<path d="M141 57.5L132 51.5M135.4 52.5L132 51.5L134.2 54.4" stroke="#000" stroke-width="0.8" fill="none" stroke-linejoin="miter"/>
<path d="M161.1 57.5L152.8 53.3M155.8 53.8L152.8 53.3L155 55.5" stroke="#000" stroke-width="0.8" fill="#000" stroke-linejoin="miter"/>
<path d="M181.2 57.5L172.7 54.5M175.6 54.6L172.7 54.5L175 56.4" stroke="#000" stroke-width="0.8" fill="#000" stroke-linejoin="miter"/>
<path d="M201.2 57.5L191.8 55.4M195 55.2L191.8 55.4L194.6 57.1" stroke="#000" stroke-width="0.8" fill="#000" stroke-linejoin="miter"/>
<path d="M221.3 57.5L210.9 55.4M214.4 55L210.9 55.4L214 57.2" stroke="#000" stroke-width="0.8" fill="none" stroke-linejoin="miter"/>
<path d="M241.4 57.5L232 55.4M235.2 55.2L232 55.4L234.7 57.1" stroke="#000" stroke-width="0.8" fill="#000" stroke-linejoin="miter"/>
<path d="M261.5 57.5L252.1 56.5M255.1 55.9L252.1 56.5L254.9 57.8" stroke="#000" stroke-width="0.8" fill="#000" stroke-linejoin="miter"/>
<path d="M281.6 57.5L272.2 56.7M275.2 56L272.2 56.7L275 58" stroke="#000" stroke-width="0.8" fill="#000" stroke-linejoin="miter"/>
<path d="M301.6 57.5L291.2 57.5M294.5 56.5L291.2 57.5L294.5 58.6" stroke="#000" stroke-width="0.8" fill="none" stroke-linejoin="miter"/>
<path d="M321.7 57.5L311.3 57.5M314.6 56.5L311.3 57.5L314.6 58.6" stroke="#000" stroke-width="0.8" fill="none" stroke-linejoin="miter"/>
<path d="M341.8 57.5L330.4 56.9M334.1 56L330.4 56.9L333.9 58.3" stroke="#000" stroke-width="0.8" fill="none" stroke-linejoin="miter"/>
<path d="M361.9 57.5L349.4 55.4M353.5 54.8L349.4 55.4L353.1 57.4" stroke="#000" stroke-width="0.8" fill="none" stroke-linejoin="miter"/>
<path d="M382 57.5L367.5 54.8M372.3 54.2L367.5 54.8L371.8 57.2" stroke="#000" stroke-width="0.8" fill="none" stroke-linejoin="miter"/>
<path d="M402.1 57.5L388.6 54.4M393.1 54L388.6 54.4L392.5 56.8" stroke="#000" stroke-width="0.8" fill="none" stroke-linejoin="miter"/>
<path d="M422.1 57.5L407.1 54M412.2 53.6L407.1 54L411.5 56.7" stroke="#000" stroke-width="0.8" fill="none" stroke-linejoin="miter"/>
<path d="M442.2 57.5L425.6 53.3M431.3 53L425.6 53.3L430.4 56.4" stroke="#000" stroke-width="0.8" fill="none" stroke-linejoin="miter"/>
<path d="M462.3 57.5L445.7 50.2M451.7 50.8L445.7 50.2L450.2 54.2" stroke="#000" stroke-width="0.8" fill="none" stroke-linejoin="miter"/>
<path d="M482.4 57.5L466.8 47.1M472.7 48.8L466.8 47.1L470.6 52" stroke="#000" stroke-width="0.8" fill="none" stroke-linejoin="miter"/>
<path d="M502.5 57.5L491.1 43M496.1 46.4L491.1 43L493.2 48.8" stroke="#000" stroke-width="0.8" fill="none" stroke-linejoin="miter"/>
<path d="M522.6 57.5L516.4 44M519.7 47.7L516.4 44L516.9 48.9" stroke="#000" stroke-width="0.8" fill="none" stroke-linejoin="miter"/>
<path d="M100.8 78.4L92.6 73.3M95.7 74L92.6 73.3L94.7 75.7" stroke="#000" stroke-width="0.8" fill="#000" stroke-linejoin="miter"/>
<path d="M120.9 78.4L113.6 74.4M116.3 74.9L113.6 74.4L115.5 76.4" stroke="#000" stroke-width="0.8" fill="#000" stroke-linejoin="miter"/>
<path d="M141 78.4L134.6 73.9M137.1 74.6L134.6 73.9L136.1 75.9" stroke="#000" stroke-width="0.8" fill="#000" stroke-linejoin="miter"/>
<path d="M161.1 78.4L153.8 74.8M156.4 75.2L153.8 74.8L155.7 76.6" stroke="#000" stroke-width="0.8" fill="#000" stroke-linejoin="miter"/>
<path d="M181.2 78.4L173.9 75.9M176.4 75.9L173.9 75.9L175.9 77.4" stroke="#000" stroke-width="0.8" fill="#000" stroke-linejoin="miter"/>
<path d="M201.2 78.4L192.9 75.3M195.9 75.4L192.9 75.3L195.2 77.1" stroke="#000" stroke-width="0.8" fill="#000" stroke-linejoin="miter"/>
<path d="M221.3 78.4L214 75.3M216.6 75.5L214 75.3L216 77" stroke="#000" stroke-width="0.8" fill="#000" stroke-linejoin="miter"/>
<path d="M241.4 78.4L234.1 76.3M236.6 76.2L234.1 76.3L236.2 77.7" stroke="#000" stroke-width="0.8" fill="#000" stroke-linejoin="miter"/>
<path d="M261.5 78.4L254.2 75.9M256.7 75.9L254.2 75.9L256.2 77.4" stroke="#000" stroke-width="0.8" fill="#000" stroke-linejoin="miter"/>
<path d="M281.6 78.4L273.3 76.9M276 76.5L273.3 76.9L275.7 78.2" stroke="#000" stroke-width="0.8" fill="#000" stroke-linejoin="miter"/>
<path d="M301.6 78.4L294.3 78M296.7 77.4L294.3 78L296.6 78.8" stroke="#000" stroke-width="0.8" fill="#000" stroke-linejoin="miter"/>
<path d="M321.7 78.4L315.5 78.4M317.5 77.7L315.5 78.4L317.5 79" stroke="#000" stroke-width="0.8" fill="#000" stroke-linejoin="miter"/>
<path d="M341.8 78.4L335.6 78.4M337.6 77.7L335.6 78.4L337.6 79" stroke="#000" stroke-width="0.8" fill="#000" stroke-linejoin="miter"/>
<path d="M361.9 78.4L355.7 78.6M357.6 77.9L355.7 78.6L357.7 79.1" stroke="#000" stroke-width="0.8" fill="#000" stroke-linejoin="miter"/>
<path d="M382 78.4L374.7 78.8M376.9 77.9L374.7 78.8L377 79.4" stroke="#000" stroke-width="0.8" fill="#000" stroke-linejoin="miter"/>
<path d="M402.1 78.4L392.7 78.8M395.6 77.7L392.7 78.8L395.6 79.6" stroke="#000" stroke-width="0.8" fill="#000" stroke-linejoin="miter"/>
<path d="M422.1 78.4L413.8 78.8M416.4 77.8L413.8 78.8L416.5 79.5" stroke="#000" stroke-width="0.8" fill="#000" stroke-linejoin="miter"/>
<path d="M442.2 78.4L432.8 76.9M435.9 76.4L432.8 76.9L435.6 78.3" stroke="#000" stroke-width="0.8" fill="#000" stroke-linejoin="miter"/>
<path d="M462.3 78.4L451.9 74.9M455.5 74.9L451.9 74.9L454.8 77" stroke="#000" stroke-width="0.8" fill="none" stroke-linejoin="miter"/>
<path d="M482.4 78.4L473 72.8M476.5 73.6L473 72.8L475.4 75.5" stroke="#000" stroke-width="0.8" fill="none" stroke-linejoin="miter"/>
<path d="M502.5 78.4L496.5 69.4M499.3 71.6L496.5 69.4L497.4 72.8" stroke="#000" stroke-width="0.8" fill="none" stroke-linejoin="miter"/>
<path d="M522.6 78.4L521.6 66.4M523.1 70L521.6 66.4L520.6 70.2" stroke="#000" stroke-width="0.8" fill="none" stroke-linejoin="miter"/>
<path d="M100.8 99.8L98 98M99.4 98.3L98 98L98.9 99.1" stroke="#000" stroke-width="0.8" fill="#000" stroke-linejoin="miter"/>
<path d="M120.9 99.8L117.3 97.6M118.7 97.9L117.3 97.6L118.2 98.7" stroke="#000" stroke-width="0.8" fill="#000" stroke-linejoin="miter"/>
<path d="M141 99.8L137.4 97.6M138.8 97.9L137.4 97.6L138.3 98.7" stroke="#000" stroke-width="0.8" fill="#000" stroke-linejoin="miter"/>
<path d="M161.1 99.8L157.5 97.6M158.8 97.9L157.5 97.6L158.4 98.7" stroke="#000" stroke-width="0.8" fill="#000" stroke-linejoin="miter"/>
<path d="M181.2 99.8L178.1 97.7M179.4 98.1L178.1 97.7L178.9 98.8" stroke="#000" stroke-width="0.8" fill="#000" stroke-linejoin="miter"/>
<path d="M201.2 99.8L198.1 97.9M199.5 98.2L198.1 97.9L199 99" stroke="#000" stroke-width="0.8" fill="#000" stroke-linejoin="miter"/>
<path d="M221.3 99.8L218.3 97.9M219.7 98.2L218.3 97.9L219.2 99" stroke="#000" stroke-width="0.8" fill="#000" stroke-linejoin="miter"/>
<path d="M241.4 99.8L238.4 98M239.8 98.3L238.4 98L239.3 99" stroke="#000" stroke-width="0.8" fill="#000" stroke-linejoin="miter"/>
<path d="M261.5 99.8L258.5 98.2M259.9 98.4L258.5 98.2L259.5 99.2" stroke="#000" stroke-width="0.8" fill="#000" stroke-linejoin="miter"/>
<path d="M281.6 99.8L279 98.6M280.4 98.8L279 98.6L280 99.5" stroke="#000" stroke-width="0.8" fill="#000" stroke-linejoin="miter"/>
<path d="M301.6 99.8L299.6 99.4M301 99.2L299.6 99.4L300.9 100.1" stroke="#000" stroke-width="0.8" fill="#000" stroke-linejoin="miter"/>
<path d="M321.7 99.8L319.7 99.6M321.1 99.3L319.7 99.6L321 100.2" stroke="#000" stroke-width="0.8" fill="#000" stroke-linejoin="miter"/>
<path d="M341.8 99.8L339.8 99.8M341.1 99.4L339.8 99.8L341.1 100.2" stroke="#000" stroke-width="0.8" fill="#000" stroke-linejoin="miter"/>
<path d="M361.9 99.8L359.9 100M361.2 99.4L359.9 100L361.3 100.3" stroke="#000" stroke-width="0.8" fill="#000" stroke-linejoin="miter"/>
<path d="M382 99.8L379.5 100.3M380.7 99.6L379.5 100.3L380.9 100.5" stroke="#000" stroke-width="0.8" fill="#000" stroke-linejoin="miter"/>
<path d="M402.1 99.8L399.1 100.6M400.2 99.8L399.1 100.6L400.5 100.7" stroke="#000" stroke-width="0.8" fill="#000" stroke-linejoin="miter"/>
<path d="M422.1 99.8L419.1 101.3M420.1 100.3L419.1 101.3L420.5 101.1" stroke="#000" stroke-width="0.8" fill="#000" stroke-linejoin="miter"/>
<path d="M442.2 99.8L439.2 100.2M440.5 99.6L439.2 100.2L440.6 100.4" stroke="#000" stroke-width="0.8" fill="#000" stroke-linejoin="miter"/>
<path d="M462.3 99.8L459.3 99.5M460.7 99.2L459.3 99.5L460.6 100.1" stroke="#000" stroke-width="0.8" fill="#000" stroke-linejoin="miter"/>
<path d="M482.4 99.8L479.3 98.3M480.7 98.5L479.3 98.3L480.3 99.3" stroke="#000" stroke-width="0.8" fill="#000" stroke-linejoin="miter"/>
<path d="M502.5 99.8L500.5 95.8M501.5 96.8L500.5 95.8L500.7 97.2" stroke="#000" stroke-width="0.8" fill="#000" stroke-linejoin="miter"/>
<path d="M522.6 99.8L521.7 86.5M523.3 90.6L521.7 86.5L520.6 90.8" stroke="#000" stroke-width="0.8" fill="none" stroke-linejoin="miter"/>
<circle cx="100.8" cy="122" r="0.55" fill="#000"/>
<circle cx="120.9" cy="122" r="0.55" fill="#000"/>
<circle cx="141" cy="122" r="0.55" fill="#000"/>
<circle cx="161.1" cy="122" r="0.55" fill="#000"/>
<circle cx="181.2" cy="122" r="0.55" fill="#000"/>
<circle cx="201.2" cy="122" r="0.55" fill="#000"/>
<circle cx="221.3" cy="122" r="0.55" fill="#000"/>
<circle cx="241.4" cy="122" r="0.55" fill="#000"/>
<circle cx="261.5" cy="122" r="0.55" fill="#000"/>
<circle cx="281.6" cy="122" r="0.55" fill="#000"/>
<circle cx="301.6" cy="122" r="0.55" fill="#000"/>
<path d="M321.7 122L322.9 122.7M321.6 122.4L322.9 122.7L322 121.6" stroke="#000" stroke-width="0.8" fill="#000" stroke-linejoin="miter"/>
<path d="M341.8 122L343.4 122.9M342 122.6L343.4 122.9L342.5 121.9" stroke="#000" stroke-width="0.8" fill="#000" stroke-linejoin="miter"/>
<path d="M361.9 122L363.9 123M362.5 122.8L363.9 123L362.9 122" stroke="#000" stroke-width="0.8" fill="#000" stroke-linejoin="miter"/>
<path d="M382 122L384.6 123.3M383.2 123.1L384.6 123.3L383.6 122.3" stroke="#000" stroke-width="0.8" fill="#000" stroke-linejoin="miter"/>
<path d="M402.1 122L405.1 123.5M403.7 123.3L405.1 123.5L404.1 122.5" stroke="#000" stroke-width="0.8" fill="#000" stroke-linejoin="miter"/>
<path d="M422.1 122L426.1 124M424.7 123.8L426.1 124L425.1 123" stroke="#000" stroke-width="0.8" fill="#000" stroke-linejoin="miter"/>
<path d="M442.2 122L446.2 124M444.8 123.8L446.2 124L445.2 123" stroke="#000" stroke-width="0.8" fill="#000" stroke-linejoin="miter"/>
<path d="M462.3 122L465.9 123M464.5 123.1L465.9 123L464.7 122.2" stroke="#000" stroke-width="0.8" fill="#000" stroke-linejoin="miter"/>
<path d="M482.4 122L485.4 122M484.1 122.4L485.4 122L484.1 121.6" stroke="#000" stroke-width="0.8" fill="#000" stroke-linejoin="miter"/>
<path d="M502.5 122L504.5 120M503.8 121.2L504.5 120L503.2 120.6" stroke="#000" stroke-width="0.8" fill="#000" stroke-linejoin="miter"/>
<path d="M522.6 122L526.2 111.3M526.1 115L526.2 111.3L523.9 114.3" stroke="#000" stroke-width="0.8" fill="none" stroke-linejoin="miter"/>
<path d="M80.7 145.2L87.7 145.6M85.5 146.2L87.7 145.6L85.6 144.8" stroke="#000" stroke-width="0.8" fill="#000" stroke-linejoin="miter"/>
<path d="M100.8 145.2L106.8 145.6M104.9 146.1L106.8 145.6L105 144.9" stroke="#000" stroke-width="0.8" fill="#000" stroke-linejoin="miter"/>
<path d="M120.9 145.2L125.9 145.6M124.3 146L125.9 145.6L124.4 145" stroke="#000" stroke-width="0.8" fill="#000" stroke-linejoin="miter"/>
<path d="M141 145.2L146 145.2M144.4 145.7L146 145.2L144.4 144.7" stroke="#000" stroke-width="0.8" fill="#000" stroke-linejoin="miter"/>
<path d="M161.1 145.2L165.6 145.4M164.1 145.8L165.6 145.4L164.2 144.9" stroke="#000" stroke-width="0.8" fill="#000" stroke-linejoin="miter"/>
<path d="M181.2 145.2L185.2 145.6M183.8 145.9L185.2 145.6L183.9 145" stroke="#000" stroke-width="0.8" fill="#000" stroke-linejoin="miter"/>
<path d="M201.2 145.2L205.8 146.2M204.3 146.4L205.8 146.2L204.5 145.4" stroke="#000" stroke-width="0.8" fill="#000" stroke-linejoin="miter"/>
<path d="M221.3 145.2L226.5 146.7M224.7 146.8L226.5 146.7L225 145.7" stroke="#000" stroke-width="0.8" fill="#000" stroke-linejoin="miter"/>
<path d="M241.4 145.2L247.6 146.7M245.5 146.9L247.6 146.7L245.8 145.6" stroke="#000" stroke-width="0.8" fill="#000" stroke-linejoin="miter"/>
<path d="M261.5 145.2L267.7 146.7M265.6 146.9L267.7 146.7L265.9 145.6" stroke="#000" stroke-width="0.8" fill="#000" stroke-linejoin="miter"/>
<path d="M281.6 145.2L287.8 146.7M285.7 146.9L287.8 146.7L286 145.6" stroke="#000" stroke-width="0.8" fill="#000" stroke-linejoin="miter"/>
<path d="M301.6 145.2L307.8 146.9M305.7 147L307.8 146.9L306.1 145.7" stroke="#000" stroke-width="0.8" fill="#000" stroke-linejoin="miter"/>
<path d="M321.7 145.2L329 147.3M326.5 147.4L329 147.3L327 145.9" stroke="#000" stroke-width="0.8" fill="#000" stroke-linejoin="miter"/>
<path d="M341.8 145.2L350.1 147.3M347.3 147.5L350.1 147.3L347.7 145.8" stroke="#000" stroke-width="0.8" fill="#000" stroke-linejoin="miter"/>
<path d="M361.9 145.2L371.3 147.9M368.1 148L371.3 147.9L368.6 146.1" stroke="#000" stroke-width="0.8" fill="none" stroke-linejoin="miter"/>
<path d="M382 145.2L391.4 148.5M388.1 148.4L391.4 148.5L388.8 146.5" stroke="#000" stroke-width="0.8" fill="none" stroke-linejoin="miter"/>
<path d="M402.1 145.2L411.5 147.9M408.2 148L411.5 147.9L408.8 146.1" stroke="#000" stroke-width="0.8" fill="none" stroke-linejoin="miter"/>
<path d="M422.1 145.2L432.5 148.2M429 148.3L432.5 148.2L429.6 146.2" stroke="#000" stroke-width="0.8" fill="none" stroke-linejoin="miter"/>
<path d="M442.2 145.2L453.6 148.5M449.7 148.6L453.6 148.5L450.4 146.3" stroke="#000" stroke-width="0.8" fill="none" stroke-linejoin="miter"/>
<path d="M462.3 145.2L472.7 147.9M469.2 148.1L472.7 147.9L469.7 146" stroke="#000" stroke-width="0.8" fill="none" stroke-linejoin="miter"/>
<path d="M482.4 145.2L493.8 147.3M490 147.8L493.8 147.3L490.4 145.5" stroke="#000" stroke-width="0.8" fill="none" stroke-linejoin="miter"/>
<path d="M502.5 145.2L512.9 146.2M509.5 146.9L512.9 146.2L509.7 144.8" stroke="#000" stroke-width="0.8" fill="none" stroke-linejoin="miter"/>
<path d="M60.7 169.7L78.4 176.4M72.1 176.1L78.4 176.4L73.5 172.5" stroke="#000" stroke-width="0.8" fill="none" stroke-linejoin="miter"/>
<path d="M80.7 169.7L96.3 172.8M91.1 173.4L96.3 172.8L91.8 170.2" stroke="#000" stroke-width="0.8" fill="none" stroke-linejoin="miter"/>
<path d="M100.8 169.7L115.3 172.2M110.5 172.9L115.3 172.2L111 169.9" stroke="#000" stroke-width="0.8" fill="none" stroke-linejoin="miter"/>
<path d="M120.9 169.7L134.4 171.8M130 172.5L134.4 171.8L130.4 169.8" stroke="#000" stroke-width="0.8" fill="none" stroke-linejoin="miter"/>
<path d="M141 169.7L154.5 172.2M150 172.8L154.5 172.2L150.5 170" stroke="#000" stroke-width="0.8" fill="none" stroke-linejoin="miter"/>
<path d="M161.1 169.7L174.1 172.2M169.7 172.7L174.1 172.2L170.2 170.1" stroke="#000" stroke-width="0.8" fill="none" stroke-linejoin="miter"/>
<path d="M181.2 169.7L192.6 170.7M188.9 171.6L192.6 170.7L189.1 169.2" stroke="#000" stroke-width="0.8" fill="none" stroke-linejoin="miter"/>
<path d="M201.2 169.7L213.7 170.7M209.7 171.7L213.7 170.7L209.9 169.1" stroke="#000" stroke-width="0.8" fill="none" stroke-linejoin="miter"/>
<path d="M221.3 169.7L234.8 171.8M230.4 172.5L234.8 171.8L230.8 169.8" stroke="#000" stroke-width="0.8" fill="none" stroke-linejoin="miter"/>
<path d="M241.4 169.7L255.9 171.8M251.1 172.6L255.9 171.8L251.6 169.7" stroke="#000" stroke-width="0.8" fill="none" stroke-linejoin="miter"/>
<path d="M261.5 169.7L276 172.2M271.2 172.9L276 172.2L271.7 169.9" stroke="#000" stroke-width="0.8" fill="none" stroke-linejoin="miter"/>
<path d="M281.6 169.7L296.1 172M291.3 172.8L296.1 172L291.8 169.8" stroke="#000" stroke-width="0.8" fill="none" stroke-linejoin="miter"/>
<path d="M301.6 169.7L317.2 172.6M312.1 173.3L317.2 172.6L312.6 170.1" stroke="#000" stroke-width="0.8" fill="none" stroke-linejoin="miter"/>
<path d="M321.7 169.7L338.3 173.2M332.8 173.8L338.3 173.2L333.5 170.4" stroke="#000" stroke-width="0.8" fill="none" stroke-linejoin="miter"/>
<path d="M341.8 169.7L359.5 173.2M353.6 173.9L359.5 173.2L354.3 170.3" stroke="#000" stroke-width="0.8" fill="none" stroke-linejoin="miter"/>
<path d="M361.9 169.7L380.6 173.2M374.4 174L380.6 173.2L375.1 170.2" stroke="#000" stroke-width="0.8" fill="none" stroke-linejoin="miter"/>
<path d="M382 169.7L400.7 173.2M394.5 174L400.7 173.2L395.2 170.2" stroke="#000" stroke-width="0.8" fill="none" stroke-linejoin="miter"/>
<path d="M402.1 169.7L420.8 173.2M414.5 174L420.8 173.2L415.2 170.2" stroke="#000" stroke-width="0.8" fill="none" stroke-linejoin="miter"/>
<path d="M422.1 169.7L442.1 173.7M435.5 174.5L442.1 173.7L436.3 170.4" stroke="#000" stroke-width="0.8" fill="none" stroke-linejoin="miter"/>
<path d="M442.2 169.7L463 173.9M456.1 174.7L463 173.9L456.9 170.5" stroke="#000" stroke-width="0.8" fill="none" stroke-linejoin="miter"/>
<path d="M462.3 169.7L483.1 172.8M476.3 174L483.1 172.8L476.9 169.7" stroke="#000" stroke-width="0.8" fill="none" stroke-linejoin="miter"/>
<path d="M482.4 169.7L502.4 173.7M495.7 174.5L502.4 173.7L496.5 170.4" stroke="#000" stroke-width="0.8" fill="none" stroke-linejoin="miter"/>
<path d="M502.5 169.7L522.2 173.4M515.6 174.3L522.2 173.4L516.4 170.2" stroke="#000" stroke-width="0.8" fill="none" stroke-linejoin="miter"/>
<path d="M60.7 195.8L87.7 205.8M78.2 205.5L87.7 205.8L80.2 200" stroke="#000" stroke-width="0.8" fill="none" stroke-linejoin="miter"/>
<path d="M80.7 195.8L107.7 205.8M98.3 205.5L107.7 205.8L100.3 200" stroke="#000" stroke-width="0.8" fill="none" stroke-linejoin="miter"/>
<path d="M100.8 195.8L127.8 205.8M118.3 205.5L127.8 205.8L120.4 200" stroke="#000" stroke-width="0.8" fill="none" stroke-linejoin="miter"/>
<path d="M120.9 195.8L147.9 205.3M138.5 205.1L147.9 205.3L140.4 199.6" stroke="#000" stroke-width="0.8" fill="none" stroke-linejoin="miter"/>
<path d="M141 195.8L168 204.8M158.6 204.8L168 204.8L160.4 199.3" stroke="#000" stroke-width="0.8" fill="none" stroke-linejoin="miter"/>
<path d="M161.1 195.8L188.6 203.8M179.1 204.1L188.6 203.8L180.8 198.5" stroke="#000" stroke-width="0.8" fill="none" stroke-linejoin="miter"/>
<path d="M181.2 195.8L209.7 201.4M200.1 202.6L209.7 201.4L201.3 196.8" stroke="#000" stroke-width="0.8" fill="none" stroke-linejoin="miter"/>
<path d="M201.2 195.8L229.7 201.4M220.2 202.6L229.7 201.4L221.4 196.8" stroke="#000" stroke-width="0.8" fill="none" stroke-linejoin="miter"/>
<path d="M221.3 195.8L249.8 201.4M240.3 202.6L249.8 201.4L241.4 196.8" stroke="#000" stroke-width="0.8" fill="none" stroke-linejoin="miter"/>
<path d="M241.4 195.8L269.9 201.4M260.4 202.6L269.9 201.4L261.5 196.8" stroke="#000" stroke-width="0.8" fill="none" stroke-linejoin="miter"/>
<path d="M261.5 195.8L290 201.2M280.5 202.5L290 201.2L281.6 196.6" stroke="#000" stroke-width="0.8" fill="none" stroke-linejoin="miter"/>
<path d="M281.6 195.8L309.6 200.8M300.3 202.1L309.6 200.8L301.3 196.4" stroke="#000" stroke-width="0.8" fill="none" stroke-linejoin="miter"/>
<path d="M301.6 195.8L328.6 200.3M319.7 201.7L328.6 200.3L320.6 196.2" stroke="#000" stroke-width="0.8" fill="none" stroke-linejoin="miter"/>
<path d="M321.7 195.8L347.7 199.3M339.2 200.9L347.7 199.3L339.9 195.6" stroke="#000" stroke-width="0.8" fill="none" stroke-linejoin="miter"/>
<path d="M341.8 195.8L367.8 199.3M359.3 200.9L367.8 199.3L360 195.6" stroke="#000" stroke-width="0.8" fill="none" stroke-linejoin="miter"/>
<path d="M361.9 195.8L388.4 199.3M379.7 201L388.4 199.3L380.4 195.5" stroke="#000" stroke-width="0.8" fill="none" stroke-linejoin="miter"/>
<path d="M382 195.8L408.8 199.6M400 201.2L408.8 199.6L400.8 195.7" stroke="#000" stroke-width="0.8" fill="none" stroke-linejoin="miter"/>
<path d="M402.1 195.8L429.1 200.3M420.1 201.7L429.1 200.3L421 196.2" stroke="#000" stroke-width="0.8" fill="none" stroke-linejoin="miter"/>
<path d="M422.1 195.8L450.9 201.8M441.3 202.9L450.9 201.8L442.5 197" stroke="#000" stroke-width="0.8" fill="none" stroke-linejoin="miter"/>
<path d="M442.2 195.8L471.1 201.8M461.4 202.9L471.1 201.8L462.7 197" stroke="#000" stroke-width="0.8" fill="none" stroke-linejoin="miter"/>
<path d="M462.3 195.8L491.2 201.8M481.5 202.9L491.2 201.8L482.7 197" stroke="#000" stroke-width="0.8" fill="none" stroke-linejoin="miter"/>
<path d="M482.4 195.8L510.5 202.3M501 203.2L510.5 202.3L502.3 197.4" stroke="#000" stroke-width="0.8" fill="none" stroke-linejoin="miter"/>
<path d="M502.5 195.8L529 202.3M520 203L529 202.3L521.3 197.6" stroke="#000" stroke-width="0.8" fill="none" stroke-linejoin="miter"/>
<path d="M522.6 195.8L532.6 201.8M528.8 201L532.6 201.8L530 198.9" stroke="#000" stroke-width="0.8" fill="none" stroke-linejoin="miter"/>
</g>
<rect x="44" y="17" width="500.5" height="188.3" fill="none" stroke="#5c5c5c" stroke-width="0.9"/>
<line x1="44" y1="33.8" x2="48" y2="33.8" stroke="#404040" stroke-width="0.8"/>
<line x1="544.5" y1="33.8" x2="540.5" y2="33.8" stroke="#404040" stroke-width="0.8"/>
<text x="39.7" y="38.6" font-size="12.3" text-anchor="end" fill="#262626" font-weight="normal" font-style="normal" >10°S</text>
<line x1="44" y1="67.9" x2="48" y2="67.9" stroke="#404040" stroke-width="0.8"/>
<line x1="544.5" y1="67.9" x2="540.5" y2="67.9" stroke="#404040" stroke-width="0.8"/>
<text x="39.7" y="72.7" font-size="12.3" text-anchor="end" fill="#262626" font-weight="normal" font-style="normal" >20°S</text>
<line x1="44" y1="103.4" x2="48" y2="103.4" stroke="#404040" stroke-width="0.8"/>
<line x1="544.5" y1="103.4" x2="540.5" y2="103.4" stroke="#404040" stroke-width="0.8"/>
<text x="39.7" y="108.2" font-size="12.3" text-anchor="end" fill="#262626" font-weight="normal" font-style="normal" >30°S</text>
<line x1="44" y1="141.3" x2="48" y2="141.3" stroke="#404040" stroke-width="0.8"/>
<line x1="544.5" y1="141.3" x2="540.5" y2="141.3" stroke="#404040" stroke-width="0.8"/>
<text x="39.7" y="146.1" font-size="12.3" text-anchor="end" fill="#262626" font-weight="normal" font-style="normal" >40°S</text>
<line x1="44" y1="182.5" x2="48" y2="182.5" stroke="#404040" stroke-width="0.8"/>
<line x1="544.5" y1="182.5" x2="540.5" y2="182.5" stroke="#404040" stroke-width="0.8"/>
<text x="39.7" y="187.3" font-size="12.3" text-anchor="end" fill="#262626" font-weight="normal" font-style="normal" >50°S</text>
<line x1="77.4" y1="205" x2="77.4" y2="201" stroke="#404040" stroke-width="0.8"/>
<line x1="77.4" y1="17" x2="77.4" y2="21" stroke="#404040" stroke-width="0.8"/>
<text x="77.4" y="218.3" font-size="12.3" text-anchor="middle" fill="#262626" font-weight="normal" font-style="normal" >150°E</text>
<line x1="177.8" y1="205" x2="177.8" y2="201" stroke="#404040" stroke-width="0.8"/>
<line x1="177.8" y1="17" x2="177.8" y2="21" stroke="#404040" stroke-width="0.8"/>
<text x="177.8" y="218.3" font-size="12.3" text-anchor="middle" fill="#262626" font-weight="normal" font-style="normal" >180°</text>
<line x1="278.2" y1="205" x2="278.2" y2="201" stroke="#404040" stroke-width="0.8"/>
<line x1="278.2" y1="17" x2="278.2" y2="21" stroke="#404040" stroke-width="0.8"/>
<text x="278.2" y="218.3" font-size="12.3" text-anchor="middle" fill="#262626" font-weight="normal" font-style="normal" >150°W</text>
<line x1="378.6" y1="205" x2="378.6" y2="201" stroke="#404040" stroke-width="0.8"/>
<line x1="378.6" y1="17" x2="378.6" y2="21" stroke="#404040" stroke-width="0.8"/>
<text x="378.6" y="218.3" font-size="12.3" text-anchor="middle" fill="#262626" font-weight="normal" font-style="normal" >120°W</text>
<line x1="479" y1="205" x2="479" y2="201" stroke="#404040" stroke-width="0.8"/>
<line x1="479" y1="17" x2="479" y2="21" stroke="#404040" stroke-width="0.8"/>
<text x="479" y="218.3" font-size="12.3" text-anchor="middle" fill="#262626" font-weight="normal" font-style="normal" >90°W</text>
<text x="19.7" y="19.4" font-size="16" text-anchor="start" fill="#000" font-weight="bold" font-style="normal" >(a)</text>
<rect x="44" y="223.8" width="8.2" height="13.2" fill="#2400d8"/>
<rect x="51.8" y="223.8" width="8.2" height="13.2" fill="#1f0ce6"/>
<rect x="59.7" y="223.8" width="8.2" height="13.2" fill="#1a18f3"/>
<rect x="67.5" y="223.8" width="8.2" height="13.2" fill="#1d2ef9"/>
<rect x="75.4" y="223.8" width="8.2" height="13.2" fill="#2448fd"/>
<rect x="83.3" y="223.8" width="8.2" height="13.2" fill="#2c60ff"/>
<rect x="91.1" y="223.8" width="8.2" height="13.2" fill="#3575ff"/>
<rect x="99" y="223.8" width="8.2" height="13.2" fill="#3e89ff"/>
<rect x="106.9" y="223.8" width="8.2" height="13.2" fill="#499bff"/>
<rect x="114.7" y="223.8" width="8.2" height="13.2" fill="#54adff"/>
<rect x="122.6" y="223.8" width="8.2" height="13.2" fill="#61bdff"/>
<rect x="130.4" y="223.8" width="8.2" height="13.2" fill="#6fccff"/>
<rect x="138.3" y="223.8" width="8.2" height="13.2" fill="#7dd8ff"/>
<rect x="146.2" y="223.8" width="8.2" height="13.2" fill="#8de2ff"/>
<rect x="154" y="223.8" width="8.2" height="13.2" fill="#9decff"/>
<rect x="161.9" y="223.8" width="8.2" height="13.2" fill="#acf2ff"/>
<rect x="169.8" y="223.8" width="8.2" height="13.2" fill="#bbf9ff"/>
<rect x="177.6" y="223.8" width="8.2" height="13.2" fill="#cffbff"/>
<rect x="185.5" y="223.8" width="8.2" height="13.2" fill="#e3feff"/>
<rect x="193.3" y="223.8" width="8.2" height="13.2" fill="#f0fff9"/>
<rect x="201.2" y="223.8" width="8.2" height="13.2" fill="#f9fff0"/>
<rect x="209.1" y="223.8" width="8.2" height="13.2" fill="#fffde3"/>
<rect x="216.9" y="223.8" width="8.2" height="13.2" fill="#fff7cf"/>
<rect x="224.8" y="223.8" width="8.2" height="13.2" fill="#fff0bb"/>
<rect x="232.6" y="223.8" width="8.2" height="13.2" fill="#ffe5ac"/>
<rect x="240.5" y="223.8" width="8.2" height="13.2" fill="#ffd99d"/>
<rect x="248.4" y="223.8" width="8.2" height="13.2" fill="#ffc88d"/>
<rect x="256.2" y="223.8" width="8.2" height="13.2" fill="#ffb67d"/>
<rect x="264.1" y="223.8" width="8.2" height="13.2" fill="#ffa16f"/>
<rect x="272" y="223.8" width="8.2" height="13.2" fill="#ff8b61"/>
<rect x="279.8" y="223.8" width="8.2" height="13.2" fill="#ff7354"/>
<rect x="287.7" y="223.8" width="8.2" height="13.2" fill="#ff5a49"/>
<rect x="295.6" y="223.8" width="8.2" height="13.2" fill="#ff403e"/>
<rect x="303.4" y="223.8" width="8.2" height="13.2" fill="#fc353a"/>
<rect x="311.3" y="223.8" width="8.2" height="13.2" fill="#f82b36"/>
<rect x="319.1" y="223.8" width="8.2" height="13.2" fill="#ef2233"/>
<rect x="327" y="223.8" width="8.2" height="13.2" fill="#e21b31"/>
<rect x="334.9" y="223.8" width="8.2" height="13.2" fill="#d1122d"/>
<rect x="342.7" y="223.8" width="8.2" height="13.2" fill="#bb0927"/>
<rect x="350.6" y="223.8" width="7.9" height="13.2" fill="#a50021"/>
<rect x="44" y="223.8" width="314.5" height="13.2" fill="none" stroke="#7f7f7f" stroke-width="0.8"/>
<line x1="44" y1="237" x2="44" y2="234.5" stroke="#404040" stroke-width="0.8"/>
<text x="44" y="254.6" font-size="11.6" text-anchor="middle" fill="#262626" font-weight="normal" font-style="italic" >-2</text>
<line x1="122.6" y1="237" x2="122.6" y2="234.5" stroke="#404040" stroke-width="0.8"/>
<text x="122.6" y="254.6" font-size="11.6" text-anchor="middle" fill="#262626" font-weight="normal" font-style="italic" >-1</text>
<line x1="201.2" y1="237" x2="201.2" y2="234.5" stroke="#404040" stroke-width="0.8"/>
<text x="201.2" y="254.6" font-size="11.6" text-anchor="middle" fill="#262626" font-weight="normal" font-style="italic" >0</text>
<line x1="279.9" y1="237" x2="279.9" y2="234.5" stroke="#404040" stroke-width="0.8"/>
<text x="279.9" y="254.6" font-size="11.6" text-anchor="middle" fill="#262626" font-weight="normal" font-style="italic" >1</text>
<line x1="358.5" y1="237" x2="358.5" y2="234.5" stroke="#404040" stroke-width="0.8"/>
<text x="358.5" y="254.6" font-size="11.6" text-anchor="middle" fill="#262626" font-weight="normal" font-style="italic" >2</text>
<text x="370.5" y="252.9" font-size="12.1" text-anchor="start" fill="#000" font-weight="bold" font-style="italic" >U10 trend (m/s over 1960-2020)</text>
<rect x="598.5" y="16.5" width="86" height="189" fill="#fff"/>
<clipPath id="bc"><rect x="598.5" y="16.5" width="86" height="189"/></clipPath>
<line x1="598.5" y1="35.4" x2="602" y2="35.4" stroke="#404040" stroke-width="0.8"/>
<text x="594" y="40" font-size="12.3" text-anchor="end" fill="#262626" font-weight="normal" font-style="normal" >10°S</text>
<line x1="598.5" y1="73.2" x2="602" y2="73.2" stroke="#404040" stroke-width="0.8"/>
<text x="594" y="77.8" font-size="12.3" text-anchor="end" fill="#262626" font-weight="normal" font-style="normal" >20°S</text>
<line x1="598.5" y1="111" x2="602" y2="111" stroke="#404040" stroke-width="0.8"/>
<text x="594" y="115.6" font-size="12.3" text-anchor="end" fill="#262626" font-weight="normal" font-style="normal" >30°S</text>
<line x1="598.5" y1="148.8" x2="602" y2="148.8" stroke="#404040" stroke-width="0.8"/>
<text x="594" y="153.4" font-size="12.3" text-anchor="end" fill="#262626" font-weight="normal" font-style="normal" >40°S</text>
<line x1="598.5" y1="186.6" x2="602" y2="186.6" stroke="#404040" stroke-width="0.8"/>
<text x="594" y="191.2" font-size="12.3" text-anchor="end" fill="#262626" font-weight="normal" font-style="normal" >50°S</text>
<line x1="607.1" y1="16.5" x2="607.1" y2="20" stroke="#1a1aff" stroke-width="0.8"/>
<text x="607.1" y="9.3" font-size="12.3" text-anchor="middle" fill="#1a1aff" font-weight="normal" font-style="normal" >-6</text>
<line x1="641.5" y1="16.5" x2="641.5" y2="20" stroke="#1a1aff" stroke-width="0.8"/>
<text x="641.5" y="9.3" font-size="12.3" text-anchor="middle" fill="#1a1aff" font-weight="normal" font-style="normal" >0</text>
<line x1="675.9" y1="16.5" x2="675.9" y2="20" stroke="#1a1aff" stroke-width="0.8"/>
<text x="675.9" y="9.3" font-size="12.3" text-anchor="middle" fill="#1a1aff" font-weight="normal" font-style="normal" >6</text>
<line x1="607.1" y1="205.5" x2="607.1" y2="202" stroke="#ff1a1a" stroke-width="0.8"/>
<text x="607.1" y="222.9" font-size="12.3" text-anchor="middle" fill="#f01414" font-weight="normal" font-style="normal" >-2</text>
<line x1="641.5" y1="205.5" x2="641.5" y2="202" stroke="#ff1a1a" stroke-width="0.8"/>
<text x="641.5" y="222.9" font-size="12.3" text-anchor="middle" fill="#f01414" font-weight="normal" font-style="normal" >0</text>
<line x1="675.9" y1="205.5" x2="675.9" y2="202" stroke="#ff1a1a" stroke-width="0.8"/>
<text x="675.9" y="222.9" font-size="12.3" text-anchor="middle" fill="#f01414" font-weight="normal" font-style="normal" >2</text>
<g clip-path="url(#bc)">
<line x1="641.5" y1="16.5" x2="641.5" y2="205.5" stroke="#000" stroke-width="1.7" stroke-dasharray="9.7,6.9" stroke-dashoffset="3.6"/>
<path d="M644.8 16.4C645 17.3 645.7 20.1 645.9 22C646.1 23.9 646.3 25.7 646.1 27.5C645.9 29.3 645.5 31 644.8 33C644.1 35 642.9 37.3 641.9 39.7C640.9 42.1 639.7 44.8 638.6 47.4C637.5 50 636.4 52.5 635.5 55.1C634.6 57.7 633.9 60.3 633.5 62.9C633.1 65.5 633.1 68 633.1 70.6C633.1 73.2 633.4 75.6 633.7 78.4C634 81.2 634.4 84.2 634.8 87.2C635.2 90.2 635.5 93.1 635.9 96.1C636.3 99.1 636.5 101.9 637 105C637.5 108.1 638.5 111.9 639.2 114.6C639.9 117.3 640.4 118.9 641 121.3C641.6 123.7 642 126.4 642.6 129C643.2 131.6 644.1 134.2 644.8 136.8C645.4 139.4 646 141.9 646.5 144.5C647 147.1 647.3 149.8 647.7 152.2C648.1 154.6 648.2 156.7 648.8 158.9C649.4 161.1 650.2 163.1 651.4 165.5C652.6 167.9 654.3 170.5 655.8 173.3C657.3 176.1 659 179.3 660.3 182.1C661.6 184.9 662.6 187.3 663.6 189.9C664.6 192.5 665.3 195 666.2 197.6C667.1 200.2 668.6 204.2 669.1 205.5" fill="none" stroke="#ff0000" stroke-width="1.85" stroke-linejoin="round"/>
<path d="M623.1 16.4C622.8 17.5 622.2 20.7 621.5 23.1C620.8 25.5 619.8 28 618.9 30.8C618 33.6 616.8 36.8 616 39.7C615.2 42.7 614.6 45.9 614.2 48.5C613.8 51.1 613.8 52.7 613.8 55.1C613.8 57.5 614 60.1 614.5 62.9C615 65.7 615.7 68.8 616.5 71.7C617.3 74.7 618.1 77.6 619.3 80.6C620.5 83.5 622.1 86.5 623.8 89.4C625.5 92.4 627.5 95.3 629.3 98.3C631.1 101.3 633 104.6 634.6 107.5C636.2 110.4 637.5 112.9 639.2 115.7C640.9 118.5 642.9 121.6 644.8 124.6C646.6 127.5 648.5 130.4 650.3 133.4C652.1 136.4 653.9 139.2 655.8 142.3C657.6 145.4 659.5 148.9 661.4 152.2C663.2 155.5 665.2 159 666.9 162.2C668.5 165.3 670 168.1 671.3 171.1C672.6 174.1 673.7 176.9 674.6 179.9C675.5 182.9 676.3 185.9 676.9 188.8C677.5 191.8 677.9 194.8 678.2 197.6C678.5 200.4 678.5 204.2 678.6 205.5" fill="none" stroke="#0000ff" stroke-width="1.85" stroke-linejoin="round"/>
</g>
<rect x="598.5" y="16.5" width="86" height="189" fill="none" stroke="#404040" stroke-width="1"/>
<text x="573.3" y="19" font-size="16" text-anchor="start" fill="#000" font-weight="bold" font-style="normal" >(b)</text>
<line x1="586.3" y1="232.7" x2="610.6" y2="232.7" stroke="#0000ff" stroke-width="1.6"/>
<line x1="586.3" y1="248.1" x2="610.6" y2="248.1" stroke="#ff0000" stroke-width="1.6"/>
<text x="615.3" y="237.5" font-size="11.9" text-anchor="start" fill="#0000ff" font-weight="bold" font-style="italic" >Climatology</text>
<text x="615.3" y="252.9" font-size="11.9" text-anchor="start" fill="#ff0000" font-weight="bold" font-style="italic" >Linear trend</text>
<rect x="44" y="272.3" width="587" height="160.7" fill="#fff"/>
<clipPath id="cc"><rect x="44" y="271.8" width="587" height="161.7"/></clipPath>
<line x1="44" y1="272.3" x2="47.5" y2="272.3" stroke="#ff1a1a" stroke-width="0.8"/>
<text x="38.3" y="277.4" font-size="12.3" text-anchor="end" fill="#f01414" font-weight="normal" font-style="normal" >32°S</text>
<line x1="44" y1="312.5" x2="47.5" y2="312.5" stroke="#ff1a1a" stroke-width="0.8"/>
<text x="38.3" y="317.6" font-size="12.3" text-anchor="end" fill="#f01414" font-weight="normal" font-style="normal" >31.5°S</text>
<line x1="44" y1="352.6" x2="47.5" y2="352.6" stroke="#ff1a1a" stroke-width="0.8"/>
<text x="38.3" y="357.8" font-size="12.3" text-anchor="end" fill="#f01414" font-weight="normal" font-style="normal" >31°S</text>
<line x1="44" y1="392.8" x2="47.5" y2="392.8" stroke="#ff1a1a" stroke-width="0.8"/>
<text x="38.3" y="397.9" font-size="12.3" text-anchor="end" fill="#f01414" font-weight="normal" font-style="normal" >30.5°S</text>
<line x1="44" y1="433" x2="47.5" y2="433" stroke="#ff1a1a" stroke-width="0.8"/>
<text x="38.3" y="438.1" font-size="12.3" text-anchor="end" fill="#f01414" font-weight="normal" font-style="normal" >30°S</text>
<line x1="631" y1="272.3" x2="627.5" y2="272.3" stroke="#1a1aff" stroke-width="0.8"/>
<text x="636.8" y="277.2" font-size="12.3" text-anchor="start" fill="#1a1aff" font-weight="normal" font-style="normal" >1</text>
<line x1="631" y1="312.5" x2="627.5" y2="312.5" stroke="#1a1aff" stroke-width="0.8"/>
<text x="636.8" y="317.4" font-size="12.3" text-anchor="start" fill="#1a1aff" font-weight="normal" font-style="normal" >0.5</text>
<line x1="631" y1="352.6" x2="627.5" y2="352.6" stroke="#1a1aff" stroke-width="0.8"/>
<text x="636.8" y="357.5" font-size="12.3" text-anchor="start" fill="#1a1aff" font-weight="normal" font-style="normal" >0</text>
<line x1="631" y1="392.8" x2="627.5" y2="392.8" stroke="#1a1aff" stroke-width="0.8"/>
<text x="636.8" y="397.7" font-size="12.3" text-anchor="start" fill="#1a1aff" font-weight="normal" font-style="normal" >-0.5</text>
<line x1="631" y1="433" x2="627.5" y2="433" stroke="#1a1aff" stroke-width="0.8"/>
<text x="636.8" y="437.9" font-size="12.3" text-anchor="start" fill="#1a1aff" font-weight="normal" font-style="normal" >-1</text>
<line x1="92.1" y1="433" x2="92.1" y2="429.5" stroke="#404040" stroke-width="0.8"/>
<text x="92.1" y="451.5" font-size="12.3" text-anchor="middle" fill="#333" font-weight="normal" font-style="normal" >1965</text>
<line x1="188.3" y1="433" x2="188.3" y2="429.5" stroke="#404040" stroke-width="0.8"/>
<text x="188.3" y="451.5" font-size="12.3" text-anchor="middle" fill="#333" font-weight="normal" font-style="normal" >1975</text>
<line x1="284.6" y1="433" x2="284.6" y2="429.5" stroke="#404040" stroke-width="0.8"/>
<text x="284.6" y="451.5" font-size="12.3" text-anchor="middle" fill="#333" font-weight="normal" font-style="normal" >1985</text>
<line x1="380.8" y1="433" x2="380.8" y2="429.5" stroke="#404040" stroke-width="0.8"/>
<text x="380.8" y="451.5" font-size="12.3" text-anchor="middle" fill="#333" font-weight="normal" font-style="normal" >1995</text>
<line x1="477" y1="433" x2="477" y2="429.5" stroke="#404040" stroke-width="0.8"/>
<text x="477" y="451.5" font-size="12.3" text-anchor="middle" fill="#333" font-weight="normal" font-style="normal" >2005</text>
<line x1="573.3" y1="433" x2="573.3" y2="429.5" stroke="#404040" stroke-width="0.8"/>
<text x="573.3" y="451.5" font-size="12.3" text-anchor="middle" fill="#333" font-weight="normal" font-style="normal" >2015</text>
<g clip-path="url(#cc)">
<line x1="44" y1="352.6" x2="631" y2="352.6" stroke="#000" stroke-width="1.7" stroke-dasharray="8.5,6.22"/>
<polyline points="48.4,336.4 49.3,331.9 50.7,329.8 52,335.5 53.7,346.1 54.1,353.7 55.5,344.3 56.7,328.4 58.2,313.4 59.9,315.1 61.2,323.1 62.6,340.8 63.3,360.6 64.4,344.3 65.2,339.9 66.7,342.6 67.9,339.9 69.1,333.7 70.5,339 72,357.9 74.4,337.3 76.2,323.1 78,321.9 79.4,326.6 81.2,333.7 82.6,347.9 83.3,354 84,340.8 85.1,334.6 87.4,335.5 88.2,344.3 89.8,371.5 91.3,390.4 92.8,382 94.4,365.2 96.5,348.4 97.1,340.8 98.5,336.4 99.8,342.6 100.3,358.9 101.6,364.2 102.8,352.6 103.3,331.9 104.5,329.3 105.6,326.6 106.8,321.3 108.1,316.9 109.5,321.3 110.9,314.2 112.1,309.3 113.4,312.5 114.4,308.1 115.7,308.6 116.6,303.6 117.5,296.5 118.3,297.4 119.2,323.1 120.1,344.3 120.2,354.7 122.2,365.2 123.9,375.7 125.5,385.2 126.6,383.1 128.1,398.8 129.1,390.4 130.6,382 132.3,367.3 133.5,352.6 133.9,328.4 135.7,305.4 136.9,303.6 138.2,319.6 139.6,339 140.5,344.3 141.3,335.5 142.8,331.1 144,337.3 145.2,329.3 146.7,327 148.1,335.5 149.3,346.1 150.2,339.9 151.1,347.9 152.3,340.8 153.4,344.3 154.6,339.9 155.9,337.6 156.9,344.3 157.6,350 157.7,361 159.2,368.4 160.6,374.7 161.1,365.2 162.5,358.9 163.8,365.2 165.3,350.5 166.7,367.3 168,377.8 169.5,361 170.9,346.3 171.5,346.1 172.7,335.5 174.2,317.8 175,314.2 176.3,321.3 177.3,337.3 178.6,340.8 180,349.5 182.1,348.4 184.2,349.5 185.6,348 187.3,361 189,369.4 190.5,352.6 191.9,340 192.7,326.6 194,314.2 195,308.9 196.3,326.6 197.5,321.3 198.9,308.1 199.8,307.5 201.1,317.8 202.5,337.3 203.9,340.8 204.6,356.8 206.2,377.8 207.9,388.3 209.4,389.4 210.9,379.9 212.5,361 213.6,344.2 214,331.1 214.9,340.8 215.1,352.6 216.3,361 217.2,369.4 218.8,352.6 220.9,344.2 222.8,332.8 223.9,350.5 225.2,356.8 226.4,346.3 227,349.8 228.6,339.9 230.6,333.9 232.6,329.9 234,339.9 235.4,361.8 237,377.7 238.5,389.7 239.9,385.7 241.3,369.8 242.5,360.8 243.5,373.7 244.9,383.7 246.5,390.7 247.9,379.7 248.9,359.8 250.3,341.9 251.3,334.9 252.9,333.5 254.1,334.9 254.9,349.8 255.9,362.8 256.9,353.8 257.9,341.9 259.3,334.9 260.9,343.9 262.5,351.8 263.4,345.9 264.4,337.9 265.4,344.9 266.4,335.9 267.8,327.9 268.8,322 270.4,318 270.6,310.7 271.5,303.6 272.9,316 274.2,323.1 275.4,330.2 276.5,335.5 277.7,323.1 278.6,320.4 280,328.4 280.8,325.8 282.2,333.7 283.4,344.3 283.5,352.6 284.4,367.3 285.5,371.5 286.9,363.1 288.2,350.5 288.4,340.8 289.8,331.9 291,328.4 292.3,329.3 293.3,340.8 293.4,348.4 293.9,361 295.3,364.2 296.6,368.4 298.1,364.2 299.5,361 300.8,371.5 302.3,381 303.3,377.8 305,363.1 306.5,352.6 307.5,337.3 308.7,328.4 309.6,326.3 310.7,331.9 311.8,330.2 312.8,337.3 314.1,344.3 314.2,361 315.3,354.7 316.7,344.3 318.1,335.5 319.4,326.6 320.6,319.6 321.7,318.7 322.5,324.9 323.8,326.6 325,314.2 326.4,300.1 327.7,301 328.7,294.8 330,293 330.9,305.4 331.9,323.1 333,340.8 334,358 335.3,339 336.5,332.8 337.9,330.2 339.2,335.5 340.2,344.3 340.3,352.6 341.6,367.3 342.8,376.8 344.3,369.4 345.8,371.5 347.5,375.7 348.9,379.9 350,392.5 351.2,406.2 352.5,398.8 353.8,406.2 355,390.4 356.3,392.5 358,396.7 359.4,403.1 360.7,409.4 361.8,400.9 363.2,390.4 364.7,379.9 366,369.4 367,356.8 368.1,346.3 368.2,337.3 368.3,330.2 368.4,324.9 369.5,326.6 370.7,337.3 371.6,346.1 372.3,357 374.2,340.8 375.5,333.7 376.9,329.3 378.3,328.4 379.5,333.7 380.4,344.3 382.8,354.7 382.9,344.3 383,335.5 383.6,328.4 384.8,321.3 386.1,314.2 387.5,310.7 388.7,316 389.8,330.2 391,346.1 392.3,347.9 393.4,330.2 394.7,323.1 395.9,316.9 397,321.3 398.2,333.7 399.4,344.3 399.5,354.7 399.8,368.4 400.8,354.7 401.7,337.3 403,323.1 404,326.6 405.3,313.4 406.5,314.2 407.9,319.6 409.3,314.2 410.6,305.4 411.8,298.3 413.2,287.7 414.3,278 415.4,276.2 416.8,272.7 418,280.6 419.4,287.7 420.8,296.5 422.1,303.6 423.5,293 424.7,284.2 426.2,277.1 427.4,284.2 428.6,301.9 429.7,309.8 430.9,307.2 432,306.3 433.1,312.5 434.5,321.3 435.7,328.4 437.1,340.8 437.8,346.3 438.9,351.6 439.9,346.3 440.7,337.3 441.9,323.1 443.3,305.4 444.6,297.4 445.6,305.4 446.9,314.2 447.9,328.4 449,344.3 453.4,352.6 455.1,361 456.7,371.5 457.8,375.7 458.8,367.3 460.3,354.7 461.8,344.2 461.9,340.8 462.8,328.4 464.2,317.8 465.5,315.7 466.3,321.3 467.6,330.2 468.6,331.1 469.9,324.9 471.3,326.6 472.5,320.4 473.4,319.6 474.5,326.6 475.7,337.3 477,346.1 477.1,350.5 478.2,358.9 479.2,348.4 480.5,347.9 481.9,337.3 483.2,340.8 484,331.9 485.3,335.5 486.3,346.1 486.4,358.9 487.2,367.3 488.7,358.9 490.2,346.3 490.6,337.3 491.6,331.9 492.9,328.4 493.8,327 495,335.5 496.4,342.6 497.7,346.1 497.8,355.8 498.7,340.8 500,331.9 501.2,321.3 502.3,312.5 503.5,307.2 504.6,314.2 505.6,328.4 506.7,340.8 507.9,337.3 508.8,323.1 510.1,312.5 511.5,308.1 512.9,305.4 513.8,314.2 514.7,330.2 515.9,344.3 517,346.1 518.2,339 519.4,333.7 520.5,332.8 521.7,337.3 523,346.1 524.6,348.4 524.9,340.8 526.2,323.1 527.6,305.4 528.8,291.2 529.7,283.3 530.8,281.5 531.8,282.4 532.9,273.5 533.8,272.7 534.7,285.9 535.9,287.7 536.8,293 538,292.1 539.1,300.1 540,307.2 540.8,303.6 541.7,305.4 542.6,303.6 543.5,314.2 544.4,323.1 545.3,328.4 546.5,319.6 547.8,312.5 548.8,307.2 550.1,298.3 551.1,292.7 552.2,298.3 553.2,314.2 554.5,326.6 555.5,328.4 556.6,319.6 557.7,308.9 558.9,300.1 560,293.9 561.2,292.5 562.3,296.5 563.3,305.4 564.2,307.2 565.1,317.8 566,322.2 566.9,312.5 567.9,303.6 569,298.3 569.9,294.8 570.9,301.9 571.8,307.2 572.7,316 573.6,323.1 574.7,314.2 575.7,300.1 576.8,292.1 577.8,291.2 578.9,286.8 579.6,286.3 580.7,293 581.6,303.6 582.4,310.7 583.5,317.8 584.6,326.6 585.6,330.2 586.7,326.6 587.8,332.8 588.8,328.4 589.9,317.8 590.9,314.2 592,321.3 593.1,313.4 593.9,323.1 594.8,321.3 595.7,305.4 596.6,291.2 597.5,277.1 598.4,271.8 599.6,272.1 600.5,284.2 601.4,305.4 602.3,323.1 603.3,331.1 604.4,330.2 605.5,323.1 606.5,316 607.6,312.5 608.6,317.8 609.7,320.4 610.8,314.2 611.8,308.1 612.9,307.2 613.9,309.8 615,308.1 616.1,305.4 617.1,301.9 618.2,298.3 619.1,297.4 620,310.7 620.8,330.2 621.7,344.3 622.8,355.8 623.5,340.8 624.6,330.2 625.6,322.2 626.7,321.3" fill="none" stroke="#ff0000" stroke-width="1.95" stroke-linejoin="round" stroke-linecap="round"/>
<polyline points="49.3,381 51.4,387.3 52.8,387.9 54.5,381 56.2,375.7 57.7,374.7 59.8,368.4 61.2,372.6 62.9,365.2 64.4,361 66.1,368.4 67.5,366.9 69.2,366.3 70.7,375.7 72.4,378.9 73.8,388.3 75.5,390.4 77,389.4 78.7,398.8 80.1,403.1 81.8,418.8 83.3,412.5 84.6,399.9 86,411.5 87.5,414.6 89.2,424.1 90.9,431.8 92.3,422 93.8,418.8 95.5,426.2 97,424.1 98.2,420.9 99.7,425.1 101.2,413.6 102.8,403.1 104.3,396.7 105.6,399.9 107.1,393.6 108.7,387.3 110.2,385.2 111.7,383.1 113.4,381 114.8,386.2 116.5,381 118,387.3 119.2,393.6 120.7,388.3 122.4,390.4 123.9,396.7 125.5,406.2 127,403.1 128.5,407.3 130.2,400.9 131.9,394.6 133.3,384.1 134.8,375.7 136.5,366.3 138.2,364.8 139.6,363.1 141.1,360 142.8,360 144.5,365.2 145.9,371.5 147.4,367.3 149.1,374.7 150.8,378.9 152.2,376.8 153.7,384.1 155.4,383.1 157.1,391.5 158.5,396.7 160,397.8 161.7,395.7 163.4,400.9 164.6,391.5 166.3,385.2 168,386.2 169.5,373.6 170.9,363.1 172.6,361 174.3,352.6 175.3,348.4 176.8,354.7 178.3,353.7 180,360 181.4,358.9 183.1,373.6 184.2,378.9 185.6,377.8 187.3,387.3 188.8,389.4 190.1,377.8 191.5,367.3 193.2,366.3 194.7,358.9 196.1,355.8 197.8,348.4 198.9,344.2 199.9,349.5 201,367.3 202.5,382 203.7,389.4 205.2,388.3 206.7,403.1 208.3,410.4 210,405.2 211.5,400.9 212.5,390.4 214.2,382 215.7,377.8 217.2,381 218.4,371.5 219.9,365.2 221.4,366.3 223.1,361 224.7,355.8 226.2,350.5 226.3,337.9 226.6,331.9 228,324.9 229.4,325.9 231,335.9 232.6,343.9 234,355.8 235.4,367.8 236.6,375.7 237.9,381.7 239.3,383.7 240.5,391.7 241.9,381.7 243.3,378.7 244.9,380.7 246.3,382.7 247.5,385.7 248.9,377.7 250.3,373.7 251.9,367.8 253.3,359.8 254.5,356.8 255.9,355.8 256.9,345.9 257.9,337.9 258.9,334.9 259.9,341.9 260.9,349.8 261.9,356.8 262.8,355.8 263.8,361.8 264.8,365.8 265.8,359.8 267.2,357.8 268.4,354.8 269.8,349.8 271.2,343.9 272.4,342.9 273.8,347.8 275.2,346.9 276.4,350.8 277.8,350.8 279.2,359.8 280.4,369.8 281.8,361.8 283.2,363.8 284.4,369.8 285.9,363.1 287.6,354.7 289,346.3 289.3,339 290.5,336.4 291.9,337.3 293.2,346.1 294.5,350.5 296,349.5 297.4,356.8 299.1,365.2 300.8,361 302.3,362.1 303.7,358.9 305.4,355.8 306.9,349.5 308.6,353.7 310,346.3 311.7,342.1 312.3,346.1 313.5,340.8 314.6,337.3 315.8,342.6 317.1,347.9 318.5,348.8 319.4,344.3 320.6,340.8 321.7,335.5 322.9,328.4 323.8,324.9 325,326.6 326.1,319.6 327,316 328.2,323.1 329.1,326.6 330,321.3 330.9,330.2 331.9,340.8 333,347.9 334.4,346.1 335.5,342.6 336.5,346.1 337.9,344.3 339.2,347.9 340.6,347 341.8,344.3 343.3,340.8 344.3,344.3 345.4,350 345.5,352.6 346.4,363.1 347.9,366.3 349.6,371.5 350.8,382 352.1,388.3 353.3,379.9 354.8,377.8 356.3,378.9 358,374.7 359.4,371.5 360.7,363.1 361.8,352.6 362.6,344.2 362.7,340.8 363.6,333.7 365,328.4 366.3,324.9 367.3,317.8 368.4,309.8 369.5,307.2 370.3,314.2 371.2,324.9 372.5,325.8 373.3,331.9 374.4,339 375.6,341.7 376.9,340.8 378.3,342.6 379.5,343.5 380.8,344.3 382.2,345.2 383.6,339.9 384.8,335.5 386.1,338.1 387.5,339 388.7,337.3 389.8,340.8 391,336.4 392.3,334.6 393.4,337.3 394.7,344.3 395.9,347.9 397.3,342.6 399.8,354.7 400.8,344.3 402.1,337.3 403.2,332.8 404.4,340.8 405.6,342.6 407,335.5 408.3,331.9 409.3,333.7 410.6,321.3 411.8,314.2 413.2,303.6 414.5,294.8 415.5,293 416.8,293.4 418,298.3 419.4,307.2 420.7,315.1 421.6,316.9 422.6,310.7 423.9,312.5 425.1,313.4 426.2,311.6 427.4,310.4 428.5,316 429.5,313.4 430.6,319.6 431.8,317.8 433.1,323.1 434.1,333.7 435.4,344.3 436.6,348.8 436.8,350.5 438.2,357.9 439.7,352.6 439.8,347.9 440.1,340.8 441.6,330.2 443,323.1 444.2,316.9 445.6,316 446.5,323.1 447.6,330.2 448.6,331.9 449.9,331.1 450.9,340.8 452.2,350 452.3,354.7 453.4,361 454.6,366.3 455.7,368.4 457.2,363.1 458.4,355.8 459.7,350.5 461.4,344.2 461.5,340.8 462.3,342.6 463.3,339.9 464.6,338.1 465.8,336.4 466.9,337.3 468.1,331.1 469.3,331.9 470.4,330.2 471.6,335.5 472.9,329.3 473.9,325.8 475.2,324.9 476.2,331.9 477.3,338.1 478.7,340.8 480,342.6 481,347.9 481.3,348.4 482.4,353.7 483.8,347.4 485.1,349.5 486.6,350.5 486.7,347.9 486.8,344.3 487.6,343.5 488.8,342.6 489.9,340.8 491.1,334.6 492.4,331.1 493.4,329.3 494.7,333.7 495.7,340.8 496.8,347.9 497.7,347.4 498.2,346.1 499.4,342.6 500.5,346.1 501.7,341.7 503,338.1 504,339.9 505.3,340.8 506.5,333.7 507.6,324.9 508.8,316 510.1,313.4 511.5,314.2 512,315.1 513.4,316.9 514.7,321.3 515.9,323.1 517,328.4 518.2,327.5 519.1,332.8 520,340.8 521.2,346.1 522.1,351.6 523.5,346.1 524.7,337.3 526.2,323.1 527.6,310.7 528.8,302.7 530.1,301.9 531.1,299.2 532.4,293.9 533.6,297.4 534.7,305.4 535.9,317.8 537.1,326.6 538.2,331.1 539.1,335.5 540.3,331.9 541.6,331.1 542.6,329.3 543.9,334.6 544.7,330.2 546,321.3 547,312.5 547.9,309.8 548.8,317.8 549.7,323.1 550.6,326.6 551.6,323.1 552.7,322.2 553.8,324.9 554.7,323.1 555.7,331.9 556.6,338.1 557.7,339.9 558.9,340.8 560,339 561.2,339.9 562.3,343.5 563.3,347 564.5,349.5 565.6,345.2 566.5,340.8 567.6,338.1 568.6,337.3 569.7,331.9 570.8,328.4 571.8,326.6 572.9,327.5 573.9,321.3 575,316 576.1,311.6 577.1,307.2 578.2,308.1 579.3,309.8 580.3,303.6 581.4,304.5 582.4,307.2 583.5,309.8 584.6,306.3 585.6,308.1 586.7,316 587.8,322.2 588.8,323.1 589.9,327.5 590.9,331.9 592,326.6 593.1,331.1 594.1,324.9 595.2,322.2 596.2,324.9 597.3,317.8 598.4,310.7 599.4,306.3 600.5,308.1 601.6,314.2 602.6,319.6 603.7,318.7 604.7,320.4 605.8,318.7 606.9,317.8 607.9,321.3 609,319.6 610.1,317.8 611.1,315.1 612.2,316 613.2,312.5 614.3,311.6 615.4,317.8 616.4,326.6 617.5,336.4 618.5,331.9 619.6,333.7 620.7,339 621.7,344.3 622.8,346.1 623.9,339 624.9,331.9 626.2,324.9" fill="none" stroke="#0000ff" stroke-width="1.95" stroke-linejoin="round" stroke-linecap="round"/>
</g>
<rect x="44" y="272.3" width="587" height="160.7" fill="none" stroke="#404040" stroke-width="1"/>
<text x="50.3" y="293" font-size="16" text-anchor="start" fill="#000" font-weight="bold" font-style="normal" >(c)</text>
<text transform="translate(675.5,352.65) rotate(-90)" font-size="12.7" text-anchor="middle" fill="#1a1aff">Normalized SAM</text>
</svg></body></html>
